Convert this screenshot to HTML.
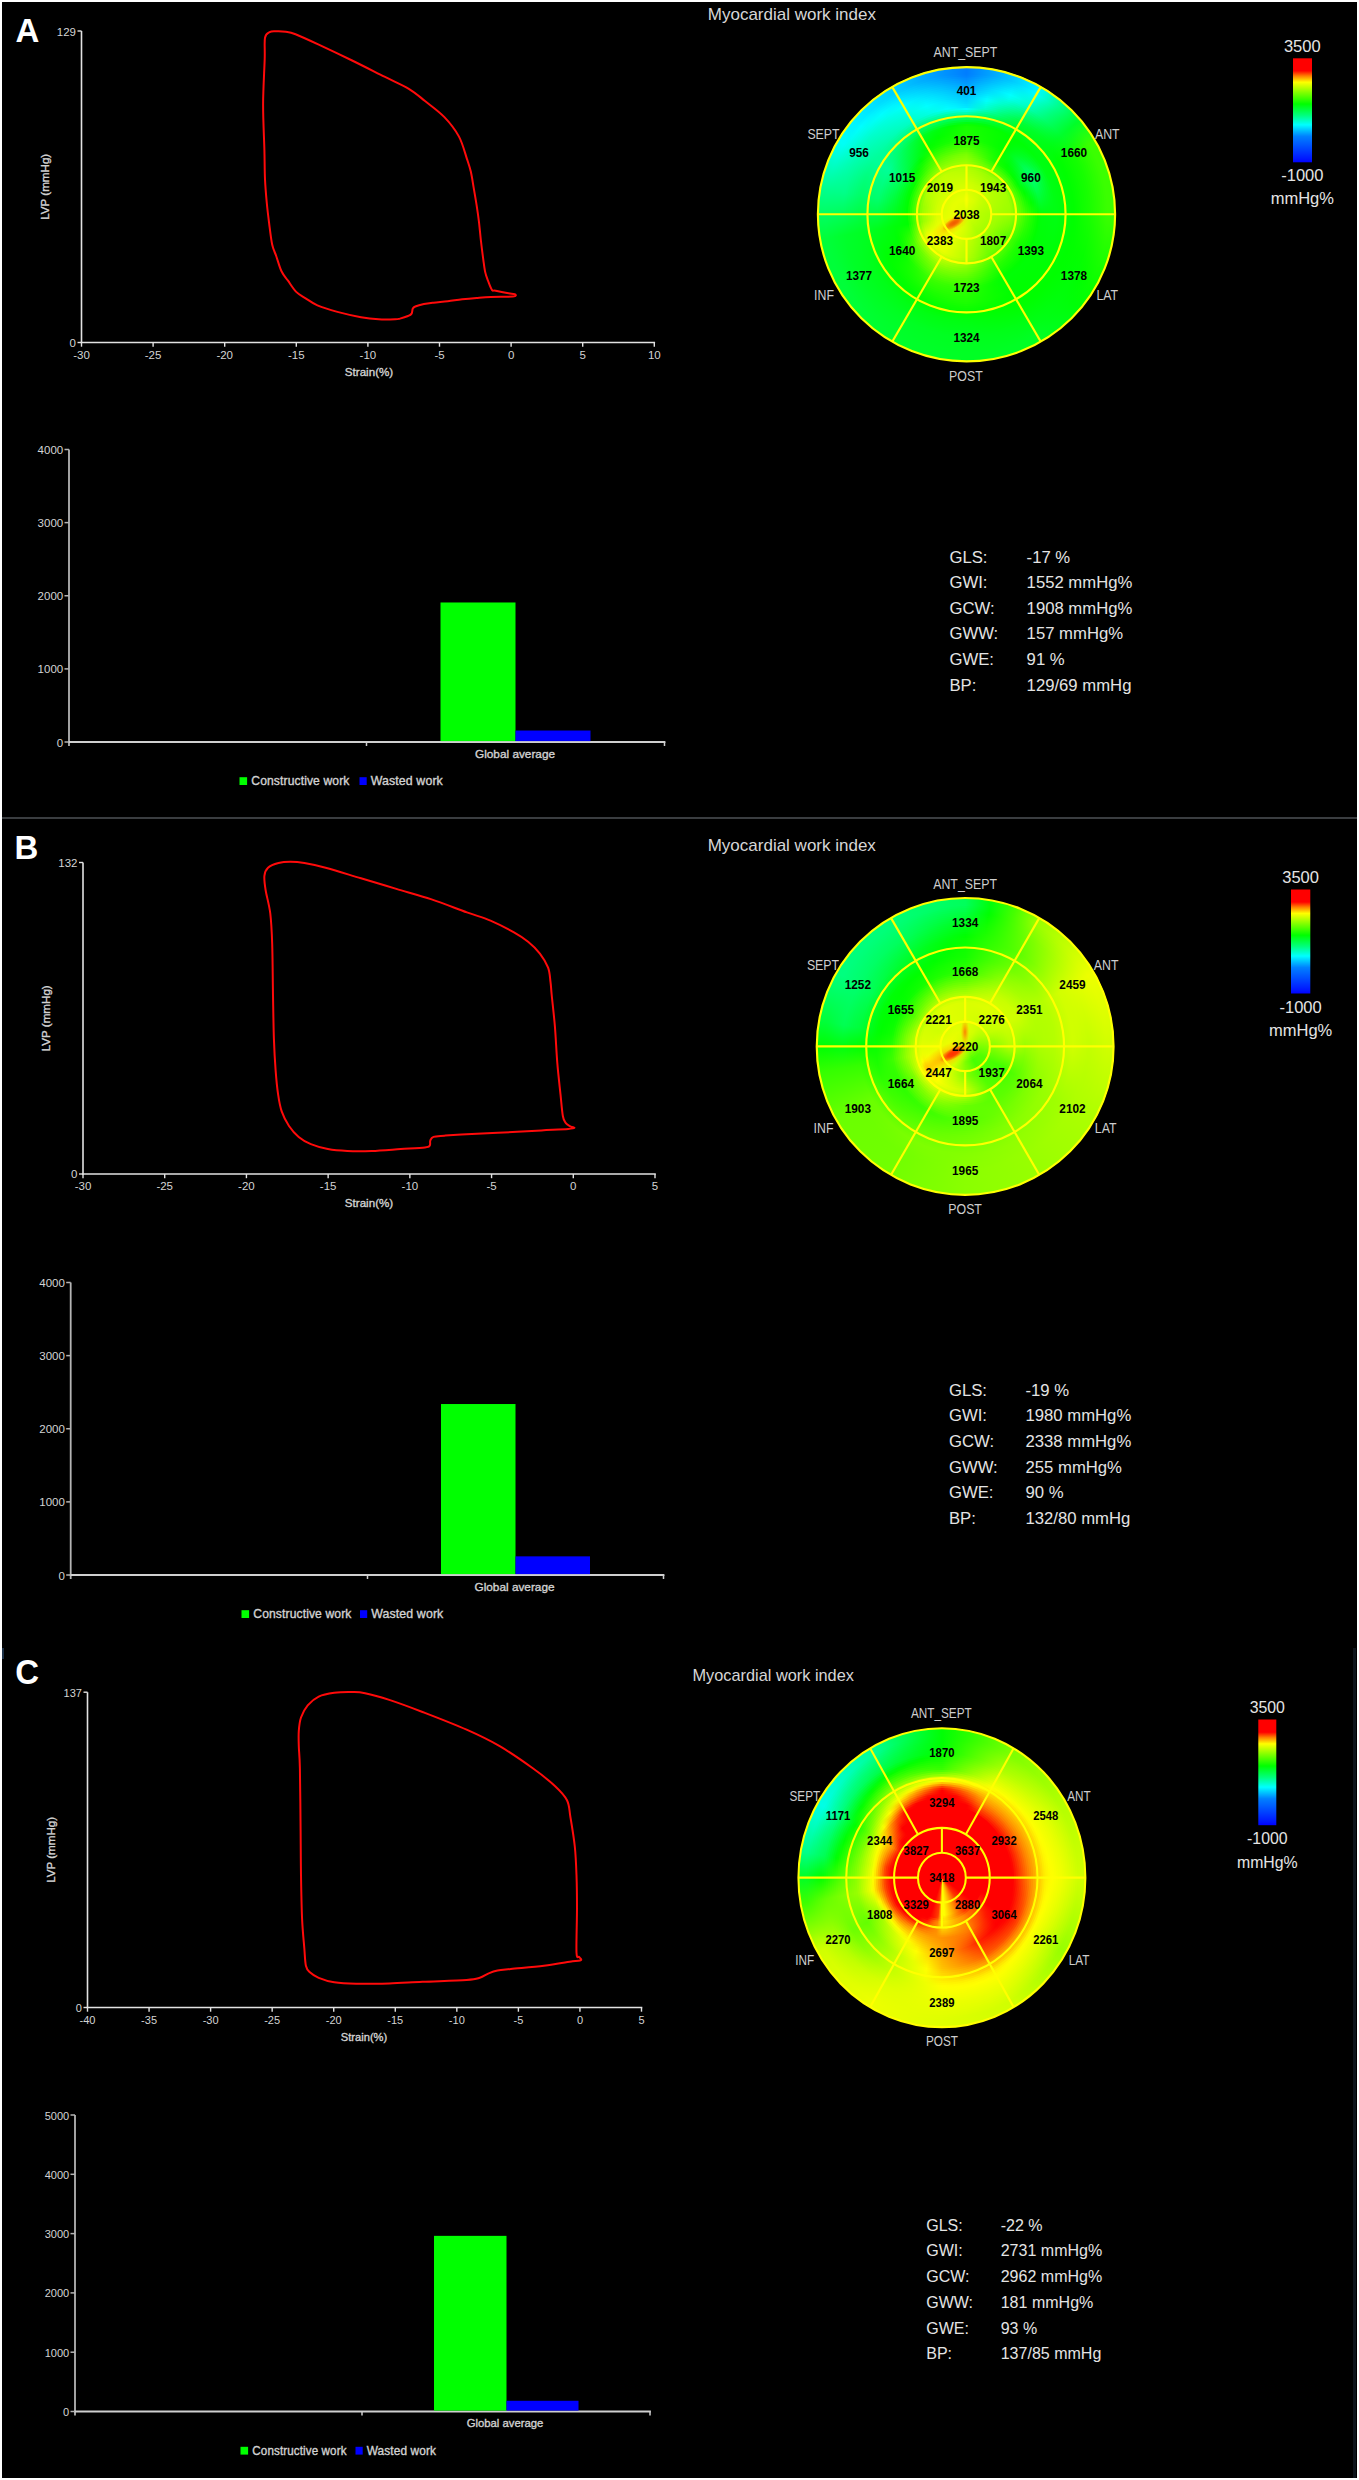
<!DOCTYPE html>
<html><head><meta charset="utf-8"><style>
html,body{margin:0;padding:0;background:#fff;}
body{position:relative;width:1359px;height:2480px;overflow:hidden}
#bg{position:absolute;left:2px;top:2px;width:1355px;height:2476px;background:#000}
svg{display:block;position:absolute;left:0;top:0}
.hm{position:absolute;width:0;height:0}
.clip{position:absolute;border-radius:50%;overflow:hidden;filter:blur(0.6px)}
.inner{position:absolute;width:0;height:0}
.inner div{position:absolute;border-radius:50%}

text{font-family:"Liberation Sans",sans-serif}
.let{font-size:33px;font-weight:bold;fill:#fff}
.ttl{font-size:17px;fill:#d6d6d6}
.st{font-size:16.7px;fill:#e4e4e4}
.cb{font-size:16.5px;fill:#e4e4e4}
.rl{font-size:14.2px;fill:#cdcdcd}
.sn{font-size:11.8px;font-weight:bold;fill:#000}
.tk{font-size:11.5px;fill:#d4d4d4}
.at{font-size:11.6px;fill:#d2d2d2;stroke:#d2d2d2;stroke-width:.35px}
.lg{font-size:12.1px;fill:#d2d2d2;stroke:#d2d2d2;stroke-width:.35px;letter-spacing:.12px}
.ga{font-size:11.8px;fill:#d2d2d2;stroke:#d2d2d2;stroke-width:.35px}

</style></head><body><div id="bg"></div><div class="hm" style="left:966.5px;top:214.3px;transform:scale(1,0.99)"><div class="clip" style="left:-148.6px;top:-148.6px;width:297.2px;height:297.2px"><div class="inner" style="left:148.6px;top:148.6px"><div style="left:-150.6px;top:-150.6px;width:301.2px;height:301.2px;background:conic-gradient(#007dff 0deg,#00a4ff 10deg,#00cfff 20deg,#00faff 30deg,#00ff8d 40deg,#00ff28 50deg,#3bff00 60deg,#3bff00 70deg,#3bff00 80deg,#3bff00 90deg,#2aff00 100deg,#19ff00 110deg,#08ff00 120deg,#00ff07 130deg,#00ff16 140deg,#00ff24 150deg,#00ff24 160deg,#00ff24 170deg,#00ff24 180deg,#00ff27 190deg,#00ff29 200deg,#00ff2c 210deg,#00ff30 220deg,#00ff35 230deg,#00ff39 240deg,#00ff39 250deg,#00ff39 260deg,#00ff62 270deg,#00ff8e 280deg,#00ffc2 290deg,#00fff6 300deg,#00f4ff 310deg,#00e1ff 320deg,#00ceff 330deg,#00b2ff 340deg,#0096ff 350deg,#007dff 360deg)"></div><div style="left:-148.6px;top:-148.6px;width:297.2px;height:297.2px;background:conic-gradient(#007dff 0deg,#00a4ff 10deg,#00cfff 20deg,#00faff 30deg,#00ff8d 40deg,#00ff28 50deg,#3bff00 60deg,#3bff00 70deg,#3bff00 80deg,#3bff00 90deg,#2aff00 100deg,#19ff00 110deg,#08ff00 120deg,#00ff07 130deg,#00ff16 140deg,#00ff24 150deg,#00ff24 160deg,#00ff24 170deg,#00ff24 180deg,#00ff27 190deg,#00ff29 200deg,#00ff2c 210deg,#00ff30 220deg,#00ff35 230deg,#00ff39 240deg,#00ff39 250deg,#00ff39 260deg,#00ff62 270deg,#00ff8e 280deg,#00ffc2 290deg,#00fff6 300deg,#00f4ff 310deg,#00e1ff 320deg,#00ceff 330deg,#00b2ff 340deg,#0096ff 350deg,#007dff 360deg)"></div><div style="left:-146.6px;top:-146.6px;width:293.2px;height:293.2px;background:conic-gradient(#007dff 0deg,#00a4ff 10deg,#00cfff 20deg,#00faff 30deg,#00ff8d 40deg,#00ff28 50deg,#3bff00 60deg,#3bff00 70deg,#3bff00 80deg,#3bff00 90deg,#2aff00 100deg,#19ff00 110deg,#08ff00 120deg,#00ff07 130deg,#00ff16 140deg,#00ff24 150deg,#00ff24 160deg,#00ff24 170deg,#00ff24 180deg,#00ff27 190deg,#00ff29 200deg,#00ff2c 210deg,#00ff30 220deg,#00ff35 230deg,#00ff39 240deg,#00ff39 250deg,#00ff39 260deg,#00ff62 270deg,#00ff8e 280deg,#00ffc2 290deg,#00fff6 300deg,#00f4ff 310deg,#00e1ff 320deg,#00ceff 330deg,#00b2ff 340deg,#0096ff 350deg,#007dff 360deg)"></div><div style="left:-144.6px;top:-144.6px;width:289.2px;height:289.2px;background:conic-gradient(#007dff 0deg,#00a4ff 10deg,#00cfff 20deg,#00faff 30deg,#00ff8d 40deg,#00ff28 50deg,#3bff00 60deg,#3bff00 70deg,#3bff00 80deg,#3bff00 90deg,#2aff00 100deg,#19ff00 110deg,#08ff00 120deg,#00ff07 130deg,#00ff16 140deg,#00ff24 150deg,#00ff24 160deg,#00ff24 170deg,#00ff24 180deg,#00ff27 190deg,#00ff29 200deg,#00ff2c 210deg,#00ff30 220deg,#00ff35 230deg,#00ff39 240deg,#00ff39 250deg,#00ff39 260deg,#00ff62 270deg,#00ff8e 280deg,#00ffc2 290deg,#00fff6 300deg,#00f4ff 310deg,#00e1ff 320deg,#00ceff 330deg,#00b2ff 340deg,#0096ff 350deg,#007dff 360deg)"></div><div style="left:-142.6px;top:-142.6px;width:285.2px;height:285.2px;background:conic-gradient(#007dff 0deg,#00a4ff 10deg,#00cfff 20deg,#00faff 30deg,#00ff8d 40deg,#00ff28 50deg,#3bff00 60deg,#3bff00 70deg,#3bff00 80deg,#3bff00 90deg,#2aff00 100deg,#19ff00 110deg,#08ff00 120deg,#00ff07 130deg,#00ff16 140deg,#00ff24 150deg,#00ff24 160deg,#00ff24 170deg,#00ff24 180deg,#00ff27 190deg,#00ff29 200deg,#00ff2c 210deg,#00ff30 220deg,#00ff35 230deg,#00ff39 240deg,#00ff39 250deg,#00ff39 260deg,#00ff62 270deg,#00ff8e 280deg,#00ffc2 290deg,#00fff6 300deg,#00f4ff 310deg,#00e1ff 320deg,#00ceff 330deg,#00b2ff 340deg,#0096ff 350deg,#007dff 360deg)"></div><div style="left:-140.6px;top:-140.6px;width:281.2px;height:281.2px;background:conic-gradient(#007fff 0deg,#00aaff 10deg,#00d5ff 20deg,#00fffe 30deg,#00ff8a 40deg,#00ff28 50deg,#38ff00 60deg,#38ff00 70deg,#38ff00 80deg,#39ff00 90deg,#28ff00 100deg,#17ff00 110deg,#07ff00 120deg,#00ff07 130deg,#00ff15 140deg,#00ff23 150deg,#00ff23 160deg,#00ff23 170deg,#00ff24 180deg,#00ff26 190deg,#00ff29 200deg,#00ff2b 210deg,#00ff2f 220deg,#00ff33 230deg,#00ff37 240deg,#00ff37 250deg,#00ff38 260deg,#00ff61 270deg,#00ff8e 280deg,#00ffbf 290deg,#00fff0 300deg,#00f9ff 310deg,#00e6ff 320deg,#00d3ff 330deg,#00b7ff 340deg,#009bff 350deg,#007fff 360deg)"></div><div style="left:-138.6px;top:-138.6px;width:277.2px;height:277.2px;background:conic-gradient(#0085ff 0deg,#00b1ff 10deg,#00dcff 20deg,#00fff6 30deg,#00ff86 40deg,#00ff29 50deg,#34ff00 60deg,#34ff00 70deg,#34ff00 80deg,#35ff00 90deg,#25ff00 100deg,#15ff00 110deg,#05ff00 120deg,#00ff07 130deg,#00ff14 140deg,#00ff21 150deg,#00ff21 160deg,#00ff22 170deg,#00ff23 180deg,#00ff26 190deg,#00ff28 200deg,#00ff2a 210deg,#00ff2e 220deg,#00ff31 230deg,#00ff35 240deg,#00ff36 250deg,#00ff36 260deg,#00ff60 270deg,#00ff8d 280deg,#00ffbb 290deg,#00ffe9 300deg,#00feff 310deg,#00ecff 320deg,#00daff 330deg,#00beff 340deg,#00a1ff 350deg,#0085ff 360deg)"></div><div style="left:-136.6px;top:-136.6px;width:273.2px;height:273.2px;background:conic-gradient(#008cff 0deg,#00b7ff 10deg,#00e3ff 20deg,#00ffed 30deg,#00ff82 40deg,#00ff29 50deg,#2fff00 60deg,#30ff00 70deg,#30ff00 80deg,#31ff00 90deg,#22ff00 100deg,#13ff00 110deg,#04ff00 120deg,#00ff08 130deg,#00ff13 140deg,#00ff1f 150deg,#00ff20 160deg,#00ff21 170deg,#00ff23 180deg,#00ff25 190deg,#00ff27 200deg,#00ff2a 210deg,#00ff2d 220deg,#00ff2f 230deg,#00ff32 240deg,#00ff34 250deg,#00ff35 260deg,#00ff5f 270deg,#00ff8c 280deg,#00ffb7 290deg,#00ffe2 300deg,#00fff8 310deg,#00f2ff 320deg,#00e0ff 330deg,#00c4ff 340deg,#00a8ff 350deg,#008cff 360deg)"></div><div style="left:-134.6px;top:-134.6px;width:269.2px;height:269.2px;background:conic-gradient(#0093ff 0deg,#00beff 10deg,#00eaff 20deg,#00ffe4 30deg,#00ff7e 40deg,#00ff29 50deg,#2bff00 60deg,#2cff00 70deg,#2cff00 80deg,#2dff00 90deg,#1fff00 100deg,#11ff00 110deg,#02ff00 120deg,#00ff08 130deg,#00ff12 140deg,#00ff1d 150deg,#00ff1e 160deg,#00ff20 170deg,#00ff22 180deg,#00ff24 190deg,#00ff26 200deg,#00ff29 210deg,#00ff2b 220deg,#00ff2e 230deg,#00ff30 240deg,#00ff32 250deg,#00ff33 260deg,#00ff5e 270deg,#00ff8b 280deg,#00ffb3 290deg,#00ffdb 300deg,#00fff1 310deg,#00f8ff 320deg,#00e6ff 330deg,#00caff 340deg,#00aeff 350deg,#0093ff 360deg)"></div><div style="left:-132.6px;top:-132.6px;width:265.2px;height:265.2px;background:conic-gradient(#0099ff 0deg,#00c5ff 10deg,#00f1ff 20deg,#00ffdb 30deg,#00ff7b 40deg,#00ff2a 50deg,#27ff00 60deg,#28ff00 70deg,#29ff00 80deg,#29ff00 90deg,#1cff00 100deg,#0eff00 110deg,#01ff00 120deg,#00ff08 130deg,#00ff11 140deg,#00ff1a 150deg,#00ff1d 160deg,#00ff1f 170deg,#00ff21 180deg,#00ff24 190deg,#00ff26 200deg,#00ff28 210deg,#00ff2a 220deg,#00ff2c 230deg,#00ff2e 240deg,#00ff30 250deg,#00ff32 260deg,#00ff5d 270deg,#00ff8b 280deg,#00ffaf 290deg,#00ffd4 300deg,#00ffea 310deg,#00feff 320deg,#00edff 330deg,#00d1ff 340deg,#00b5ff 350deg,#0099ff 360deg)"></div><div style="left:-130.6px;top:-130.6px;width:261.2px;height:261.2px;background:conic-gradient(#00a0ff 0deg,#00ccff 10deg,#00f8ff 20deg,#00ffd2 30deg,#00ff77 40deg,#00ff2a 50deg,#22ff00 60deg,#23ff00 70deg,#25ff00 80deg,#26ff00 90deg,#19ff00 100deg,#0cff00 110deg,#00ff01 120deg,#00ff09 130deg,#00ff11 140deg,#00ff18 150deg,#00ff1b 160deg,#00ff1e 170deg,#00ff21 180deg,#00ff23 190deg,#00ff25 200deg,#00ff27 210deg,#00ff28 220deg,#00ff2a 230deg,#00ff2b 240deg,#00ff2e 250deg,#00ff30 260deg,#00ff5c 270deg,#00ff8a 280deg,#00ffab 290deg,#00ffcd 300deg,#00ffe3 310deg,#00fff8 320deg,#00f3ff 330deg,#00d7ff 340deg,#00bcff 350deg,#00a0ff 360deg)"></div><div style="left:-128.6px;top:-128.6px;width:257.2px;height:257.2px;background:conic-gradient(#00a6ff 0deg,#00d3ff 10deg,#00ffff 20deg,#00ffca 30deg,#00ff74 40deg,#00ff2b 50deg,#1eff00 60deg,#1fff00 70deg,#21ff00 80deg,#22ff00 90deg,#16ff00 100deg,#0aff00 110deg,#00ff02 120deg,#00ff09 130deg,#00ff10 140deg,#00ff16 150deg,#00ff1a 160deg,#00ff1d 170deg,#00ff20 180deg,#00ff22 190deg,#00ff24 200deg,#00ff26 210deg,#00ff27 220deg,#00ff28 230deg,#00ff29 240deg,#00ff2c 250deg,#00ff2f 260deg,#00ff5b 270deg,#00ff89 280deg,#00ffa8 290deg,#00ffc6 300deg,#00ffdb 310deg,#00fff1 320deg,#00f9ff 330deg,#00deff 340deg,#00c2ff 350deg,#00a6ff 360deg)"></div><div style="left:-126.6px;top:-126.6px;width:253.2px;height:253.2px;background:conic-gradient(#00adff 0deg,#00d9ff 10deg,#00fff7 20deg,#00ffc1 30deg,#00ff70 40deg,#00ff2b 50deg,#1aff00 60deg,#1bff00 70deg,#1dff00 80deg,#1eff00 90deg,#13ff00 100deg,#08ff00 110deg,#00ff04 120deg,#00ff09 130deg,#00ff0f 140deg,#00ff14 150deg,#00ff18 160deg,#00ff1c 170deg,#00ff20 180deg,#00ff22 190deg,#00ff23 200deg,#00ff25 210deg,#00ff26 220deg,#00ff26 230deg,#00ff27 240deg,#00ff2a 250deg,#00ff2e 260deg,#00ff5a 270deg,#00ff89 280deg,#00ffa4 290deg,#00ffbf 300deg,#00ffd4 310deg,#00ffe9 320deg,#00fffe 330deg,#00e4ff 340deg,#00c9ff 350deg,#00adff 360deg)"></div><div style="left:-124.6px;top:-124.6px;width:249.2px;height:249.2px;background:conic-gradient(#00b4ff 0deg,#00e0ff 10deg,#00ffee 20deg,#00ffb8 30deg,#00ff6d 40deg,#00ff2c 50deg,#15ff00 60deg,#17ff00 70deg,#19ff00 80deg,#1aff00 90deg,#10ff00 100deg,#05ff00 110deg,#00ff05 120deg,#00ff09 130deg,#00ff0e 140deg,#00ff12 150deg,#00ff17 160deg,#00ff1b 170deg,#00ff1f 180deg,#00ff21 190deg,#00ff23 200deg,#00ff24 210deg,#00ff24 220deg,#00ff24 230deg,#00ff25 240deg,#00ff28 250deg,#00ff2c 260deg,#00ff59 270deg,#00ff88 280deg,#00ffa0 290deg,#00ffb8 300deg,#00ffcd 310deg,#00ffe2 320deg,#00fff7 330deg,#00eaff 340deg,#00cfff 350deg,#00b4ff 360deg)"></div><div style="left:-122.6px;top:-122.6px;width:245.2px;height:245.2px;background:conic-gradient(#00baff 0deg,#00e9ff 10deg,#00ffe1 20deg,#00ffa8 30deg,#00ff65 40deg,#00ff29 50deg,#12ff00 60deg,#14ff00 70deg,#16ff00 80deg,#17ff00 90deg,#0eff00 100deg,#05ff00 110deg,#00ff05 120deg,#00ff08 130deg,#00ff0c 140deg,#00ff10 150deg,#00ff15 160deg,#00ff19 170deg,#00ff1d 180deg,#00ff1f 190deg,#00ff21 200deg,#00ff22 210deg,#00ff23 220deg,#00ff23 230deg,#00ff23 240deg,#00ff27 250deg,#00ff2b 260deg,#00ff57 270deg,#00ff84 280deg,#00ff9c 290deg,#00ffb4 300deg,#00ffc8 310deg,#00ffdc 320deg,#00fff1 330deg,#00f0ff 340deg,#00d5ff 350deg,#00baff 360deg)"></div><div style="left:-120.6px;top:-120.6px;width:241.2px;height:241.2px;background:conic-gradient(#00c0ff 0deg,#00f2ff 10deg,#00ffd3 20deg,#00ff97 30deg,#00ff5c 40deg,#00ff26 50deg,#10ff00 60deg,#11ff00 70deg,#13ff00 80deg,#14ff00 90deg,#0cff00 100deg,#04ff00 110deg,#00ff04 120deg,#00ff07 130deg,#00ff0b 140deg,#00ff0e 150deg,#00ff12 160deg,#00ff17 170deg,#00ff1b 180deg,#00ff1d 190deg,#00ff1f 200deg,#00ff20 210deg,#00ff21 220deg,#00ff21 230deg,#00ff22 240deg,#00ff26 250deg,#00ff2a 260deg,#00ff54 270deg,#00ff7f 280deg,#00ff97 290deg,#00ffb0 300deg,#00ffc3 310deg,#00ffd7 320deg,#00ffeb 330deg,#00f5ff 340deg,#00dbff 350deg,#00c0ff 360deg)"></div><div style="left:-118.6px;top:-118.6px;width:237.2px;height:237.2px;background:conic-gradient(#00c7ff 0deg,#00fbff 10deg,#00ffc5 20deg,#00ff85 30deg,#00ff54 40deg,#00ff23 50deg,#0dff00 60deg,#0fff00 70deg,#10ff00 80deg,#11ff00 90deg,#0aff00 100deg,#03ff00 110deg,#00ff03 120deg,#00ff06 130deg,#00ff09 140deg,#00ff0c 150deg,#00ff10 160deg,#00ff15 170deg,#00ff1a 180deg,#00ff1b 190deg,#00ff1c 200deg,#00ff1e 210deg,#00ff1f 220deg,#00ff20 230deg,#00ff21 240deg,#00ff25 250deg,#00ff29 260deg,#00ff52 270deg,#00ff7b 280deg,#00ff93 290deg,#00ffac 300deg,#00ffbf 310deg,#00ffd2 320deg,#00ffe5 330deg,#00faff 340deg,#00e0ff 350deg,#00c7ff 360deg)"></div><div style="left:-116.6px;top:-116.6px;width:233.2px;height:233.2px;background:conic-gradient(#00cdff 0deg,#00fffa 10deg,#00ffb7 20deg,#00ff76 30deg,#00ff4b 40deg,#00ff20 50deg,#0bff00 60deg,#0cff00 70deg,#0dff00 80deg,#0eff00 90deg,#08ff00 100deg,#03ff00 110deg,#00ff03 120deg,#00ff05 130deg,#00ff07 140deg,#00ff0a 150deg,#00ff0e 160deg,#00ff13 170deg,#00ff18 180deg,#00ff19 190deg,#00ff1a 200deg,#00ff1c 210deg,#00ff1d 220deg,#00ff1e 230deg,#00ff1f 240deg,#00ff24 250deg,#00ff28 260deg,#00ff4f 270deg,#00ff77 280deg,#00ff8e 290deg,#00ffa8 300deg,#00ffba 310deg,#00ffcd 320deg,#00ffdf 330deg,#00fffe 340deg,#00e6ff 350deg,#00cdff 360deg)"></div><div style="left:-114.6px;top:-114.6px;width:229.2px;height:229.2px;background:conic-gradient(#00d3ff 0deg,#00ffef 10deg,#00ffa9 20deg,#00ff68 30deg,#00ff42 40deg,#00ff1d 50deg,#08ff00 60deg,#09ff00 70deg,#0aff00 80deg,#0aff00 90deg,#06ff00 100deg,#02ff00 110deg,#00ff02 120deg,#00ff04 130deg,#00ff06 140deg,#00ff07 150deg,#00ff0c 160deg,#00ff11 170deg,#00ff16 180deg,#00ff17 190deg,#00ff18 200deg,#00ff19 210deg,#00ff1b 220deg,#00ff1c 230deg,#00ff1e 240deg,#00ff23 250deg,#00ff27 260deg,#00ff4d 270deg,#00ff72 280deg,#00ff8a 290deg,#00ffa4 300deg,#00ffb6 310deg,#00ffc8 320deg,#00ffda 330deg,#00fff8 340deg,#00ecff 350deg,#00d3ff 360deg)"></div><div style="left:-112.6px;top:-112.6px;width:225.2px;height:225.2px;background:conic-gradient(#00d9ff 0deg,#00ffe4 10deg,#00ff9b 20deg,#00ff5a 30deg,#00ff3a 40deg,#00ff1a 50deg,#06ff00 60deg,#06ff00 70deg,#07ff00 80deg,#07ff00 90deg,#04ff00 100deg,#01ff00 110deg,#00ff01 120deg,#00ff03 130deg,#00ff04 140deg,#00ff05 150deg,#00ff0a 160deg,#00ff0f 170deg,#00ff14 180deg,#00ff15 190deg,#00ff16 200deg,#00ff17 210deg,#00ff19 220deg,#00ff1b 230deg,#00ff1d 240deg,#00ff22 250deg,#00ff26 260deg,#00ff4a 270deg,#00ff6e 280deg,#00ff85 290deg,#00ffa0 300deg,#00ffb2 310deg,#00ffc3 320deg,#00ffd4 330deg,#00fff2 340deg,#00f2ff 350deg,#00d9ff 360deg)"></div><div style="left:-110.6px;top:-110.6px;width:221.2px;height:221.2px;background:conic-gradient(#00e0ff 0deg,#00ffd9 10deg,#00ff8d 20deg,#00ff4b 30deg,#00ff31 40deg,#00ff17 50deg,#03ff00 60deg,#04ff00 70deg,#04ff00 80deg,#04ff00 90deg,#02ff00 100deg,#01ff00 110deg,#00ff01 120deg,#00ff02 130deg,#00ff02 140deg,#00ff03 150deg,#00ff08 160deg,#00ff0d 170deg,#00ff12 180deg,#00ff13 190deg,#00ff14 200deg,#00ff15 210deg,#00ff17 220deg,#00ff19 230deg,#00ff1c 240deg,#00ff20 250deg,#00ff25 260deg,#00ff48 270deg,#00ff6a 280deg,#00ff81 290deg,#00ff9d 300deg,#00ffad 310deg,#00ffbe 320deg,#00ffce 330deg,#00ffeb 340deg,#00f7ff 350deg,#00e0ff 360deg)"></div><div style="left:-108.6px;top:-108.6px;width:217.2px;height:217.2px;background:conic-gradient(#00e6ff 0deg,#00ffce 10deg,#00ff7f 20deg,#00ff3d 30deg,#00ff29 40deg,#00ff14 50deg,#01ff00 60deg,#01ff00 70deg,#01ff00 80deg,#01ff00 90deg,#01ff00 100deg,#00ff00 110deg,#00ff00 120deg,#00ff00 130deg,#00ff01 140deg,#00ff01 150deg,#00ff06 160deg,#00ff0b 170deg,#00ff10 180deg,#00ff11 190deg,#00ff12 200deg,#00ff13 210deg,#00ff15 220deg,#00ff18 230deg,#00ff1a 240deg,#00ff1f 250deg,#00ff24 260deg,#00ff45 270deg,#00ff66 280deg,#00ff7d 290deg,#00ff99 300deg,#00ffa9 310deg,#00ffb8 320deg,#00ffc8 330deg,#00ffe5 340deg,#00fdff 350deg,#00e6ff 360deg)"></div><div style="left:-106.6px;top:-106.6px;width:213.2px;height:213.2px;background:conic-gradient(#00fdff 0deg,#00ffb7 10deg,#00ff71 20deg,#00ff34 30deg,#00ff23 40deg,#00ff12 50deg,#00ff01 60deg,#00ff01 70deg,#00ff01 80deg,#00ff01 90deg,#00ff01 100deg,#00ff01 110deg,#00ff00 120deg,#00ff00 130deg,#00ff00 140deg,#00ff00 150deg,#00ff04 160deg,#00ff08 170deg,#00ff0c 180deg,#00ff0d 190deg,#00ff0e 200deg,#00ff0f 210deg,#00ff12 220deg,#00ff15 230deg,#00ff18 240deg,#00ff1e 250deg,#00ff23 260deg,#00ff44 270deg,#00ff65 280deg,#00ff7c 290deg,#00ff98 300deg,#00ffa2 310deg,#00ffad 320deg,#00ffb8 330deg,#00ffd0 340deg,#00ffe9 350deg,#00fdff 360deg)"></div><div style="left:-104.6px;top:-104.6px;width:209.2px;height:209.2px;background:conic-gradient(#00ffdb 0deg,#00ff9c 10deg,#00ff63 20deg,#00ff2e 30deg,#00ff20 40deg,#00ff12 50deg,#00ff03 60deg,#00ff03 70deg,#00ff03 80deg,#00ff03 90deg,#00ff03 100deg,#00ff02 110deg,#00ff01 120deg,#00ff01 130deg,#00ff00 140deg,#00ff00 150deg,#00ff02 160deg,#00ff05 170deg,#00ff07 180deg,#00ff09 190deg,#00ff0a 200deg,#00ff0c 210deg,#00ff0f 220deg,#00ff12 230deg,#00ff15 240deg,#00ff1c 250deg,#00ff22 260deg,#00ff44 270deg,#00ff66 280deg,#00ff7d 290deg,#00ff98 300deg,#00ff9b 310deg,#00ff9f 320deg,#00ffa3 330deg,#00ffb6 340deg,#00ffc9 350deg,#00ffdb 360deg)"></div><div style="left:-102.6px;top:-102.6px;width:205.2px;height:205.2px;background:conic-gradient(#00ffb6 0deg,#00ff80 10deg,#00ff54 20deg,#00ff28 30deg,#00ff1c 40deg,#00ff11 50deg,#00ff05 60deg,#00ff05 70deg,#00ff05 80deg,#00ff05 90deg,#00ff04 100deg,#00ff03 110deg,#00ff02 120deg,#00ff01 130deg,#00ff01 140deg,#00ff00 150deg,#00ff01 160deg,#00ff01 170deg,#00ff02 180deg,#00ff04 190deg,#00ff06 200deg,#00ff08 210deg,#00ff0b 220deg,#00ff0f 230deg,#00ff12 240deg,#00ff1a 250deg,#00ff21 260deg,#00ff44 270deg,#00ff67 280deg,#00ff7d 290deg,#00ff98 300deg,#00ff94 310deg,#00ff91 320deg,#00ff8e 330deg,#00ff9b 340deg,#00ffa8 350deg,#00ffb6 360deg)"></div><div style="left:-100.6px;top:-100.6px;width:201.2px;height:201.2px;background:conic-gradient(#00ff90 0deg,#00ff69 10deg,#00ff45 20deg,#00ff21 30deg,#00ff19 40deg,#00ff10 50deg,#00ff08 60deg,#00ff08 70deg,#00ff08 80deg,#00ff08 90deg,#00ff06 100deg,#00ff04 110deg,#00ff02 120deg,#00ff01 130deg,#00ff01 140deg,#00ff00 150deg,#01ff00 160deg,#02ff00 170deg,#03ff00 180deg,#00ff00 190deg,#00ff02 200deg,#00ff04 210deg,#00ff08 220deg,#00ff0b 230deg,#00ff0f 240deg,#00ff18 250deg,#00ff20 260deg,#00ff44 270deg,#00ff68 280deg,#00ff7e 290deg,#00ff98 300deg,#00ff8d 310deg,#00ff83 320deg,#00ff7a 330deg,#00ff80 340deg,#00ff88 350deg,#00ff90 360deg)"></div><div style="left:-98.6px;top:-98.6px;width:197.2px;height:197.2px;background:conic-gradient(#00ff6e 0deg,#00ff52 10deg,#00ff37 20deg,#00ff1b 30deg,#00ff15 40deg,#00ff0f 50deg,#00ff0a 60deg,#00ff0a 70deg,#00ff0a 80deg,#00ff0a 90deg,#00ff07 100deg,#00ff05 110deg,#00ff03 120deg,#00ff02 130deg,#00ff01 140deg,#00ff00 150deg,#03ff00 160deg,#05ff00 170deg,#08ff00 180deg,#05ff00 190deg,#02ff00 200deg,#00ff00 210deg,#00ff04 220deg,#00ff08 230deg,#00ff0c 240deg,#00ff15 250deg,#00ff1f 260deg,#00ff44 270deg,#00ff69 280deg,#00ff7e 290deg,#00ff98 300deg,#00ff86 310deg,#00ff77 320deg,#00ff68 330deg,#00ff6a 340deg,#00ff6c 350deg,#00ff6e 360deg)"></div><div style="left:-96.6px;top:-96.6px;width:193.2px;height:193.2px;background:conic-gradient(#00ff4f 0deg,#00ff3c 10deg,#00ff28 20deg,#00ff15 30deg,#00ff12 40deg,#00ff0f 50deg,#00ff0c 60deg,#00ff0c 70deg,#00ff0c 80deg,#00ff0c 90deg,#00ff09 100deg,#00ff06 110deg,#00ff03 120deg,#00ff02 130deg,#00ff01 140deg,#00ff00 150deg,#04ff00 160deg,#08ff00 170deg,#0dff00 180deg,#0aff00 190deg,#06ff00 200deg,#03ff00 210deg,#00ff01 220deg,#00ff05 230deg,#00ff09 240deg,#00ff13 250deg,#00ff1e 260deg,#00ff44 270deg,#00ff6a 280deg,#00ff7f 290deg,#00ff98 300deg,#00ff7f 310deg,#00ff6b 320deg,#00ff57 330deg,#00ff54 340deg,#00ff52 350deg,#00ff4f 360deg)"></div><div style="left:-94.6px;top:-94.6px;width:189.2px;height:189.2px;background:conic-gradient(#00ff30 0deg,#00ff25 10deg,#00ff1a 20deg,#00ff0e 30deg,#00ff0e 40deg,#00ff0e 50deg,#00ff0e 60deg,#00ff0e 70deg,#00ff0e 80deg,#00ff0e 90deg,#00ff0a 100deg,#00ff07 110deg,#00ff04 120deg,#00ff03 130deg,#00ff01 140deg,#00ff00 150deg,#06ff00 160deg,#0cff00 170deg,#11ff00 180deg,#0eff00 190deg,#0bff00 200deg,#07ff00 210deg,#03ff00 220deg,#00ff02 230deg,#00ff06 240deg,#00ff11 250deg,#00ff1c 260deg,#00ff44 270deg,#00ff6b 280deg,#00ff7f 290deg,#00ff98 300deg,#00ff79 310deg,#00ff60 320deg,#00ff46 330deg,#00ff3f 340deg,#00ff37 350deg,#00ff30 360deg)"></div><div style="left:-92.6px;top:-92.6px;width:185.2px;height:185.2px;background:conic-gradient(#00ff11 0deg,#00ff0e 10deg,#00ff0b 20deg,#00ff08 30deg,#00ff0a 40deg,#00ff0d 50deg,#00ff10 60deg,#00ff10 70deg,#00ff10 80deg,#00ff10 90deg,#00ff0c 100deg,#00ff08 110deg,#00ff04 120deg,#00ff03 130deg,#00ff01 140deg,#00ff00 150deg,#07ff00 160deg,#0fff00 170deg,#16ff00 180deg,#13ff00 190deg,#0fff00 200deg,#0bff00 210deg,#06ff00 220deg,#01ff00 230deg,#00ff04 240deg,#00ff0f 250deg,#00ff1b 260deg,#00ff43 270deg,#00ff6c 280deg,#00ff7f 290deg,#00ff98 300deg,#00ff74 310deg,#00ff54 320deg,#00ff34 330deg,#00ff29 340deg,#00ff1d 350deg,#00ff11 360deg)"></div><div style="left:-90.6px;top:-90.6px;width:181.2px;height:181.2px;background:conic-gradient(#0eff00 0deg,#09ff00 10deg,#04ff00 20deg,#00ff01 30deg,#00ff07 40deg,#00ff0c 50deg,#00ff12 60deg,#00ff12 70deg,#00ff12 80deg,#00ff12 90deg,#00ff0d 100deg,#00ff09 110deg,#00ff05 120deg,#00ff03 130deg,#00ff02 140deg,#00ff00 150deg,#09ff00 160deg,#12ff00 170deg,#1bff00 180deg,#17ff00 190deg,#13ff00 200deg,#0fff00 210deg,#0aff00 220deg,#04ff00 230deg,#00ff01 240deg,#00ff0d 250deg,#00ff1a 260deg,#00ff43 270deg,#00ff6c 280deg,#00ff80 290deg,#00ff98 300deg,#00ff6e 310deg,#00ff48 320deg,#00ff23 330deg,#00ff13 340deg,#00ff02 350deg,#0eff00 360deg)"></div><div style="left:-88.6px;top:-88.6px;width:177.2px;height:177.2px;background:conic-gradient(#16ff00 0deg,#0fff00 10deg,#07ff00 20deg,#00ff00 30deg,#00ff0a 40deg,#00ff13 50deg,#00ff1d 60deg,#00ff19 70deg,#00ff15 80deg,#00ff11 90deg,#00ff0d 100deg,#00ff09 110deg,#00ff05 120deg,#00ff04 130deg,#00ff02 140deg,#00ff01 150deg,#0aff00 160deg,#14ff00 170deg,#1eff00 180deg,#1bff00 190deg,#18ff00 200deg,#14ff00 210deg,#0dff00 220deg,#07ff00 230deg,#00ff00 240deg,#00ff0c 250deg,#00ff18 260deg,#00ff40 270deg,#00ff67 280deg,#00ff7b 290deg,#00ff91 300deg,#00ff68 310deg,#00ff41 320deg,#00ff1b 330deg,#00ff0b 340deg,#06ff00 350deg,#16ff00 360deg)"></div><div style="left:-86.6px;top:-86.6px;width:173.2px;height:173.2px;background:conic-gradient(#18ff00 0deg,#10ff00 10deg,#08ff00 20deg,#00ff00 30deg,#00ff0e 40deg,#00ff1d 50deg,#00ff2b 60deg,#00ff22 70deg,#00ff19 80deg,#00ff10 90deg,#00ff0d 100deg,#00ff09 110deg,#00ff05 120deg,#00ff04 130deg,#00ff03 140deg,#00ff01 150deg,#0aff00 160deg,#15ff00 170deg,#21ff00 180deg,#1fff00 190deg,#1cff00 200deg,#1aff00 210deg,#11ff00 220deg,#09ff00 230deg,#00ff00 240deg,#00ff0b 250deg,#00ff16 260deg,#00ff3b 270deg,#00ff60 280deg,#00ff74 290deg,#00ff88 300deg,#00ff61 310deg,#00ff3b 320deg,#00ff16 330deg,#00ff07 340deg,#09ff00 350deg,#18ff00 360deg)"></div><div style="left:-84.6px;top:-84.6px;width:169.2px;height:169.2px;background:conic-gradient(#1aff00 0deg,#11ff00 10deg,#09ff00 20deg,#00ff00 30deg,#00ff13 40deg,#00ff26 50deg,#00ff39 60deg,#00ff2b 70deg,#00ff1d 80deg,#00ff0f 90deg,#00ff0c 100deg,#00ff09 110deg,#00ff05 120deg,#00ff04 130deg,#00ff03 140deg,#00ff02 150deg,#0aff00 160deg,#17ff00 170deg,#23ff00 180deg,#22ff00 190deg,#21ff00 200deg,#20ff00 210deg,#15ff00 220deg,#0bff00 230deg,#00ff00 240deg,#00ff0a 250deg,#00ff14 260deg,#00ff37 270deg,#00ff59 280deg,#00ff6d 290deg,#00ff80 300deg,#00ff5b 310deg,#00ff36 320deg,#00ff11 330deg,#00ff03 340deg,#0cff00 350deg,#1aff00 360deg)"></div><div style="left:-82.6px;top:-82.6px;width:165.2px;height:165.2px;background:conic-gradient(#1bff00 0deg,#12ff00 10deg,#09ff00 20deg,#00ff00 30deg,#00ff18 40deg,#00ff2f 50deg,#00ff47 60deg,#00ff34 70deg,#00ff21 80deg,#00ff0e 90deg,#00ff0b 100deg,#00ff08 110deg,#00ff05 120deg,#00ff04 130deg,#00ff03 140deg,#00ff03 150deg,#0bff00 160deg,#18ff00 170deg,#26ff00 180deg,#26ff00 190deg,#26ff00 200deg,#26ff00 210deg,#19ff00 220deg,#0dff00 230deg,#00ff00 240deg,#00ff09 250deg,#00ff12 260deg,#00ff32 270deg,#00ff52 280deg,#00ff66 290deg,#00ff79 300deg,#00ff54 310deg,#00ff30 320deg,#00ff0b 330deg,#02ff00 340deg,#0eff00 350deg,#1bff00 360deg)"></div><div style="left:-80.6px;top:-80.6px;width:161.2px;height:161.2px;background:conic-gradient(#1dff00 0deg,#13ff00 10deg,#0aff00 20deg,#00ff00 30deg,#00ff1c 40deg,#00ff38 50deg,#00ff55 60deg,#00ff3d 70deg,#00ff25 80deg,#00ff0d 90deg,#00ff0a 100deg,#00ff08 110deg,#00ff05 120deg,#00ff05 130deg,#00ff04 140deg,#00ff03 150deg,#0bff00 160deg,#1aff00 170deg,#28ff00 180deg,#29ff00 190deg,#2bff00 200deg,#2cff00 210deg,#1dff00 220deg,#0fff00 230deg,#00ff00 240deg,#00ff08 250deg,#00ff10 260deg,#00ff2e 270deg,#00ff4b 280deg,#00ff5f 290deg,#00ff72 300deg,#00ff4e 310deg,#00ff2a 320deg,#00ff06 330deg,#06ff00 340deg,#11ff00 350deg,#1dff00 360deg)"></div><div style="left:-78.6px;top:-78.6px;width:157.2px;height:157.2px;background:conic-gradient(#1fff00 0deg,#14ff00 10deg,#0aff00 20deg,#00ff00 30deg,#00ff21 40deg,#00ff42 50deg,#00ff63 60deg,#00ff46 70deg,#00ff29 80deg,#00ff0c 90deg,#00ff0a 100deg,#00ff07 110deg,#00ff05 120deg,#00ff05 130deg,#00ff04 140deg,#00ff04 150deg,#0bff00 160deg,#1bff00 170deg,#2bff00 180deg,#2dff00 190deg,#2fff00 200deg,#32ff00 210deg,#21ff00 220deg,#11ff00 230deg,#00ff00 240deg,#00ff07 250deg,#00ff0e 260deg,#00ff29 270deg,#00ff44 280deg,#00ff58 290deg,#00ff6b 300deg,#00ff48 310deg,#00ff24 320deg,#00ff01 330deg,#0aff00 340deg,#14ff00 350deg,#1fff00 360deg)"></div><div style="left:-76.6px;top:-76.6px;width:153.2px;height:153.2px;background:conic-gradient(#20ff00 0deg,#16ff00 10deg,#0bff00 20deg,#00ff00 30deg,#00ff25 40deg,#00ff4b 50deg,#00ff70 60deg,#00ff4f 70deg,#00ff2d 80deg,#00ff0b 90deg,#00ff09 100deg,#00ff07 110deg,#00ff05 120deg,#00ff05 130deg,#00ff05 140deg,#00ff05 150deg,#0cff00 160deg,#1cff00 170deg,#2dff00 180deg,#31ff00 190deg,#34ff00 200deg,#38ff00 210deg,#25ff00 220deg,#13ff00 230deg,#00ff00 240deg,#00ff06 250deg,#00ff0c 260deg,#00ff25 270deg,#00ff3d 280deg,#00ff51 290deg,#00ff64 300deg,#00ff41 310deg,#00ff1e 320deg,#04ff00 330deg,#0eff00 340deg,#17ff00 350deg,#20ff00 360deg)"></div><div style="left:-74.6px;top:-74.6px;width:149.2px;height:149.2px;background:conic-gradient(#26ff00 0deg,#1aff00 10deg,#0dff00 20deg,#01ff00 30deg,#00ff26 40deg,#00ff4d 50deg,#00ff74 60deg,#00ff50 70deg,#00ff2b 80deg,#00ff07 90deg,#00ff06 100deg,#00ff05 110deg,#00ff04 120deg,#00ff03 130deg,#00ff03 140deg,#00ff03 150deg,#0fff00 160deg,#20ff00 170deg,#32ff00 180deg,#36ff00 190deg,#3bff00 200deg,#3fff00 210deg,#2bff00 220deg,#18ff00 230deg,#04ff00 240deg,#00ff03 250deg,#00ff0a 260deg,#00ff20 270deg,#00ff36 280deg,#00ff49 290deg,#00ff5b 300deg,#00ff39 310deg,#00ff16 320deg,#0cff00 330deg,#15ff00 340deg,#1dff00 350deg,#26ff00 360deg)"></div><div style="left:-72.6px;top:-72.6px;width:145.2px;height:145.2px;background:conic-gradient(#32ff00 0deg,#23ff00 10deg,#13ff00 20deg,#04ff00 30deg,#00ff1f 40deg,#00ff42 50deg,#00ff64 60deg,#00ff42 70deg,#00ff20 80deg,#02ff00 90deg,#02ff00 100deg,#01ff00 110deg,#00ff00 120deg,#01ff00 130deg,#02ff00 140deg,#03ff00 150deg,#16ff00 160deg,#28ff00 170deg,#3aff00 180deg,#3fff00 190deg,#44ff00 200deg,#4aff00 210deg,#36ff00 220deg,#23ff00 230deg,#10ff00 240deg,#04ff00 250deg,#00ff08 260deg,#00ff1c 270deg,#00ff2f 280deg,#00ff3e 290deg,#00ff4d 300deg,#00ff2b 310deg,#00ff09 320deg,#18ff00 330deg,#21ff00 340deg,#29ff00 350deg,#32ff00 360deg)"></div><div style="left:-70.6px;top:-70.6px;width:141.2px;height:141.2px;background:conic-gradient(#3eff00 0deg,#2cff00 10deg,#19ff00 20deg,#07ff00 30deg,#00ff18 40deg,#00ff36 50deg,#00ff55 60deg,#00ff35 70deg,#00ff14 80deg,#0cff00 90deg,#09ff00 100deg,#07ff00 110deg,#05ff00 120deg,#06ff00 130deg,#08ff00 140deg,#0aff00 150deg,#1dff00 160deg,#30ff00 170deg,#43ff00 180deg,#49ff00 190deg,#4eff00 200deg,#54ff00 210deg,#41ff00 220deg,#2eff00 230deg,#1bff00 240deg,#0aff00 250deg,#00ff07 260deg,#00ff17 270deg,#00ff27 280deg,#00ff33 290deg,#00ff3f 300deg,#00ff1e 310deg,#03ff00 320deg,#24ff00 330deg,#2dff00 340deg,#36ff00 350deg,#3eff00 360deg)"></div><div style="left:-68.6px;top:-68.6px;width:137.2px;height:137.2px;background:conic-gradient(#4aff00 0deg,#35ff00 10deg,#1fff00 20deg,#09ff00 30deg,#00ff11 40deg,#00ff2b 50deg,#00ff45 60deg,#00ff27 70deg,#00ff09 80deg,#15ff00 90deg,#11ff00 100deg,#0dff00 110deg,#09ff00 120deg,#0bff00 130deg,#0dff00 140deg,#10ff00 150deg,#24ff00 160deg,#38ff00 170deg,#4cff00 180deg,#52ff00 190deg,#58ff00 200deg,#5eff00 210deg,#4cff00 220deg,#39ff00 230deg,#26ff00 240deg,#10ff00 250deg,#00ff06 260deg,#00ff12 270deg,#00ff1f 280deg,#00ff28 290deg,#00ff31 300deg,#00ff11 310deg,#10ff00 320deg,#31ff00 330deg,#39ff00 340deg,#42ff00 350deg,#4aff00 360deg)"></div><div style="left:-66.6px;top:-66.6px;width:133.2px;height:133.2px;background:conic-gradient(#57ff00 0deg,#3eff00 10deg,#25ff00 20deg,#0cff00 30deg,#00ff0a 40deg,#00ff20 50deg,#00ff35 60deg,#00ff19 70deg,#03ff00 80deg,#1fff00 90deg,#19ff00 100deg,#13ff00 110deg,#0dff00 120deg,#10ff00 130deg,#13ff00 140deg,#16ff00 150deg,#2bff00 160deg,#40ff00 170deg,#54ff00 180deg,#5bff00 190deg,#62ff00 200deg,#69ff00 210deg,#57ff00 220deg,#44ff00 230deg,#32ff00 240deg,#17ff00 250deg,#00ff04 260deg,#00ff0e 270deg,#00ff18 280deg,#00ff1d 290deg,#00ff23 300deg,#00ff03 310deg,#1dff00 320deg,#3dff00 330deg,#45ff00 340deg,#4eff00 350deg,#57ff00 360deg)"></div><div style="left:-64.6px;top:-64.6px;width:129.2px;height:129.2px;background:conic-gradient(#63ff00 0deg,#47ff00 10deg,#2bff00 20deg,#0fff00 30deg,#00ff03 40deg,#00ff14 50deg,#00ff26 60deg,#00ff0c 70deg,#0eff00 80deg,#28ff00 90deg,#20ff00 100deg,#19ff00 110deg,#11ff00 120deg,#15ff00 130deg,#19ff00 140deg,#1cff00 150deg,#32ff00 160deg,#48ff00 170deg,#5dff00 180deg,#65ff00 190deg,#6cff00 200deg,#73ff00 210deg,#61ff00 220deg,#4fff00 230deg,#3dff00 240deg,#1dff00 250deg,#00ff03 260deg,#00ff09 270deg,#00ff10 280deg,#00ff13 290deg,#00ff15 300deg,#0aff00 310deg,#2aff00 320deg,#49ff00 330deg,#52ff00 340deg,#5aff00 350deg,#63ff00 360deg)"></div><div style="left:-62.6px;top:-62.6px;width:125.2px;height:125.2px;background:conic-gradient(#6fff00 0deg,#50ff00 10deg,#31ff00 20deg,#12ff00 30deg,#04ff00 40deg,#00ff09 50deg,#00ff16 60deg,#02ff00 70deg,#1aff00 80deg,#31ff00 90deg,#28ff00 100deg,#1fff00 110deg,#15ff00 120deg,#1aff00 130deg,#1eff00 140deg,#23ff00 150deg,#39ff00 160deg,#4fff00 170deg,#66ff00 180deg,#6eff00 190deg,#76ff00 200deg,#7eff00 210deg,#6cff00 220deg,#5bff00 230deg,#49ff00 240deg,#24ff00 250deg,#00ff02 260deg,#00ff05 270deg,#00ff08 280deg,#00ff08 290deg,#00ff07 300deg,#18ff00 310deg,#36ff00 320deg,#55ff00 330deg,#5eff00 340deg,#66ff00 350deg,#6fff00 360deg)"></div><div style="left:-60.6px;top:-60.6px;width:121.2px;height:121.2px;background:conic-gradient(#7bff00 0deg,#59ff00 10deg,#37ff00 20deg,#14ff00 30deg,#0cff00 40deg,#03ff00 50deg,#00ff06 60deg,#0fff00 70deg,#25ff00 80deg,#3bff00 90deg,#30ff00 100deg,#25ff00 110deg,#1aff00 120deg,#1fff00 130deg,#24ff00 140deg,#29ff00 150deg,#40ff00 160deg,#57ff00 170deg,#6eff00 180deg,#77ff00 190deg,#80ff00 200deg,#89ff00 210deg,#77ff00 220deg,#66ff00 230deg,#54ff00 240deg,#2aff00 250deg,#00ff00 260deg,#00ff00 270deg,#00ff01 280deg,#03ff00 290deg,#07ff00 300deg,#25ff00 310deg,#43ff00 320deg,#61ff00 330deg,#6aff00 340deg,#73ff00 350deg,#7bff00 360deg)"></div><div style="left:-58.6px;top:-58.6px;width:117.2px;height:117.2px;background:conic-gradient(#83ff00 0deg,#63ff00 10deg,#44ff00 20deg,#25ff00 30deg,#1eff00 40deg,#17ff00 50deg,#10ff00 60deg,#22ff00 70deg,#34ff00 80deg,#47ff00 90deg,#3bff00 100deg,#2fff00 110deg,#23ff00 120deg,#28ff00 130deg,#2dff00 140deg,#32ff00 150deg,#49ff00 160deg,#60ff00 170deg,#77ff00 180deg,#81ff00 190deg,#8bff00 200deg,#95ff00 210deg,#85ff00 220deg,#76ff00 230deg,#68ff00 240deg,#3dff00 250deg,#13ff00 260deg,#13ff00 270deg,#13ff00 280deg,#18ff00 290deg,#1dff00 300deg,#38ff00 310deg,#53ff00 320deg,#6dff00 330deg,#74ff00 340deg,#7cff00 350deg,#83ff00 360deg)"></div><div style="left:-56.6px;top:-56.6px;width:113.2px;height:113.2px;background:conic-gradient(#8aff00 0deg,#6eff00 10deg,#52ff00 20deg,#36ff00 30deg,#31ff00 40deg,#2cff00 50deg,#26ff00 60deg,#35ff00 70deg,#44ff00 80deg,#53ff00 90deg,#46ff00 100deg,#39ff00 110deg,#2dff00 120deg,#32ff00 130deg,#36ff00 140deg,#3bff00 150deg,#52ff00 160deg,#69ff00 170deg,#80ff00 180deg,#8bff00 190deg,#97ff00 200deg,#a2ff00 210deg,#95ff00 220deg,#88ff00 230deg,#7bff00 240deg,#51ff00 250deg,#27ff00 260deg,#27ff00 270deg,#27ff00 280deg,#2dff00 290deg,#33ff00 300deg,#4bff00 310deg,#62ff00 320deg,#7aff00 330deg,#7fff00 340deg,#85ff00 350deg,#8aff00 360deg)"></div><div style="left:-54.6px;top:-54.6px;width:109.2px;height:109.2px;background:conic-gradient(#92ff00 0deg,#78ff00 10deg,#60ff00 20deg,#47ff00 30deg,#44ff00 40deg,#40ff00 50deg,#3dff00 60deg,#48ff00 70deg,#54ff00 80deg,#5fff00 90deg,#51ff00 100deg,#44ff00 110deg,#36ff00 120deg,#3bff00 130deg,#40ff00 140deg,#45ff00 150deg,#5bff00 160deg,#72ff00 170deg,#89ff00 180deg,#96ff00 190deg,#a2ff00 200deg,#aeff00 210deg,#a5ff00 220deg,#9bff00 230deg,#91ff00 240deg,#65ff00 250deg,#3bff00 260deg,#3bff00 270deg,#3bff00 280deg,#42ff00 290deg,#4aff00 300deg,#5eff00 310deg,#72ff00 320deg,#86ff00 330deg,#8aff00 340deg,#8eff00 350deg,#92ff00 360deg)"></div><div style="left:-52.6px;top:-52.6px;width:105.2px;height:105.2px;background:conic-gradient(#9aff00 0deg,#83ff00 10deg,#6eff00 20deg,#59ff00 30deg,#57ff00 40deg,#55ff00 50deg,#54ff00 60deg,#5bff00 70deg,#63ff00 80deg,#6bff00 90deg,#5dff00 100deg,#4eff00 110deg,#40ff00 120deg,#45ff00 130deg,#49ff00 140deg,#4eff00 150deg,#65ff00 160deg,#7bff00 170deg,#93ff00 180deg,#a0ff00 190deg,#aeff00 200deg,#bbff00 210deg,#b4ff00 220deg,#adff00 230deg,#a6ff00 240deg,#79ff00 250deg,#4fff00 260deg,#4fff00 270deg,#4fff00 280deg,#58ff00 290deg,#60ff00 300deg,#71ff00 310deg,#82ff00 320deg,#94ff00 330deg,#96ff00 340deg,#98ff00 350deg,#9aff00 360deg)"></div><div style="left:-50.6px;top:-50.6px;width:101.2px;height:101.2px;background:conic-gradient(#a1ff00 0deg,#8eff00 10deg,#7cff00 20deg,#6aff00 30deg,#6aff00 40deg,#6aff00 50deg,#6aff00 60deg,#6fff00 70deg,#73ff00 80deg,#77ff00 90deg,#68ff00 100deg,#59ff00 110deg,#4aff00 120deg,#4eff00 130deg,#53ff00 140deg,#58ff00 150deg,#6eff00 160deg,#84ff00 170deg,#9cff00 180deg,#abff00 190deg,#b9ff00 200deg,#c8ff00 210deg,#c4ff00 220deg,#c0ff00 230deg,#bcff00 240deg,#8eff00 250deg,#63ff00 260deg,#63ff00 270deg,#63ff00 280deg,#6dff00 290deg,#77ff00 300deg,#84ff00 310deg,#93ff00 320deg,#a1ff00 330deg,#a1ff00 340deg,#a1ff00 350deg,#a1ff00 360deg)"></div><div style="left:-48.6px;top:-48.6px;width:97.2px;height:97.2px;background:conic-gradient(#a9ff00 0deg,#9aff00 10deg,#8aff00 20deg,#7cff00 30deg,#7dff00 40deg,#7fff00 50deg,#81ff00 60deg,#82ff00 70deg,#83ff00 80deg,#84ff00 90deg,#74ff00 100deg,#64ff00 110deg,#54ff00 120deg,#58ff00 130deg,#5dff00 140deg,#61ff00 150deg,#77ff00 160deg,#8eff00 170deg,#a6ff00 180deg,#b5ff00 190deg,#c5ff00 200deg,#d4ff00 210deg,#d3ff00 220deg,#d2ff00 230deg,#d2ff00 240deg,#a4ff00 250deg,#77ff00 260deg,#77ff00 270deg,#77ff00 280deg,#83ff00 290deg,#8fff00 300deg,#99ff00 310deg,#a4ff00 320deg,#aeff00 330deg,#acff00 340deg,#abff00 350deg,#a9ff00 360deg)"></div><div style="left:-46.6px;top:-46.6px;width:93.2px;height:93.2px;background:conic-gradient(#b0ff00 0deg,#a5ff00 10deg,#9aff00 20deg,#8eff00 30deg,#92ff00 40deg,#96ff00 50deg,#9aff00 60deg,#97ff00 70deg,#94ff00 80deg,#91ff00 90deg,#7fff00 100deg,#6eff00 110deg,#5dff00 120deg,#62ff00 130deg,#66ff00 140deg,#6aff00 150deg,#80ff00 160deg,#98ff00 170deg,#afff00 180deg,#c0ff00 190deg,#d0ff00 200deg,#e1ff00 210deg,#e3ff00 220deg,#e5ff00 230deg,#e7ff00 240deg,#baff00 250deg,#8dff00 260deg,#8dff00 270deg,#8dff00 280deg,#9aff00 290deg,#a8ff00 300deg,#aeff00 310deg,#b5ff00 320deg,#bcff00 330deg,#b8ff00 340deg,#b4ff00 350deg,#b0ff00 360deg)"></div><div style="left:-44.6px;top:-44.6px;width:89.2px;height:89.2px;background:conic-gradient(#b6ff00 0deg,#adff00 10deg,#a4ff00 20deg,#9bff00 30deg,#9fff00 40deg,#a3ff00 50deg,#a7ff00 60deg,#a2ff00 70deg,#9eff00 80deg,#99ff00 90deg,#87ff00 100deg,#76ff00 110deg,#66ff00 120deg,#6aff00 130deg,#6eff00 140deg,#72ff00 150deg,#87ff00 160deg,#9eff00 170deg,#b5ff00 180deg,#c6ff00 190deg,#d6ff00 200deg,#e7ff00 210deg,#ebff00 220deg,#efff00 230deg,#f2ff00 240deg,#c7ff00 250deg,#9dff00 260deg,#9cff00 270deg,#9cff00 280deg,#a9ff00 290deg,#b6ff00 300deg,#baff00 310deg,#bfff00 320deg,#c3ff00 330deg,#bfff00 340deg,#baff00 350deg,#b6ff00 360deg)"></div><div style="left:-42.6px;top:-42.6px;width:85.2px;height:85.2px;background:conic-gradient(#baff00 0deg,#b1ff00 10deg,#a9ff00 20deg,#a0ff00 30deg,#a3ff00 40deg,#a6ff00 50deg,#a9ff00 60deg,#a4ff00 70deg,#a0ff00 80deg,#9bff00 90deg,#8bff00 100deg,#7bff00 110deg,#6dff00 120deg,#70ff00 130deg,#74ff00 140deg,#77ff00 150deg,#8cff00 160deg,#a1ff00 170deg,#b7ff00 180deg,#c7ff00 190deg,#d7ff00 200deg,#e7ff00 210deg,#ebff00 220deg,#efff00 230deg,#f2ff00 240deg,#ccff00 250deg,#a6ff00 260deg,#a5ff00 270deg,#a3ff00 280deg,#afff00 290deg,#baff00 300deg,#beff00 310deg,#c1ff00 320deg,#c5ff00 330deg,#c1ff00 340deg,#beff00 350deg,#baff00 360deg)"></div><div style="left:-40.6px;top:-40.6px;width:81.2px;height:81.2px;background:conic-gradient(#beff00 0deg,#b6ff00 10deg,#aeff00 20deg,#a6ff00 30deg,#a8ff00 40deg,#a9ff00 50deg,#abff00 60deg,#a6ff00 70deg,#a1ff00 80deg,#9dff00 90deg,#8fff00 100deg,#81ff00 110deg,#74ff00 120deg,#76ff00 130deg,#79ff00 140deg,#7cff00 150deg,#90ff00 160deg,#a5ff00 170deg,#b9ff00 180deg,#c8ff00 190deg,#d8ff00 200deg,#e7ff00 210deg,#ebff00 220deg,#efff00 230deg,#f2ff00 240deg,#d1ff00 250deg,#b0ff00 260deg,#adff00 270deg,#abff00 280deg,#b4ff00 290deg,#beff00 300deg,#c1ff00 310deg,#c4ff00 320deg,#c7ff00 330deg,#c4ff00 340deg,#c1ff00 350deg,#beff00 360deg)"></div><div style="left:-38.6px;top:-38.6px;width:77.2px;height:77.2px;background:conic-gradient(#c1ff00 0deg,#baff00 10deg,#b3ff00 20deg,#acff00 30deg,#acff00 40deg,#acff00 50deg,#adff00 60deg,#a8ff00 70deg,#a3ff00 80deg,#9fff00 90deg,#92ff00 100deg,#86ff00 110deg,#7bff00 120deg,#7dff00 130deg,#7fff00 140deg,#82ff00 150deg,#95ff00 160deg,#a8ff00 170deg,#bbff00 180deg,#caff00 190deg,#d8ff00 200deg,#e7ff00 210deg,#ebff00 220deg,#efff00 230deg,#f2ff00 240deg,#d6ff00 250deg,#b9ff00 260deg,#b6ff00 270deg,#b3ff00 280deg,#baff00 290deg,#c1ff00 300deg,#c4ff00 310deg,#c6ff00 320deg,#c9ff00 330deg,#c6ff00 340deg,#c4ff00 350deg,#c1ff00 360deg)"></div><div style="left:-36.6px;top:-36.6px;width:73.2px;height:73.2px;background:conic-gradient(#c5ff00 0deg,#bfff00 10deg,#b8ff00 20deg,#b2ff00 30deg,#b1ff00 40deg,#b0ff00 50deg,#afff00 60deg,#aaff00 70deg,#a5ff00 80deg,#a1ff00 90deg,#96ff00 100deg,#8cff00 110deg,#82ff00 120deg,#84ff00 130deg,#85ff00 140deg,#87ff00 150deg,#99ff00 160deg,#abff00 170deg,#bdff00 180deg,#cbff00 190deg,#d9ff00 200deg,#e7ff00 210deg,#ebff00 220deg,#efff00 230deg,#f2ff00 240deg,#daff00 250deg,#c3ff00 260deg,#beff00 270deg,#baff00 280deg,#c0ff00 290deg,#c5ff00 300deg,#c7ff00 310deg,#c9ff00 320deg,#cbff00 330deg,#c9ff00 340deg,#c7ff00 350deg,#c5ff00 360deg)"></div><div style="left:-34.6px;top:-34.6px;width:69.2px;height:69.2px;background:conic-gradient(#c9ff00 0deg,#c3ff00 10deg,#bdff00 20deg,#b7ff00 30deg,#b5ff00 40deg,#b3ff00 50deg,#b1ff00 60deg,#acff00 70deg,#a7ff00 80deg,#a2ff00 90deg,#9aff00 100deg,#92ff00 110deg,#89ff00 120deg,#8aff00 130deg,#8cff00 140deg,#8dff00 150deg,#9eff00 160deg,#aeff00 170deg,#bfff00 180deg,#ccff00 190deg,#daff00 200deg,#e7ff00 210deg,#ebff00 220deg,#efff00 230deg,#f2ff00 240deg,#dfff00 250deg,#ccff00 260deg,#c7ff00 270deg,#c2ff00 280deg,#c5ff00 290deg,#c9ff00 300deg,#caff00 310deg,#ccff00 320deg,#cdff00 330deg,#ccff00 340deg,#caff00 350deg,#c9ff00 360deg)"></div><div style="left:-32.6px;top:-32.6px;width:65.2px;height:65.2px;background:conic-gradient(#cdff00 0deg,#c8ff00 10deg,#c2ff00 20deg,#bdff00 30deg,#b9ff00 40deg,#b6ff00 50deg,#b2ff00 60deg,#aeff00 70deg,#a9ff00 80deg,#a4ff00 90deg,#9eff00 100deg,#97ff00 110deg,#91ff00 120deg,#91ff00 130deg,#92ff00 140deg,#93ff00 150deg,#a2ff00 160deg,#b1ff00 170deg,#c1ff00 180deg,#cdff00 190deg,#daff00 200deg,#e7ff00 210deg,#ebff00 220deg,#efff00 230deg,#f2ff00 240deg,#e4ff00 250deg,#d6ff00 260deg,#cfff00 270deg,#c9ff00 280deg,#cbff00 290deg,#cdff00 300deg,#cdff00 310deg,#ceff00 320deg,#cfff00 330deg,#ceff00 340deg,#cdff00 350deg,#cdff00 360deg)"></div><div style="left:-30.6px;top:-30.6px;width:61.2px;height:61.2px;background:conic-gradient(#d1ff00 0deg,#ccff00 10deg,#c7ff00 20deg,#c3ff00 30deg,#beff00 40deg,#b9ff00 50deg,#b4ff00 60deg,#b0ff00 70deg,#abff00 80deg,#a6ff00 90deg,#a2ff00 100deg,#9dff00 110deg,#98ff00 120deg,#98ff00 130deg,#98ff00 140deg,#98ff00 150deg,#a6ff00 160deg,#b4ff00 170deg,#c2ff00 180deg,#cfff00 190deg,#dbff00 200deg,#e7ff00 210deg,#ebff00 220deg,#efff00 230deg,#f2ff00 240deg,#e8ff00 250deg,#dfff00 260deg,#d8ff00 270deg,#d1ff00 280deg,#d1ff00 290deg,#d1ff00 300deg,#d1ff00 310deg,#d1ff00 320deg,#d1ff00 330deg,#d1ff00 340deg,#d1ff00 350deg,#d1ff00 360deg)"></div><div style="left:-28.6px;top:-28.6px;width:57.2px;height:57.2px;background:conic-gradient(#d4ff00 0deg,#cfff00 10deg,#caff00 20deg,#c6ff00 30deg,#c0ff00 40deg,#bbff00 50deg,#b6ff00 60deg,#b2ff00 70deg,#adff00 80deg,#a8ff00 90deg,#a4ff00 100deg,#a0ff00 110deg,#9cff00 120deg,#9cff00 130deg,#9cff00 140deg,#9cff00 150deg,#a9ff00 160deg,#b7ff00 170deg,#c4ff00 180deg,#d0ff00 190deg,#dbff00 200deg,#e7ff00 210deg,#ebff00 220deg,#eeff00 230deg,#f1ff00 240deg,#e9ff00 250deg,#e0ff00 260deg,#daff00 270deg,#d4ff00 280deg,#d4ff00 290deg,#d4ff00 300deg,#d4ff00 310deg,#d4ff00 320deg,#d4ff00 330deg,#d4ff00 340deg,#d4ff00 350deg,#d4ff00 360deg)"></div><div style="left:-26.6px;top:-26.6px;width:53.2px;height:53.2px;background:conic-gradient(#d7ff00 0deg,#d2ff00 10deg,#cdff00 20deg,#c9ff00 30deg,#c3ff00 40deg,#beff00 50deg,#b8ff00 60deg,#b3ff00 70deg,#afff00 80deg,#aaff00 90deg,#a7ff00 100deg,#a3ff00 110deg,#a0ff00 120deg,#a0ff00 130deg,#a0ff00 140deg,#a0ff00 150deg,#adff00 160deg,#b9ff00 170deg,#c6ff00 180deg,#d1ff00 190deg,#dcff00 200deg,#e7ff00 210deg,#eaff00 220deg,#edff00 230deg,#f1ff00 240deg,#e9ff00 250deg,#e1ff00 260deg,#dcff00 270deg,#d7ff00 280deg,#d7ff00 290deg,#d7ff00 300deg,#d7ff00 310deg,#d7ff00 320deg,#d7ff00 330deg,#d7ff00 340deg,#d7ff00 350deg,#d7ff00 360deg)"></div><div style="left:-24.6px;top:-24.6px;width:49.2px;height:49.2px;background:conic-gradient(#daff00 0deg,#d5ff00 10deg,#d0ff00 20deg,#ccff00 30deg,#c6ff00 40deg,#c0ff00 50deg,#baff00 60deg,#b5ff00 70deg,#b1ff00 80deg,#acff00 90deg,#a9ff00 100deg,#a6ff00 110deg,#a4ff00 120deg,#a4ff00 130deg,#a4ff00 140deg,#a4ff00 150deg,#b0ff00 160deg,#bcff00 170deg,#c8ff00 180deg,#d2ff00 190deg,#ddff00 200deg,#e7ff00 210deg,#eaff00 220deg,#edff00 230deg,#f0ff00 240deg,#e9ff00 250deg,#e2ff00 260deg,#deff00 270deg,#daff00 280deg,#daff00 290deg,#daff00 300deg,#daff00 310deg,#daff00 320deg,#daff00 330deg,#daff00 340deg,#daff00 350deg,#daff00 360deg)"></div><div style="left:-22.6px;top:-22.6px;width:45.2px;height:45.2px;background:conic-gradient(#ddff00 0deg,#d8ff00 10deg,#d3ff00 20deg,#cfff00 30deg,#c8ff00 40deg,#c2ff00 50deg,#bcff00 60deg,#b7ff00 70deg,#b3ff00 80deg,#aeff00 90deg,#acff00 100deg,#aaff00 110deg,#a7ff00 120deg,#a7ff00 130deg,#a7ff00 140deg,#a7ff00 150deg,#b3ff00 160deg,#beff00 170deg,#caff00 180deg,#d4ff00 190deg,#ddff00 200deg,#e7ff00 210deg,#eaff00 220deg,#ecff00 230deg,#efff00 240deg,#e9ff00 250deg,#e3ff00 260deg,#e0ff00 270deg,#ddff00 280deg,#ddff00 290deg,#ddff00 300deg,#ddff00 310deg,#ddff00 320deg,#ddff00 330deg,#ddff00 340deg,#ddff00 350deg,#ddff00 360deg)"></div><div style="left:-20.6px;top:-20.6px;width:41.2px;height:41.2px;background:conic-gradient(#e0ff00 0deg,#dbff00 10deg,#d6ff00 20deg,#d2ff00 30deg,#cbff00 40deg,#c4ff00 50deg,#beff00 60deg,#b9ff00 70deg,#b4ff00 80deg,#b0ff00 90deg,#aeff00 100deg,#adff00 110deg,#abff00 120deg,#abff00 130deg,#abff00 140deg,#abff00 150deg,#b6ff00 160deg,#c1ff00 170deg,#ccff00 180deg,#d5ff00 190deg,#deff00 200deg,#e7ff00 210deg,#e9ff00 220deg,#ecff00 230deg,#eeff00 240deg,#e9ff00 250deg,#e4ff00 260deg,#e2ff00 270deg,#e0ff00 280deg,#e0ff00 290deg,#e0ff00 300deg,#e0ff00 310deg,#e0ff00 320deg,#e0ff00 330deg,#e0ff00 340deg,#e0ff00 350deg,#e0ff00 360deg)"></div><div style="left:-18.6px;top:-18.6px;width:37.2px;height:37.2px;background:conic-gradient(#e3ff00 0deg,#deff00 10deg,#d9ff00 20deg,#d5ff00 30deg,#ceff00 40deg,#c7ff00 50deg,#c0ff00 60deg,#bbff00 70deg,#b6ff00 80deg,#b2ff00 90deg,#b1ff00 100deg,#b0ff00 110deg,#afff00 120deg,#afff00 130deg,#afff00 140deg,#afff00 150deg,#b9ff00 160deg,#c4ff00 170deg,#ceff00 180deg,#d6ff00 190deg,#dfff00 200deg,#e7ff00 210deg,#e9ff00 220deg,#ebff00 230deg,#eeff00 240deg,#eaff00 250deg,#e5ff00 260deg,#e4ff00 270deg,#e3ff00 280deg,#e3ff00 290deg,#e3ff00 300deg,#e3ff00 310deg,#e3ff00 320deg,#e3ff00 330deg,#e3ff00 340deg,#e3ff00 350deg,#e3ff00 360deg)"></div><div style="left:-16.6px;top:-16.6px;width:33.2px;height:33.2px;background:conic-gradient(#e6ff00 0deg,#e1ff00 10deg,#dcff00 20deg,#d8ff00 30deg,#d0ff00 40deg,#c9ff00 50deg,#c2ff00 60deg,#bdff00 70deg,#b8ff00 80deg,#b4ff00 90deg,#b3ff00 100deg,#b3ff00 110deg,#b3ff00 120deg,#b3ff00 130deg,#b3ff00 140deg,#b3ff00 150deg,#bcff00 160deg,#c6ff00 170deg,#d0ff00 180deg,#d7ff00 190deg,#dfff00 200deg,#e7ff00 210deg,#e9ff00 220deg,#ebff00 230deg,#edff00 240deg,#eaff00 250deg,#e7ff00 260deg,#e6ff00 270deg,#e6ff00 280deg,#e6ff00 290deg,#e6ff00 300deg,#e6ff00 310deg,#e6ff00 320deg,#e6ff00 330deg,#e6ff00 340deg,#e6ff00 350deg,#e6ff00 360deg)"></div><div style="left:-14.6px;top:-14.6px;width:29.2px;height:29.2px;background:conic-gradient(#e6ff00 0deg,#e1ff00 10deg,#ddff00 20deg,#d9ff00 30deg,#d2ff00 40deg,#cbff00 50deg,#c4ff00 60deg,#c0ff00 70deg,#bbff00 80deg,#b7ff00 90deg,#b7ff00 100deg,#b7ff00 110deg,#b7ff00 120deg,#b7ff00 130deg,#b7ff00 140deg,#b7ff00 150deg,#c0ff00 160deg,#c8ff00 170deg,#d1ff00 180deg,#d8ff00 190deg,#dfff00 200deg,#e6ff00 210deg,#e7ff00 220deg,#e9ff00 230deg,#ebff00 240deg,#e8ff00 250deg,#e6ff00 260deg,#e6ff00 270deg,#e6ff00 280deg,#e6ff00 290deg,#e6ff00 300deg,#e6ff00 310deg,#e6ff00 320deg,#e6ff00 330deg,#e6ff00 340deg,#e6ff00 350deg,#e6ff00 360deg)"></div><div style="left:-12.6px;top:-12.6px;width:25.2px;height:25.2px;background:conic-gradient(#e3ff00 0deg,#e0ff00 10deg,#dcff00 20deg,#d8ff00 30deg,#d2ff00 40deg,#cdff00 50deg,#c7ff00 60deg,#c3ff00 70deg,#bfff00 80deg,#bcff00 90deg,#bcff00 100deg,#bcff00 110deg,#bcff00 120deg,#bcff00 130deg,#bcff00 140deg,#bcff00 150deg,#c3ff00 160deg,#caff00 170deg,#d2ff00 180deg,#d8ff00 190deg,#ddff00 200deg,#e3ff00 210deg,#e5ff00 220deg,#e6ff00 230deg,#e8ff00 240deg,#e5ff00 250deg,#e3ff00 260deg,#e3ff00 270deg,#e3ff00 280deg,#e3ff00 290deg,#e3ff00 300deg,#e3ff00 310deg,#e3ff00 320deg,#e3ff00 330deg,#e3ff00 340deg,#e3ff00 350deg,#e3ff00 360deg)"></div><div style="left:-10.6px;top:-10.6px;width:21.2px;height:21.2px;background:conic-gradient(#e1ff00 0deg,#deff00 10deg,#dbff00 20deg,#d8ff00 30deg,#d3ff00 40deg,#ceff00 50deg,#c9ff00 60deg,#c6ff00 70deg,#c3ff00 80deg,#c0ff00 90deg,#c0ff00 100deg,#c0ff00 110deg,#c0ff00 120deg,#c0ff00 130deg,#c0ff00 140deg,#c0ff00 150deg,#c6ff00 160deg,#ccff00 170deg,#d2ff00 180deg,#d7ff00 190deg,#dcff00 200deg,#e1ff00 210deg,#e2ff00 220deg,#e3ff00 230deg,#e5ff00 240deg,#e3ff00 250deg,#e1ff00 260deg,#e1ff00 270deg,#e1ff00 280deg,#e1ff00 290deg,#e1ff00 300deg,#e1ff00 310deg,#e1ff00 320deg,#e1ff00 330deg,#e1ff00 340deg,#e1ff00 350deg,#e1ff00 360deg)"></div><div style="left:-8.6px;top:-8.6px;width:17.2px;height:17.2px;background:conic-gradient(#dfff00 0deg,#dcff00 10deg,#daff00 20deg,#d8ff00 30deg,#d4ff00 40deg,#d0ff00 50deg,#ccff00 60deg,#caff00 70deg,#c7ff00 80deg,#c5ff00 90deg,#c5ff00 100deg,#c5ff00 110deg,#c5ff00 120deg,#c5ff00 130deg,#c5ff00 140deg,#c5ff00 150deg,#caff00 160deg,#ceff00 170deg,#d3ff00 180deg,#d7ff00 190deg,#dbff00 200deg,#dfff00 210deg,#e0ff00 220deg,#e1ff00 230deg,#e2ff00 240deg,#e0ff00 250deg,#dfff00 260deg,#dfff00 270deg,#dfff00 280deg,#dfff00 290deg,#dfff00 300deg,#dfff00 310deg,#dfff00 320deg,#dfff00 330deg,#dfff00 340deg,#dfff00 350deg,#dfff00 360deg)"></div><div style="left:-6.6px;top:-6.6px;width:13.2px;height:13.2px;background:conic-gradient(#dcff00 0deg,#dbff00 10deg,#d9ff00 20deg,#d7ff00 30deg,#d4ff00 40deg,#d1ff00 50deg,#cfff00 60deg,#cdff00 70deg,#cbff00 80deg,#c9ff00 90deg,#c9ff00 100deg,#c9ff00 110deg,#c9ff00 120deg,#c9ff00 130deg,#c9ff00 140deg,#c9ff00 150deg,#cdff00 160deg,#d0ff00 170deg,#d4ff00 180deg,#d7ff00 190deg,#daff00 200deg,#dcff00 210deg,#ddff00 220deg,#deff00 230deg,#dfff00 240deg,#deff00 250deg,#dcff00 260deg,#dcff00 270deg,#dcff00 280deg,#dcff00 290deg,#dcff00 300deg,#dcff00 310deg,#dcff00 320deg,#dcff00 330deg,#dcff00 340deg,#dcff00 350deg,#dcff00 360deg)"></div><div style="left:-4.6px;top:-4.6px;width:9.2px;height:9.2px;background:conic-gradient(#daff00 0deg,#d9ff00 10deg,#d8ff00 20deg,#d7ff00 30deg,#d5ff00 40deg,#d3ff00 50deg,#d1ff00 60deg,#d0ff00 70deg,#cfff00 80deg,#ceff00 90deg,#ceff00 100deg,#ceff00 110deg,#ceff00 120deg,#ceff00 130deg,#ceff00 140deg,#ceff00 150deg,#d0ff00 160deg,#d2ff00 170deg,#d5ff00 180deg,#d7ff00 190deg,#d8ff00 200deg,#daff00 210deg,#dbff00 220deg,#dbff00 230deg,#dcff00 240deg,#dbff00 250deg,#daff00 260deg,#daff00 270deg,#daff00 280deg,#daff00 290deg,#daff00 300deg,#daff00 310deg,#daff00 320deg,#daff00 330deg,#daff00 340deg,#daff00 350deg,#daff00 360deg)"></div><div style="left:-2.6px;top:-2.6px;width:5.2px;height:5.2px;background:conic-gradient(#d8ff00 0deg,#d7ff00 10deg,#d7ff00 20deg,#d6ff00 30deg,#d6ff00 40deg,#d5ff00 50deg,#d4ff00 60deg,#d3ff00 70deg,#d3ff00 80deg,#d2ff00 90deg,#d2ff00 100deg,#d2ff00 110deg,#d2ff00 120deg,#d2ff00 130deg,#d2ff00 140deg,#d2ff00 150deg,#d3ff00 160deg,#d4ff00 170deg,#d5ff00 180deg,#d6ff00 190deg,#d7ff00 200deg,#d8ff00 210deg,#d8ff00 220deg,#d8ff00 230deg,#d9ff00 240deg,#d8ff00 250deg,#d8ff00 260deg,#d8ff00 270deg,#d8ff00 280deg,#d8ff00 290deg,#d8ff00 300deg,#d8ff00 310deg,#d8ff00 320deg,#d8ff00 330deg,#d8ff00 340deg,#d8ff00 350deg,#d8ff00 360deg)"></div><div style="left:-0.6px;top:-0.6px;width:1.2px;height:1.2px;background:conic-gradient(#d6ff00 0deg,#d6ff00 10deg,#d6ff00 20deg,#d6ff00 30deg,#d6ff00 40deg,#d6ff00 50deg,#d6ff00 60deg,#d6ff00 70deg,#d6ff00 80deg,#d6ff00 90deg,#d6ff00 100deg,#d6ff00 110deg,#d6ff00 120deg,#d6ff00 130deg,#d6ff00 140deg,#d6ff00 150deg,#d6ff00 160deg,#d6ff00 170deg,#d6ff00 180deg,#d6ff00 190deg,#d6ff00 200deg,#d6ff00 210deg,#d6ff00 220deg,#d6ff00 230deg,#d6ff00 240deg,#d6ff00 250deg,#d6ff00 260deg,#d6ff00 270deg,#d6ff00 280deg,#d6ff00 290deg,#d6ff00 300deg,#d6ff00 310deg,#d6ff00 320deg,#d6ff00 330deg,#d6ff00 340deg,#d6ff00 350deg,#d6ff00 360deg)"></div><div style="left:-2.5px;top:-26px;width:5px;height:24px;background:radial-gradient(closest-side,rgba(255,255,0,.8) 0%,rgba(255,255,0,.4) 60%,rgba(255,255,0,0) 100%)"></div><div style="left:-38.5px;top:3.5px;width:44px;height:17px;transform:rotate(-30deg);background:radial-gradient(closest-side,rgba(255,160,0,.7) 0%,rgba(255,200,0,.4) 55%,rgba(255,240,0,0) 100%)"></div><div style="left:-25.5px;top:4px;width:26px;height:10px;transform:rotate(-30deg);background:radial-gradient(closest-side,#f05a00 0%,#f46a00 35%,rgba(250,130,0,.65) 70%,rgba(255,180,0,0) 100%)"></div></div></div></div><div class="hm" style="left:965.15px;top:1046.4px;transform:scale(1,1)"><div class="clip" style="left:-148.4px;top:-148.4px;width:296.8px;height:296.8px"><div class="inner" style="left:148.4px;top:148.4px"><div style="left:-150.4px;top:-150.4px;width:300.8px;height:300.8px;background:conic-gradient(#00ff5b 0deg,#00ff0a 10deg,#46ff00 20deg,#98ff00 30deg,#b4ff00 40deg,#d0ff00 50deg,#edff00 60deg,#e3ff00 70deg,#daff00 80deg,#d0ff00 90deg,#c4ff00 100deg,#b8ff00 110deg,#acff00 120deg,#a5ff00 130deg,#9fff00 140deg,#98ff00 150deg,#93ff00 160deg,#8fff00 170deg,#8aff00 180deg,#81ff00 190deg,#7aff00 200deg,#72ff00 210deg,#6fff00 220deg,#6dff00 230deg,#6aff00 240deg,#4fff00 250deg,#34ff00 260deg,#00ff03 270deg,#00ff39 280deg,#00ff5c 290deg,#00ff7f 300deg,#00ff7c 310deg,#00ff7a 320deg,#00ff77 330deg,#00ff6d 340deg,#00ff64 350deg,#00ff5b 360deg)"></div><div style="left:-148.4px;top:-148.4px;width:296.8px;height:296.8px;background:conic-gradient(#00ff5b 0deg,#00ff0a 10deg,#46ff00 20deg,#98ff00 30deg,#b4ff00 40deg,#d0ff00 50deg,#edff00 60deg,#e3ff00 70deg,#daff00 80deg,#d0ff00 90deg,#c4ff00 100deg,#b8ff00 110deg,#acff00 120deg,#a5ff00 130deg,#9fff00 140deg,#98ff00 150deg,#93ff00 160deg,#8fff00 170deg,#8aff00 180deg,#81ff00 190deg,#7aff00 200deg,#72ff00 210deg,#6fff00 220deg,#6dff00 230deg,#6aff00 240deg,#4fff00 250deg,#34ff00 260deg,#00ff03 270deg,#00ff39 280deg,#00ff5c 290deg,#00ff7f 300deg,#00ff7c 310deg,#00ff7a 320deg,#00ff77 330deg,#00ff6d 340deg,#00ff64 350deg,#00ff5b 360deg)"></div><div style="left:-146.4px;top:-146.4px;width:292.8px;height:292.8px;background:conic-gradient(#00ff5b 0deg,#00ff0a 10deg,#46ff00 20deg,#98ff00 30deg,#b4ff00 40deg,#d0ff00 50deg,#edff00 60deg,#e3ff00 70deg,#daff00 80deg,#d0ff00 90deg,#c4ff00 100deg,#b8ff00 110deg,#acff00 120deg,#a5ff00 130deg,#9fff00 140deg,#98ff00 150deg,#93ff00 160deg,#8fff00 170deg,#8aff00 180deg,#81ff00 190deg,#7aff00 200deg,#72ff00 210deg,#6fff00 220deg,#6dff00 230deg,#6aff00 240deg,#4fff00 250deg,#34ff00 260deg,#00ff03 270deg,#00ff39 280deg,#00ff5c 290deg,#00ff7f 300deg,#00ff7c 310deg,#00ff7a 320deg,#00ff77 330deg,#00ff6d 340deg,#00ff64 350deg,#00ff5b 360deg)"></div><div style="left:-144.4px;top:-144.4px;width:288.8px;height:288.8px;background:conic-gradient(#00ff5b 0deg,#00ff0a 10deg,#46ff00 20deg,#98ff00 30deg,#b4ff00 40deg,#d0ff00 50deg,#edff00 60deg,#e3ff00 70deg,#daff00 80deg,#d0ff00 90deg,#c4ff00 100deg,#b8ff00 110deg,#acff00 120deg,#a5ff00 130deg,#9fff00 140deg,#98ff00 150deg,#93ff00 160deg,#8fff00 170deg,#8aff00 180deg,#81ff00 190deg,#7aff00 200deg,#72ff00 210deg,#6fff00 220deg,#6dff00 230deg,#6aff00 240deg,#4fff00 250deg,#34ff00 260deg,#00ff03 270deg,#00ff39 280deg,#00ff5c 290deg,#00ff7f 300deg,#00ff7c 310deg,#00ff7a 320deg,#00ff77 330deg,#00ff6d 340deg,#00ff64 350deg,#00ff5b 360deg)"></div><div style="left:-142.4px;top:-142.4px;width:284.8px;height:284.8px;background:conic-gradient(#00ff5b 0deg,#00ff0a 10deg,#46ff00 20deg,#98ff00 30deg,#b4ff00 40deg,#d0ff00 50deg,#edff00 60deg,#e3ff00 70deg,#daff00 80deg,#d0ff00 90deg,#c4ff00 100deg,#b8ff00 110deg,#acff00 120deg,#a5ff00 130deg,#9fff00 140deg,#98ff00 150deg,#93ff00 160deg,#8fff00 170deg,#8aff00 180deg,#81ff00 190deg,#7aff00 200deg,#72ff00 210deg,#6fff00 220deg,#6dff00 230deg,#6aff00 240deg,#4fff00 250deg,#34ff00 260deg,#00ff03 270deg,#00ff39 280deg,#00ff5c 290deg,#00ff7f 300deg,#00ff7c 310deg,#00ff7a 320deg,#00ff77 330deg,#00ff6d 340deg,#00ff64 350deg,#00ff5b 360deg)"></div><div style="left:-140.4px;top:-140.4px;width:280.8px;height:280.8px;background:conic-gradient(#00ff55 0deg,#00ff08 10deg,#45ff00 20deg,#94ff00 30deg,#b1ff00 40deg,#ceff00 50deg,#ebff00 60deg,#e2ff00 70deg,#d9ff00 80deg,#cfff00 90deg,#c3ff00 100deg,#b8ff00 110deg,#acff00 120deg,#a5ff00 130deg,#9fff00 140deg,#98ff00 150deg,#93ff00 160deg,#8fff00 170deg,#8aff00 180deg,#81ff00 190deg,#7aff00 200deg,#72ff00 210deg,#6fff00 220deg,#6dff00 230deg,#6aff00 240deg,#4fff00 250deg,#34ff00 260deg,#00ff04 270deg,#00ff3b 280deg,#00ff5c 290deg,#00ff7d 300deg,#00ff7a 310deg,#00ff77 320deg,#00ff74 330deg,#00ff6a 340deg,#00ff60 350deg,#00ff55 360deg)"></div><div style="left:-138.4px;top:-138.4px;width:276.8px;height:276.8px;background:conic-gradient(#00ff4f 0deg,#00ff05 10deg,#45ff00 20deg,#8fff00 30deg,#aeff00 40deg,#ccff00 50deg,#eaff00 60deg,#e0ff00 70deg,#d7ff00 80deg,#ceff00 90deg,#c2ff00 100deg,#b7ff00 110deg,#acff00 120deg,#a5ff00 130deg,#9fff00 140deg,#98ff00 150deg,#93ff00 160deg,#8fff00 170deg,#8aff00 180deg,#81ff00 190deg,#7aff00 200deg,#72ff00 210deg,#6fff00 220deg,#6dff00 230deg,#6aff00 240deg,#4fff00 250deg,#34ff00 260deg,#00ff05 270deg,#00ff3e 280deg,#00ff5d 290deg,#00ff7b 300deg,#00ff78 310deg,#00ff75 320deg,#00ff71 330deg,#00ff66 340deg,#00ff5a 350deg,#00ff4f 360deg)"></div><div style="left:-136.4px;top:-136.4px;width:272.8px;height:272.8px;background:conic-gradient(#00ff48 0deg,#00ff02 10deg,#44ff00 20deg,#8bff00 30deg,#aaff00 40deg,#c9ff00 50deg,#e8ff00 60deg,#dfff00 70deg,#d5ff00 80deg,#ccff00 90deg,#c1ff00 100deg,#b7ff00 110deg,#acff00 120deg,#a5ff00 130deg,#9fff00 140deg,#98ff00 150deg,#93ff00 160deg,#8fff00 170deg,#8aff00 180deg,#81ff00 190deg,#7aff00 200deg,#72ff00 210deg,#6fff00 220deg,#6dff00 230deg,#6aff00 240deg,#4fff00 250deg,#34ff00 260deg,#00ff07 270deg,#00ff41 280deg,#00ff5d 290deg,#00ff79 300deg,#00ff75 310deg,#00ff72 320deg,#00ff6e 330deg,#00ff61 340deg,#00ff55 350deg,#00ff48 360deg)"></div><div style="left:-134.4px;top:-134.4px;width:268.8px;height:268.8px;background:conic-gradient(#00ff41 0deg,#01ff00 10deg,#43ff00 20deg,#86ff00 30deg,#a6ff00 40deg,#c6ff00 50deg,#e7ff00 60deg,#ddff00 70deg,#d4ff00 80deg,#caff00 90deg,#c0ff00 100deg,#b6ff00 110deg,#acff00 120deg,#a5ff00 130deg,#9fff00 140deg,#98ff00 150deg,#93ff00 160deg,#8fff00 170deg,#8aff00 180deg,#81ff00 190deg,#7aff00 200deg,#72ff00 210deg,#6fff00 220deg,#6dff00 230deg,#6aff00 240deg,#4fff00 250deg,#34ff00 260deg,#00ff08 270deg,#00ff44 280deg,#00ff5d 290deg,#00ff77 300deg,#00ff73 310deg,#00ff6f 320deg,#00ff6b 330deg,#00ff5d 340deg,#00ff4f 350deg,#00ff41 360deg)"></div><div style="left:-132.4px;top:-132.4px;width:264.8px;height:264.8px;background:conic-gradient(#00ff3b 0deg,#04ff00 10deg,#43ff00 20deg,#81ff00 30deg,#a2ff00 40deg,#c4ff00 50deg,#e5ff00 60deg,#dcff00 70deg,#d2ff00 80deg,#c9ff00 90deg,#bfff00 100deg,#b5ff00 110deg,#acff00 120deg,#a5ff00 130deg,#9fff00 140deg,#98ff00 150deg,#93ff00 160deg,#8fff00 170deg,#8aff00 180deg,#81ff00 190deg,#7aff00 200deg,#72ff00 210deg,#6fff00 220deg,#6dff00 230deg,#6aff00 240deg,#4fff00 250deg,#34ff00 260deg,#00ff0a 270deg,#00ff47 280deg,#00ff5e 290deg,#00ff75 300deg,#00ff71 310deg,#00ff6c 320deg,#00ff68 330deg,#00ff59 340deg,#00ff4a 350deg,#00ff3b 360deg)"></div><div style="left:-130.4px;top:-130.4px;width:260.8px;height:260.8px;background:conic-gradient(#00ff34 0deg,#07ff00 10deg,#42ff00 20deg,#7dff00 30deg,#9fff00 40deg,#c1ff00 50deg,#e3ff00 60deg,#daff00 70deg,#d1ff00 80deg,#c7ff00 90deg,#beff00 100deg,#b5ff00 110deg,#acff00 120deg,#a5ff00 130deg,#9fff00 140deg,#98ff00 150deg,#93ff00 160deg,#8fff00 170deg,#8aff00 180deg,#81ff00 190deg,#7aff00 200deg,#72ff00 210deg,#6fff00 220deg,#6dff00 230deg,#6aff00 240deg,#4fff00 250deg,#34ff00 260deg,#00ff0b 270deg,#00ff4a 280deg,#00ff5e 290deg,#00ff73 300deg,#00ff6e 310deg,#00ff69 320deg,#00ff64 330deg,#00ff54 340deg,#00ff44 350deg,#00ff34 360deg)"></div><div style="left:-128.4px;top:-128.4px;width:256.8px;height:256.8px;background:conic-gradient(#00ff2d 0deg,#0aff00 10deg,#41ff00 20deg,#78ff00 30deg,#9bff00 40deg,#beff00 50deg,#e2ff00 60deg,#d8ff00 70deg,#cfff00 80deg,#c6ff00 90deg,#bdff00 100deg,#b4ff00 110deg,#acff00 120deg,#a5ff00 130deg,#9fff00 140deg,#98ff00 150deg,#93ff00 160deg,#8fff00 170deg,#8aff00 180deg,#81ff00 190deg,#7aff00 200deg,#72ff00 210deg,#6fff00 220deg,#6dff00 230deg,#6aff00 240deg,#4fff00 250deg,#34ff00 260deg,#00ff0c 270deg,#00ff4d 280deg,#00ff5f 290deg,#00ff71 300deg,#00ff6c 310deg,#00ff66 320deg,#00ff61 330deg,#00ff50 340deg,#00ff3f 350deg,#00ff2d 360deg)"></div><div style="left:-126.4px;top:-126.4px;width:252.8px;height:252.8px;background:conic-gradient(#00ff26 0deg,#0dff00 10deg,#41ff00 20deg,#74ff00 30deg,#97ff00 40deg,#bcff00 50deg,#e0ff00 60deg,#d7ff00 70deg,#cdff00 80deg,#c4ff00 90deg,#bcff00 100deg,#b4ff00 110deg,#acff00 120deg,#a5ff00 130deg,#9fff00 140deg,#98ff00 150deg,#93ff00 160deg,#8fff00 170deg,#8aff00 180deg,#81ff00 190deg,#7aff00 200deg,#72ff00 210deg,#6fff00 220deg,#6dff00 230deg,#6aff00 240deg,#4fff00 250deg,#34ff00 260deg,#00ff0e 270deg,#00ff50 280deg,#00ff5f 290deg,#00ff6f 300deg,#00ff69 310deg,#00ff64 320deg,#00ff5e 330deg,#00ff4c 340deg,#00ff39 350deg,#00ff26 360deg)"></div><div style="left:-124.4px;top:-124.4px;width:248.8px;height:248.8px;background:conic-gradient(#00ff20 0deg,#10ff00 10deg,#40ff00 20deg,#70ff00 30deg,#94ff00 40deg,#b9ff00 50deg,#dfff00 60deg,#d5ff00 70deg,#ccff00 80deg,#c3ff00 90deg,#bbff00 100deg,#b3ff00 110deg,#acff00 120deg,#a5ff00 130deg,#9fff00 140deg,#98ff00 150deg,#93ff00 160deg,#8fff00 170deg,#8aff00 180deg,#81ff00 190deg,#7aff00 200deg,#72ff00 210deg,#6fff00 220deg,#6dff00 230deg,#6aff00 240deg,#4fff00 250deg,#34ff00 260deg,#00ff0f 270deg,#00ff52 280deg,#00ff60 290deg,#00ff6d 300deg,#00ff67 310deg,#00ff61 320deg,#00ff5b 330deg,#00ff47 340deg,#00ff33 350deg,#00ff20 360deg)"></div><div style="left:-122.4px;top:-122.4px;width:244.8px;height:244.8px;background:conic-gradient(#00ff1b 0deg,#12ff00 10deg,#40ff00 20deg,#6dff00 30deg,#91ff00 40deg,#b7ff00 50deg,#ddff00 60deg,#d5ff00 70deg,#ccff00 80deg,#c4ff00 90deg,#bbff00 100deg,#b3ff00 110deg,#abff00 120deg,#a4ff00 130deg,#9eff00 140deg,#97ff00 150deg,#93ff00 160deg,#8eff00 170deg,#89ff00 180deg,#81ff00 190deg,#7aff00 200deg,#73ff00 210deg,#70ff00 220deg,#6dff00 230deg,#6aff00 240deg,#4fff00 250deg,#34ff00 260deg,#00ff0e 270deg,#00ff50 280deg,#00ff5d 290deg,#00ff6a 300deg,#00ff63 310deg,#00ff5c 320deg,#00ff55 330deg,#00ff42 340deg,#00ff2e 350deg,#00ff1b 360deg)"></div><div style="left:-120.4px;top:-120.4px;width:240.8px;height:240.8px;background:conic-gradient(#00ff16 0deg,#15ff00 10deg,#40ff00 20deg,#6aff00 30deg,#8fff00 40deg,#b5ff00 50deg,#dbff00 60deg,#d4ff00 70deg,#cdff00 80deg,#c6ff00 90deg,#bcff00 100deg,#b3ff00 110deg,#a9ff00 120deg,#a3ff00 130deg,#9dff00 140deg,#97ff00 150deg,#92ff00 160deg,#8dff00 170deg,#89ff00 180deg,#81ff00 190deg,#7bff00 200deg,#74ff00 210deg,#71ff00 220deg,#6dff00 230deg,#6aff00 240deg,#4fff00 250deg,#34ff00 260deg,#00ff0d 270deg,#00ff4d 280deg,#00ff5a 290deg,#00ff67 300deg,#00ff5f 310deg,#00ff57 320deg,#00ff50 330deg,#00ff3d 340deg,#00ff29 350deg,#00ff16 360deg)"></div><div style="left:-118.4px;top:-118.4px;width:236.8px;height:236.8px;background:conic-gradient(#00ff11 0deg,#17ff00 10deg,#3fff00 20deg,#68ff00 30deg,#8cff00 40deg,#b3ff00 50deg,#daff00 60deg,#d3ff00 70deg,#cdff00 80deg,#c7ff00 90deg,#bdff00 100deg,#b2ff00 110deg,#a8ff00 120deg,#a2ff00 130deg,#9cff00 140deg,#96ff00 150deg,#91ff00 160deg,#8dff00 170deg,#88ff00 180deg,#81ff00 190deg,#7bff00 200deg,#75ff00 210deg,#72ff00 220deg,#6eff00 230deg,#6aff00 240deg,#4fff00 250deg,#34ff00 260deg,#00ff0b 270deg,#00ff4a 280deg,#00ff57 290deg,#00ff63 300deg,#00ff5b 310deg,#00ff53 320deg,#00ff4a 330deg,#00ff37 340deg,#00ff24 350deg,#00ff11 360deg)"></div><div style="left:-116.4px;top:-116.4px;width:232.8px;height:232.8px;background:conic-gradient(#00ff0d 0deg,#19ff00 10deg,#3fff00 20deg,#65ff00 30deg,#8aff00 40deg,#b1ff00 50deg,#d8ff00 60deg,#d3ff00 70deg,#ceff00 80deg,#c9ff00 90deg,#bdff00 100deg,#b2ff00 110deg,#a6ff00 120deg,#a1ff00 130deg,#9bff00 140deg,#95ff00 150deg,#91ff00 160deg,#8cff00 170deg,#87ff00 180deg,#81ff00 190deg,#7cff00 200deg,#77ff00 210deg,#72ff00 220deg,#6eff00 230deg,#6aff00 240deg,#4fff00 250deg,#34ff00 260deg,#00ff09 270deg,#00ff46 280deg,#00ff53 290deg,#00ff60 300deg,#00ff57 310deg,#00ff4e 320deg,#00ff44 330deg,#00ff32 340deg,#00ff1f 350deg,#00ff0d 360deg)"></div><div style="left:-114.4px;top:-114.4px;width:228.8px;height:228.8px;background:conic-gradient(#00ff08 0deg,#1cff00 10deg,#3fff00 20deg,#63ff00 30deg,#87ff00 40deg,#afff00 50deg,#d6ff00 60deg,#d2ff00 70deg,#cfff00 80deg,#cbff00 90deg,#beff00 100deg,#b2ff00 110deg,#a5ff00 120deg,#a0ff00 130deg,#9aff00 140deg,#95ff00 150deg,#90ff00 160deg,#8bff00 170deg,#86ff00 180deg,#81ff00 190deg,#7dff00 200deg,#78ff00 210deg,#73ff00 220deg,#6fff00 230deg,#6aff00 240deg,#4fff00 250deg,#34ff00 260deg,#00ff08 270deg,#00ff43 280deg,#00ff50 290deg,#00ff5d 300deg,#00ff53 310deg,#00ff49 320deg,#00ff3f 330deg,#00ff2c 340deg,#00ff1a 350deg,#00ff08 360deg)"></div><div style="left:-112.4px;top:-112.4px;width:224.8px;height:224.8px;background:conic-gradient(#00ff03 0deg,#1eff00 10deg,#3fff00 20deg,#60ff00 30deg,#85ff00 40deg,#adff00 50deg,#d4ff00 60deg,#d2ff00 70deg,#cfff00 80deg,#ccff00 90deg,#bfff00 100deg,#b1ff00 110deg,#a4ff00 120deg,#9eff00 130deg,#99ff00 140deg,#94ff00 150deg,#8fff00 160deg,#8bff00 170deg,#86ff00 180deg,#81ff00 190deg,#7dff00 200deg,#79ff00 210deg,#74ff00 220deg,#6fff00 230deg,#6aff00 240deg,#4fff00 250deg,#34ff00 260deg,#00ff06 270deg,#00ff40 280deg,#00ff4d 290deg,#00ff5a 300deg,#00ff4f 310deg,#00ff44 320deg,#00ff39 330deg,#00ff27 340deg,#00ff15 350deg,#00ff03 360deg)"></div><div style="left:-110.4px;top:-110.4px;width:220.8px;height:220.8px;background:conic-gradient(#02ff00 0deg,#20ff00 10deg,#3fff00 20deg,#5eff00 30deg,#83ff00 40deg,#abff00 50deg,#d3ff00 60deg,#d1ff00 70deg,#d0ff00 80deg,#ceff00 90deg,#c0ff00 100deg,#b1ff00 110deg,#a2ff00 120deg,#9dff00 130deg,#98ff00 140deg,#93ff00 150deg,#8fff00 160deg,#8aff00 170deg,#85ff00 180deg,#81ff00 190deg,#7eff00 200deg,#7bff00 210deg,#75ff00 220deg,#70ff00 230deg,#6aff00 240deg,#4fff00 250deg,#34ff00 260deg,#00ff05 270deg,#00ff3d 280deg,#00ff4a 290deg,#00ff57 300deg,#00ff4b 310deg,#00ff3f 320deg,#00ff33 330deg,#00ff22 340deg,#00ff10 350deg,#02ff00 360deg)"></div><div style="left:-108.4px;top:-108.4px;width:216.8px;height:216.8px;background:conic-gradient(#06ff00 0deg,#23ff00 10deg,#3fff00 20deg,#5bff00 30deg,#80ff00 40deg,#a9ff00 50deg,#d1ff00 60deg,#d1ff00 70deg,#d0ff00 80deg,#d0ff00 90deg,#c0ff00 100deg,#b1ff00 110deg,#a1ff00 120deg,#9cff00 130deg,#97ff00 140deg,#93ff00 150deg,#8eff00 160deg,#89ff00 170deg,#84ff00 180deg,#81ff00 190deg,#7fff00 200deg,#7cff00 210deg,#76ff00 220deg,#70ff00 230deg,#6aff00 240deg,#4fff00 250deg,#34ff00 260deg,#00ff03 270deg,#00ff3a 280deg,#00ff47 290deg,#00ff54 300deg,#00ff47 310deg,#00ff3a 320deg,#00ff2e 330deg,#00ff1c 340deg,#00ff0b 350deg,#06ff00 360deg)"></div><div style="left:-106.4px;top:-106.4px;width:212.8px;height:212.8px;background:conic-gradient(#09ff00 0deg,#25ff00 10deg,#40ff00 20deg,#5cff00 30deg,#80ff00 40deg,#a7ff00 50deg,#ceff00 60deg,#ceff00 70deg,#ceff00 80deg,#ceff00 90deg,#bfff00 100deg,#afff00 110deg,#a0ff00 120deg,#9bff00 130deg,#96ff00 140deg,#91ff00 150deg,#8cff00 160deg,#87ff00 170deg,#82ff00 180deg,#7fff00 190deg,#7cff00 200deg,#79ff00 210deg,#73ff00 220deg,#6dff00 230deg,#66ff00 240deg,#4cff00 250deg,#32ff00 260deg,#00ff02 270deg,#00ff35 280deg,#00ff41 290deg,#00ff4c 300deg,#00ff41 310deg,#00ff35 320deg,#00ff29 330deg,#00ff18 340deg,#00ff08 350deg,#09ff00 360deg)"></div><div style="left:-104.4px;top:-104.4px;width:208.8px;height:208.8px;background:conic-gradient(#0aff00 0deg,#26ff00 10deg,#42ff00 20deg,#5fff00 30deg,#81ff00 40deg,#a6ff00 50deg,#cbff00 60deg,#cbff00 70deg,#cbff00 80deg,#cbff00 90deg,#bcff00 100deg,#aeff00 110deg,#9fff00 120deg,#9aff00 130deg,#95ff00 140deg,#90ff00 150deg,#8aff00 160deg,#85ff00 170deg,#80ff00 180deg,#7cff00 190deg,#79ff00 200deg,#76ff00 210deg,#6fff00 220deg,#68ff00 230deg,#61ff00 240deg,#48ff00 250deg,#2fff00 260deg,#00ff00 270deg,#00ff2f 280deg,#00ff39 290deg,#00ff44 300deg,#00ff39 310deg,#00ff2f 320deg,#00ff24 330deg,#00ff15 340deg,#00ff05 350deg,#0aff00 360deg)"></div><div style="left:-102.4px;top:-102.4px;width:204.8px;height:204.8px;background:conic-gradient(#0cff00 0deg,#28ff00 10deg,#44ff00 20deg,#61ff00 30deg,#81ff00 40deg,#a5ff00 50deg,#c8ff00 60deg,#c8ff00 70deg,#c8ff00 80deg,#c8ff00 90deg,#baff00 100deg,#acff00 110deg,#9eff00 120deg,#99ff00 130deg,#93ff00 140deg,#8eff00 150deg,#88ff00 160deg,#83ff00 170deg,#7eff00 180deg,#7aff00 190deg,#76ff00 200deg,#72ff00 210deg,#6aff00 220deg,#63ff00 230deg,#5cff00 240deg,#44ff00 250deg,#2cff00 260deg,#01ff00 270deg,#00ff29 280deg,#00ff32 290deg,#00ff3b 300deg,#00ff32 310deg,#00ff29 320deg,#00ff20 330deg,#00ff11 340deg,#00ff03 350deg,#0cff00 360deg)"></div><div style="left:-100.4px;top:-100.4px;width:200.8px;height:200.8px;background:conic-gradient(#0dff00 0deg,#2aff00 10deg,#46ff00 20deg,#63ff00 30deg,#82ff00 40deg,#a3ff00 50deg,#c5ff00 60deg,#c5ff00 70deg,#c5ff00 80deg,#c5ff00 90deg,#b7ff00 100deg,#aaff00 110deg,#9dff00 120deg,#97ff00 130deg,#92ff00 140deg,#8cff00 150deg,#87ff00 160deg,#81ff00 170deg,#7bff00 180deg,#77ff00 190deg,#72ff00 200deg,#6eff00 210deg,#66ff00 220deg,#5eff00 230deg,#57ff00 240deg,#40ff00 250deg,#29ff00 260deg,#03ff00 270deg,#00ff23 280deg,#00ff2b 290deg,#00ff32 300deg,#00ff2b 310deg,#00ff23 320deg,#00ff1c 330deg,#00ff0e 340deg,#00ff00 350deg,#0dff00 360deg)"></div><div style="left:-98.4px;top:-98.4px;width:196.8px;height:196.8px;background:conic-gradient(#0fff00 0deg,#2cff00 10deg,#49ff00 20deg,#65ff00 30deg,#83ff00 40deg,#a2ff00 50deg,#c1ff00 60deg,#c1ff00 70deg,#c1ff00 80deg,#c1ff00 90deg,#b5ff00 100deg,#a8ff00 110deg,#9cff00 120deg,#96ff00 130deg,#91ff00 140deg,#8bff00 150deg,#85ff00 160deg,#7fff00 170deg,#79ff00 180deg,#74ff00 190deg,#6fff00 200deg,#6aff00 210deg,#62ff00 220deg,#5aff00 230deg,#51ff00 240deg,#3cff00 250deg,#26ff00 260deg,#04ff00 270deg,#00ff1d 280deg,#00ff24 290deg,#00ff2a 300deg,#00ff24 310deg,#00ff1d 320deg,#00ff17 330deg,#00ff0b 340deg,#02ff00 350deg,#0fff00 360deg)"></div><div style="left:-96.4px;top:-96.4px;width:192.8px;height:192.8px;background:conic-gradient(#10ff00 0deg,#2dff00 10deg,#4bff00 20deg,#68ff00 30deg,#83ff00 40deg,#a1ff00 50deg,#beff00 60deg,#beff00 70deg,#beff00 80deg,#beff00 90deg,#b3ff00 100deg,#a7ff00 110deg,#9bff00 120deg,#95ff00 130deg,#8fff00 140deg,#89ff00 150deg,#83ff00 160deg,#7dff00 170deg,#77ff00 180deg,#71ff00 190deg,#6cff00 200deg,#67ff00 210deg,#5eff00 220deg,#55ff00 230deg,#4cff00 240deg,#38ff00 250deg,#23ff00 260deg,#06ff00 270deg,#00ff18 280deg,#00ff1c 290deg,#00ff21 300deg,#00ff1c 310deg,#00ff18 320deg,#00ff13 330deg,#00ff07 340deg,#04ff00 350deg,#10ff00 360deg)"></div><div style="left:-94.4px;top:-94.4px;width:188.8px;height:188.8px;background:conic-gradient(#12ff00 0deg,#2fff00 10deg,#4dff00 20deg,#6aff00 30deg,#84ff00 40deg,#9fff00 50deg,#bbff00 60deg,#bbff00 70deg,#bbff00 80deg,#bbff00 90deg,#b0ff00 100deg,#a5ff00 110deg,#9aff00 120deg,#94ff00 130deg,#8eff00 140deg,#88ff00 150deg,#81ff00 160deg,#7bff00 170deg,#74ff00 180deg,#6eff00 190deg,#69ff00 200deg,#63ff00 210deg,#59ff00 220deg,#50ff00 230deg,#47ff00 240deg,#34ff00 250deg,#20ff00 260deg,#07ff00 270deg,#00ff12 280deg,#00ff15 290deg,#00ff18 300deg,#00ff15 310deg,#00ff12 320deg,#00ff0f 330deg,#00ff04 340deg,#07ff00 350deg,#12ff00 360deg)"></div><div style="left:-92.4px;top:-92.4px;width:184.8px;height:184.8px;background:conic-gradient(#13ff00 0deg,#31ff00 10deg,#4fff00 20deg,#6cff00 30deg,#84ff00 40deg,#9eff00 50deg,#b8ff00 60deg,#b8ff00 70deg,#b8ff00 80deg,#b8ff00 90deg,#aeff00 100deg,#a3ff00 110deg,#99ff00 120deg,#93ff00 130deg,#8cff00 140deg,#86ff00 150deg,#7fff00 160deg,#78ff00 170deg,#72ff00 180deg,#6cff00 190deg,#65ff00 200deg,#5fff00 210deg,#55ff00 220deg,#4bff00 230deg,#42ff00 240deg,#2fff00 250deg,#1dff00 260deg,#09ff00 270deg,#00ff0c 280deg,#00ff0e 290deg,#00ff0f 300deg,#00ff0e 310deg,#00ff0c 320deg,#00ff0a 330deg,#00ff01 340deg,#09ff00 350deg,#13ff00 360deg)"></div><div style="left:-90.4px;top:-90.4px;width:180.8px;height:180.8px;background:conic-gradient(#14ff00 0deg,#33ff00 10deg,#51ff00 20deg,#6fff00 30deg,#85ff00 40deg,#9dff00 50deg,#b5ff00 60deg,#b5ff00 70deg,#b5ff00 80deg,#b5ff00 90deg,#abff00 100deg,#a2ff00 110deg,#98ff00 120deg,#92ff00 130deg,#8bff00 140deg,#85ff00 150deg,#7dff00 160deg,#76ff00 170deg,#70ff00 180deg,#69ff00 190deg,#62ff00 200deg,#5bff00 210deg,#51ff00 220deg,#47ff00 230deg,#3cff00 240deg,#2bff00 250deg,#1aff00 260deg,#0aff00 270deg,#00ff06 280deg,#00ff06 290deg,#00ff07 300deg,#00ff06 310deg,#00ff06 320deg,#00ff06 330deg,#03ff00 340deg,#0cff00 350deg,#14ff00 360deg)"></div><div style="left:-88.4px;top:-88.4px;width:176.8px;height:176.8px;background:conic-gradient(#18ff00 0deg,#36ff00 10deg,#55ff00 20deg,#73ff00 30deg,#88ff00 40deg,#9eff00 50deg,#b4ff00 60deg,#b4ff00 70deg,#b4ff00 80deg,#b3ff00 90deg,#a9ff00 100deg,#a0ff00 110deg,#96ff00 120deg,#8fff00 130deg,#88ff00 140deg,#82ff00 150deg,#7bff00 160deg,#73ff00 170deg,#6cff00 180deg,#65ff00 190deg,#5eff00 200deg,#57ff00 210deg,#4dff00 220deg,#43ff00 230deg,#39ff00 240deg,#2cff00 250deg,#1eff00 260deg,#0dff00 270deg,#00ff03 280deg,#00ff04 290deg,#00ff05 300deg,#00ff04 310deg,#00ff03 320deg,#00ff02 330deg,#07ff00 340deg,#0fff00 350deg,#18ff00 360deg)"></div><div style="left:-86.4px;top:-86.4px;width:172.8px;height:172.8px;background:conic-gradient(#1bff00 0deg,#3aff00 10deg,#59ff00 20deg,#79ff00 30deg,#8cff00 40deg,#a0ff00 50deg,#b4ff00 60deg,#b4ff00 70deg,#b3ff00 80deg,#b2ff00 90deg,#a8ff00 100deg,#9dff00 110deg,#93ff00 120deg,#8cff00 130deg,#86ff00 140deg,#7fff00 150deg,#77ff00 160deg,#70ff00 170deg,#69ff00 180deg,#62ff00 190deg,#5aff00 200deg,#53ff00 210deg,#4aff00 220deg,#40ff00 230deg,#37ff00 240deg,#2dff00 250deg,#22ff00 260deg,#11ff00 270deg,#00ff00 280deg,#00ff02 290deg,#00ff04 300deg,#00ff02 310deg,#00ff00 320deg,#02ff00 330deg,#0bff00 340deg,#13ff00 350deg,#1bff00 360deg)"></div><div style="left:-84.4px;top:-84.4px;width:168.8px;height:168.8px;background:conic-gradient(#1fff00 0deg,#3eff00 10deg,#5eff00 20deg,#7eff00 30deg,#90ff00 40deg,#a2ff00 50deg,#b4ff00 60deg,#b3ff00 70deg,#b2ff00 80deg,#b1ff00 90deg,#a6ff00 100deg,#9bff00 110deg,#90ff00 120deg,#8aff00 130deg,#83ff00 140deg,#7cff00 150deg,#74ff00 160deg,#6dff00 170deg,#65ff00 180deg,#5eff00 190deg,#56ff00 200deg,#4fff00 210deg,#46ff00 220deg,#3dff00 230deg,#35ff00 240deg,#2eff00 250deg,#27ff00 260deg,#15ff00 270deg,#03ff00 280deg,#00ff00 290deg,#00ff03 300deg,#00ff00 310deg,#03ff00 320deg,#07ff00 330deg,#0fff00 340deg,#17ff00 350deg,#1fff00 360deg)"></div><div style="left:-82.4px;top:-82.4px;width:164.8px;height:164.8px;background:conic-gradient(#22ff00 0deg,#42ff00 10deg,#63ff00 20deg,#83ff00 30deg,#94ff00 40deg,#a4ff00 50deg,#b4ff00 60deg,#b3ff00 70deg,#b1ff00 80deg,#b0ff00 90deg,#a5ff00 100deg,#99ff00 110deg,#8eff00 120deg,#87ff00 130deg,#80ff00 140deg,#79ff00 150deg,#71ff00 160deg,#6aff00 170deg,#62ff00 180deg,#5aff00 190deg,#52ff00 200deg,#4bff00 210deg,#42ff00 220deg,#3aff00 230deg,#32ff00 240deg,#2fff00 250deg,#2bff00 260deg,#18ff00 270deg,#05ff00 280deg,#01ff00 290deg,#00ff03 300deg,#02ff00 310deg,#06ff00 320deg,#0bff00 330deg,#13ff00 340deg,#1aff00 350deg,#22ff00 360deg)"></div><div style="left:-80.4px;top:-80.4px;width:160.8px;height:160.8px;background:conic-gradient(#25ff00 0deg,#46ff00 10deg,#67ff00 20deg,#89ff00 30deg,#98ff00 40deg,#a6ff00 50deg,#b4ff00 60deg,#b2ff00 70deg,#b1ff00 80deg,#afff00 90deg,#a3ff00 100deg,#97ff00 110deg,#8bff00 120deg,#84ff00 130deg,#7dff00 140deg,#76ff00 150deg,#6eff00 160deg,#66ff00 170deg,#5eff00 180deg,#56ff00 190deg,#4eff00 200deg,#46ff00 210deg,#3fff00 220deg,#37ff00 230deg,#30ff00 240deg,#30ff00 250deg,#30ff00 260deg,#1cff00 270deg,#08ff00 280deg,#03ff00 290deg,#00ff02 300deg,#04ff00 310deg,#09ff00 320deg,#0fff00 330deg,#16ff00 340deg,#1eff00 350deg,#25ff00 360deg)"></div><div style="left:-78.4px;top:-78.4px;width:156.8px;height:156.8px;background:conic-gradient(#29ff00 0deg,#4bff00 10deg,#6cff00 20deg,#8fff00 30deg,#9bff00 40deg,#a8ff00 50deg,#b4ff00 60deg,#b2ff00 70deg,#b0ff00 80deg,#aeff00 90deg,#a1ff00 100deg,#95ff00 110deg,#88ff00 120deg,#81ff00 130deg,#7aff00 140deg,#74ff00 150deg,#6bff00 160deg,#63ff00 170deg,#5bff00 180deg,#53ff00 190deg,#4aff00 200deg,#42ff00 210deg,#3bff00 220deg,#34ff00 230deg,#2dff00 240deg,#31ff00 250deg,#34ff00 260deg,#20ff00 270deg,#0bff00 280deg,#05ff00 290deg,#00ff01 300deg,#06ff00 310deg,#0cff00 320deg,#13ff00 330deg,#1aff00 340deg,#22ff00 350deg,#29ff00 360deg)"></div><div style="left:-76.4px;top:-76.4px;width:152.8px;height:152.8px;background:conic-gradient(#2cff00 0deg,#4fff00 10deg,#71ff00 20deg,#95ff00 30deg,#9fff00 40deg,#aaff00 50deg,#b4ff00 60deg,#b2ff00 70deg,#afff00 80deg,#acff00 90deg,#a0ff00 100deg,#93ff00 110deg,#86ff00 120deg,#7fff00 130deg,#78ff00 140deg,#71ff00 150deg,#68ff00 160deg,#60ff00 170deg,#57ff00 180deg,#4fff00 190deg,#46ff00 200deg,#3eff00 210deg,#38ff00 220deg,#31ff00 230deg,#2bff00 240deg,#32ff00 250deg,#39ff00 260deg,#23ff00 270deg,#0eff00 280deg,#07ff00 290deg,#00ff00 300deg,#08ff00 310deg,#0fff00 320deg,#17ff00 330deg,#1eff00 340deg,#25ff00 350deg,#2cff00 360deg)"></div><div style="left:-74.4px;top:-74.4px;width:148.8px;height:148.8px;background:conic-gradient(#33ff00 0deg,#55ff00 10deg,#76ff00 20deg,#9aff00 30deg,#a3ff00 40deg,#adff00 50deg,#b6ff00 60deg,#b2ff00 70deg,#aeff00 80deg,#abff00 90deg,#9dff00 100deg,#8fff00 110deg,#82ff00 120deg,#7bff00 130deg,#75ff00 140deg,#6eff00 150deg,#66ff00 160deg,#5eff00 170deg,#56ff00 180deg,#4fff00 190deg,#48ff00 200deg,#40ff00 210deg,#3aff00 220deg,#34ff00 230deg,#2eff00 240deg,#37ff00 250deg,#40ff00 260deg,#2bff00 270deg,#15ff00 280deg,#0dff00 290deg,#05ff00 300deg,#0dff00 310deg,#16ff00 320deg,#1fff00 330deg,#26ff00 340deg,#2cff00 350deg,#33ff00 360deg)"></div><div style="left:-72.4px;top:-72.4px;width:144.8px;height:144.8px;background:conic-gradient(#3fff00 0deg,#5eff00 10deg,#7eff00 20deg,#a0ff00 30deg,#a8ff00 40deg,#b1ff00 50deg,#baff00 60deg,#b4ff00 70deg,#aeff00 80deg,#a8ff00 90deg,#99ff00 100deg,#8aff00 110deg,#7cff00 120deg,#76ff00 130deg,#71ff00 140deg,#6bff00 150deg,#65ff00 160deg,#5fff00 170deg,#59ff00 180deg,#55ff00 190deg,#51ff00 200deg,#4dff00 210deg,#46ff00 220deg,#40ff00 230deg,#39ff00 240deg,#43ff00 250deg,#4dff00 260deg,#38ff00 270deg,#24ff00 280deg,#1aff00 290deg,#10ff00 300deg,#1aff00 310deg,#23ff00 320deg,#2cff00 330deg,#32ff00 340deg,#39ff00 350deg,#3fff00 360deg)"></div><div style="left:-70.4px;top:-70.4px;width:140.8px;height:140.8px;background:conic-gradient(#4aff00 0deg,#68ff00 10deg,#86ff00 20deg,#a6ff00 30deg,#aeff00 40deg,#b5ff00 50deg,#bdff00 60deg,#b5ff00 70deg,#adff00 80deg,#a5ff00 90deg,#95ff00 100deg,#86ff00 110deg,#76ff00 120deg,#72ff00 130deg,#6dff00 140deg,#69ff00 150deg,#64ff00 160deg,#60ff00 170deg,#5bff00 180deg,#5aff00 190deg,#5aff00 200deg,#59ff00 210deg,#52ff00 220deg,#4bff00 230deg,#44ff00 240deg,#4eff00 250deg,#59ff00 260deg,#46ff00 270deg,#33ff00 280deg,#27ff00 290deg,#1cff00 300deg,#26ff00 310deg,#30ff00 320deg,#3aff00 330deg,#3fff00 340deg,#45ff00 350deg,#4aff00 360deg)"></div><div style="left:-68.4px;top:-68.4px;width:136.8px;height:136.8px;background:conic-gradient(#56ff00 0deg,#71ff00 10deg,#8eff00 20deg,#abff00 30deg,#b3ff00 40deg,#baff00 50deg,#c1ff00 60deg,#b7ff00 70deg,#adff00 80deg,#a3ff00 90deg,#92ff00 100deg,#81ff00 110deg,#71ff00 120deg,#6dff00 130deg,#69ff00 140deg,#66ff00 150deg,#63ff00 160deg,#60ff00 170deg,#5eff00 180deg,#60ff00 190deg,#63ff00 200deg,#65ff00 210deg,#5eff00 220deg,#57ff00 230deg,#4fff00 240deg,#5aff00 250deg,#65ff00 260deg,#53ff00 270deg,#41ff00 280deg,#34ff00 290deg,#27ff00 300deg,#32ff00 310deg,#3cff00 320deg,#47ff00 330deg,#4cff00 340deg,#51ff00 350deg,#56ff00 360deg)"></div><div style="left:-66.4px;top:-66.4px;width:132.8px;height:132.8px;background:conic-gradient(#61ff00 0deg,#7aff00 10deg,#96ff00 20deg,#b1ff00 30deg,#b8ff00 40deg,#beff00 50deg,#c5ff00 60deg,#b9ff00 70deg,#acff00 80deg,#a0ff00 90deg,#8eff00 100deg,#7cff00 110deg,#6bff00 120deg,#69ff00 130deg,#66ff00 140deg,#63ff00 150deg,#62ff00 160deg,#61ff00 170deg,#60ff00 180deg,#66ff00 190deg,#6bff00 200deg,#71ff00 210deg,#6aff00 220deg,#62ff00 230deg,#5aff00 240deg,#66ff00 250deg,#71ff00 260deg,#61ff00 270deg,#50ff00 280deg,#41ff00 290deg,#33ff00 300deg,#3eff00 310deg,#49ff00 320deg,#54ff00 330deg,#58ff00 340deg,#5dff00 350deg,#61ff00 360deg)"></div><div style="left:-64.4px;top:-64.4px;width:128.8px;height:128.8px;background:conic-gradient(#6dff00 0deg,#84ff00 10deg,#9dff00 20deg,#b7ff00 30deg,#bdff00 40deg,#c3ff00 50deg,#c9ff00 60deg,#baff00 70deg,#acff00 80deg,#9dff00 90deg,#8aff00 100deg,#77ff00 110deg,#66ff00 120deg,#64ff00 130deg,#62ff00 140deg,#60ff00 150deg,#61ff00 160deg,#62ff00 170deg,#63ff00 180deg,#6bff00 190deg,#74ff00 200deg,#7dff00 210deg,#75ff00 220deg,#6eff00 230deg,#66ff00 240deg,#71ff00 250deg,#7dff00 260deg,#6eff00 270deg,#5fff00 280deg,#4eff00 290deg,#3eff00 300deg,#4aff00 310deg,#56ff00 320deg,#61ff00 330deg,#65ff00 340deg,#69ff00 350deg,#6dff00 360deg)"></div><div style="left:-62.4px;top:-62.4px;width:124.8px;height:124.8px;background:conic-gradient(#78ff00 0deg,#8eff00 10deg,#a5ff00 20deg,#bdff00 30deg,#c2ff00 40deg,#c7ff00 50deg,#cdff00 60deg,#bcff00 70deg,#abff00 80deg,#9bff00 90deg,#86ff00 100deg,#73ff00 110deg,#60ff00 120deg,#5fff00 130deg,#5eff00 140deg,#5dff00 150deg,#60ff00 160deg,#62ff00 170deg,#65ff00 180deg,#71ff00 190deg,#7dff00 200deg,#8aff00 210deg,#81ff00 220deg,#79ff00 230deg,#71ff00 240deg,#7dff00 250deg,#8aff00 260deg,#7bff00 270deg,#6dff00 280deg,#5bff00 290deg,#4aff00 300deg,#56ff00 310deg,#62ff00 320deg,#6fff00 330deg,#72ff00 340deg,#75ff00 350deg,#78ff00 360deg)"></div><div style="left:-60.4px;top:-60.4px;width:120.8px;height:120.8px;background:conic-gradient(#84ff00 0deg,#99ff00 10deg,#adff00 20deg,#c2ff00 30deg,#c7ff00 40deg,#ccff00 50deg,#d0ff00 60deg,#beff00 70deg,#abff00 80deg,#98ff00 90deg,#82ff00 100deg,#6eff00 110deg,#5bff00 120deg,#5bff00 130deg,#5bff00 140deg,#5bff00 150deg,#5fff00 160deg,#63ff00 170deg,#67ff00 180deg,#77ff00 190deg,#87ff00 200deg,#98ff00 210deg,#8eff00 220deg,#85ff00 230deg,#7cff00 240deg,#8aff00 250deg,#98ff00 260deg,#8aff00 270deg,#7cff00 280deg,#68ff00 290deg,#55ff00 300deg,#62ff00 310deg,#6fff00 320deg,#7cff00 330deg,#7eff00 340deg,#81ff00 350deg,#84ff00 360deg)"></div><div style="left:-58.4px;top:-58.4px;width:116.8px;height:116.8px;background:conic-gradient(#8fff00 0deg,#a2ff00 10deg,#b4ff00 20deg,#c6ff00 30deg,#caff00 40deg,#cdff00 50deg,#d0ff00 60deg,#bfff00 70deg,#adff00 80deg,#9cff00 90deg,#83ff00 100deg,#6dff00 110deg,#56ff00 120deg,#58ff00 130deg,#59ff00 140deg,#5aff00 150deg,#63ff00 160deg,#6cff00 170deg,#74ff00 180deg,#83ff00 190deg,#93ff00 200deg,#a3ff00 210deg,#9dff00 220deg,#98ff00 230deg,#92ff00 240deg,#9bff00 250deg,#a3ff00 260deg,#96ff00 270deg,#88ff00 280deg,#76ff00 290deg,#65ff00 300deg,#70ff00 310deg,#7cff00 320deg,#89ff00 330deg,#8bff00 340deg,#8dff00 350deg,#8fff00 360deg)"></div><div style="left:-56.4px;top:-56.4px;width:112.8px;height:112.8px;background:conic-gradient(#9bff00 0deg,#abff00 10deg,#baff00 20deg,#caff00 30deg,#ccff00 40deg,#ceff00 50deg,#d0ff00 60deg,#c0ff00 70deg,#b0ff00 80deg,#a0ff00 90deg,#84ff00 100deg,#6bff00 110deg,#52ff00 120deg,#55ff00 130deg,#57ff00 140deg,#59ff00 150deg,#67ff00 160deg,#74ff00 170deg,#82ff00 180deg,#91ff00 190deg,#a0ff00 200deg,#afff00 210deg,#adff00 220deg,#abff00 230deg,#a9ff00 240deg,#acff00 250deg,#afff00 260deg,#a2ff00 270deg,#95ff00 280deg,#84ff00 290deg,#74ff00 300deg,#7fff00 310deg,#8bff00 320deg,#96ff00 330deg,#98ff00 340deg,#99ff00 350deg,#9bff00 360deg)"></div><div style="left:-54.4px;top:-54.4px;width:108.8px;height:108.8px;background:conic-gradient(#a6ff00 0deg,#b3ff00 10deg,#c1ff00 20deg,#ceff00 30deg,#cfff00 40deg,#d0ff00 50deg,#d0ff00 60deg,#c1ff00 70deg,#b2ff00 80deg,#a3ff00 90deg,#85ff00 100deg,#69ff00 110deg,#4eff00 120deg,#52ff00 130deg,#55ff00 140deg,#58ff00 150deg,#6bff00 160deg,#7dff00 170deg,#90ff00 180deg,#9eff00 190deg,#acff00 200deg,#baff00 210deg,#bcff00 220deg,#beff00 230deg,#c0ff00 240deg,#bdff00 250deg,#baff00 260deg,#aeff00 270deg,#a1ff00 280deg,#93ff00 290deg,#84ff00 300deg,#8fff00 310deg,#99ff00 320deg,#a3ff00 330deg,#a4ff00 340deg,#a5ff00 350deg,#a6ff00 360deg)"></div><div style="left:-52.4px;top:-52.4px;width:104.8px;height:104.8px;background:conic-gradient(#b2ff00 0deg,#bcff00 10deg,#c7ff00 20deg,#d1ff00 30deg,#d1ff00 40deg,#d1ff00 50deg,#d0ff00 60deg,#c3ff00 70deg,#b5ff00 80deg,#a7ff00 90deg,#86ff00 100deg,#68ff00 110deg,#4aff00 120deg,#4eff00 130deg,#53ff00 140deg,#58ff00 150deg,#6fff00 160deg,#86ff00 170deg,#9fff00 180deg,#acff00 190deg,#b9ff00 200deg,#c5ff00 210deg,#cbff00 220deg,#d1ff00 230deg,#d7ff00 240deg,#ceff00 250deg,#c5ff00 260deg,#baff00 270deg,#aeff00 280deg,#a2ff00 290deg,#96ff00 300deg,#9fff00 310deg,#a8ff00 320deg,#b1ff00 330deg,#b1ff00 340deg,#b1ff00 350deg,#b2ff00 360deg)"></div><div style="left:-50.4px;top:-50.4px;width:100.8px;height:100.8px;background:conic-gradient(#bdff00 0deg,#c5ff00 10deg,#cdff00 20deg,#d5ff00 30deg,#d4ff00 40deg,#d2ff00 50deg,#d0ff00 60deg,#c4ff00 70deg,#b7ff00 80deg,#abff00 90deg,#87ff00 100deg,#66ff00 110deg,#46ff00 120deg,#4bff00 130deg,#51ff00 140deg,#57ff00 150deg,#72ff00 160deg,#8fff00 170deg,#adff00 180deg,#b9ff00 190deg,#c5ff00 200deg,#d1ff00 210deg,#daff00 220deg,#e4ff00 230deg,#edff00 240deg,#dfff00 250deg,#d1ff00 260deg,#c6ff00 270deg,#baff00 280deg,#b0ff00 290deg,#a7ff00 300deg,#aeff00 310deg,#b6ff00 320deg,#beff00 330deg,#beff00 340deg,#bdff00 350deg,#bdff00 360deg)"></div><div style="left:-48.4px;top:-48.4px;width:96.8px;height:96.8px;background:conic-gradient(#c8ff00 0deg,#ceff00 10deg,#d4ff00 20deg,#d9ff00 30deg,#d6ff00 40deg,#d3ff00 50deg,#d0ff00 60deg,#c5ff00 70deg,#baff00 80deg,#afff00 90deg,#88ff00 100deg,#65ff00 110deg,#41ff00 120deg,#48ff00 130deg,#4fff00 140deg,#56ff00 150deg,#76ff00 160deg,#99ff00 170deg,#bcff00 180deg,#c6ff00 190deg,#d1ff00 200deg,#dcff00 210deg,#eaff00 220deg,#f7ff00 230deg,#fff600 240deg,#f0ff00 250deg,#dcff00 260deg,#d2ff00 270deg,#c7ff00 280deg,#bfff00 290deg,#b8ff00 300deg,#beff00 310deg,#c5ff00 320deg,#cbff00 330deg,#caff00 340deg,#c9ff00 350deg,#c8ff00 360deg)"></div><div style="left:-46.4px;top:-46.4px;width:92.8px;height:92.8px;background:conic-gradient(#d4ff00 0deg,#d7ff00 10deg,#daff00 20deg,#ddff00 30deg,#d9ff00 40deg,#d5ff00 50deg,#d0ff00 60deg,#c6ff00 70deg,#bdff00 80deg,#b3ff00 90deg,#89ff00 100deg,#63ff00 110deg,#3dff00 120deg,#45ff00 130deg,#4eff00 140deg,#56ff00 150deg,#7aff00 160deg,#a2ff00 170deg,#caff00 180deg,#d4ff00 190deg,#deff00 200deg,#e8ff00 210deg,#f9ff00 220deg,#ffed00 230deg,#ffd000 240deg,#fffb00 250deg,#e8ff00 260deg,#deff00 270deg,#d3ff00 280deg,#ceff00 290deg,#c9ff00 300deg,#ceff00 310deg,#d3ff00 320deg,#d9ff00 330deg,#d7ff00 340deg,#d5ff00 350deg,#d4ff00 360deg)"></div><div style="left:-44.4px;top:-44.4px;width:88.8px;height:88.8px;background:conic-gradient(#d9ff00 0deg,#daff00 10deg,#dcff00 20deg,#ddff00 30deg,#d9ff00 40deg,#d4ff00 50deg,#cfff00 60deg,#c5ff00 70deg,#bbff00 80deg,#b1ff00 90deg,#88ff00 100deg,#62ff00 110deg,#3cff00 120deg,#44ff00 130deg,#4cff00 140deg,#54ff00 150deg,#7aff00 160deg,#a2ff00 170deg,#cbff00 180deg,#d6ff00 190deg,#e0ff00 200deg,#ebff00 210deg,#fdff00 220deg,#ffe400 230deg,#ffc500 240deg,#fff100 250deg,#edff00 260deg,#e3ff00 270deg,#d9ff00 280deg,#d5ff00 290deg,#d0ff00 300deg,#d5ff00 310deg,#daff00 320deg,#dfff00 330deg,#ddff00 340deg,#dbff00 350deg,#d9ff00 360deg)"></div><div style="left:-42.4px;top:-42.4px;width:84.8px;height:84.8px;background:conic-gradient(#d9ff00 0deg,#daff00 10deg,#dbff00 20deg,#dcff00 30deg,#d7ff00 40deg,#d2ff00 50deg,#cdff00 60deg,#c2ff00 70deg,#b7ff00 80deg,#abff00 90deg,#85ff00 100deg,#61ff00 110deg,#3eff00 120deg,#45ff00 130deg,#4cff00 140deg,#53ff00 150deg,#76ff00 160deg,#9bff00 170deg,#c2ff00 180deg,#ceff00 190deg,#daff00 200deg,#e7ff00 210deg,#f9ff00 220deg,#ffec00 230deg,#ffce00 240deg,#fff600 250deg,#edff00 260deg,#e3ff00 270deg,#d9ff00 280deg,#d5ff00 290deg,#d0ff00 300deg,#d5ff00 310deg,#daff00 320deg,#dfff00 330deg,#ddff00 340deg,#dbff00 350deg,#d9ff00 360deg)"></div><div style="left:-40.4px;top:-40.4px;width:80.8px;height:80.8px;background:conic-gradient(#d9ff00 0deg,#d9ff00 10deg,#d9ff00 20deg,#daff00 30deg,#d5ff00 40deg,#d0ff00 50deg,#ccff00 60deg,#bfff00 70deg,#b2ff00 80deg,#a6ff00 90deg,#82ff00 100deg,#61ff00 110deg,#40ff00 120deg,#46ff00 130deg,#4bff00 140deg,#51ff00 150deg,#72ff00 160deg,#94ff00 170deg,#b8ff00 180deg,#c6ff00 190deg,#d5ff00 200deg,#e3ff00 210deg,#f4ff00 220deg,#fff400 230deg,#ffd800 240deg,#fffb00 250deg,#edff00 260deg,#e3ff00 270deg,#d9ff00 280deg,#d5ff00 290deg,#d0ff00 300deg,#d5ff00 310deg,#daff00 320deg,#dfff00 330deg,#ddff00 340deg,#dbff00 350deg,#d9ff00 360deg)"></div><div style="left:-38.4px;top:-38.4px;width:76.8px;height:76.8px;background:conic-gradient(#d9ff00 0deg,#d9ff00 10deg,#d8ff00 20deg,#d8ff00 30deg,#d3ff00 40deg,#ceff00 50deg,#caff00 60deg,#bcff00 70deg,#aeff00 80deg,#a0ff00 90deg,#7fff00 100deg,#60ff00 110deg,#42ff00 120deg,#46ff00 130deg,#4bff00 140deg,#4fff00 150deg,#6eff00 160deg,#8dff00 170deg,#afff00 180deg,#bfff00 190deg,#cfff00 200deg,#dfff00 210deg,#f0ff00 220deg,#fffd00 230deg,#ffe100 240deg,#ffff00 250deg,#edff00 260deg,#e3ff00 270deg,#d9ff00 280deg,#d5ff00 290deg,#d0ff00 300deg,#d5ff00 310deg,#daff00 320deg,#dfff00 330deg,#ddff00 340deg,#dbff00 350deg,#d9ff00 360deg)"></div><div style="left:-36.4px;top:-36.4px;width:72.8px;height:72.8px;background:conic-gradient(#d9ff00 0deg,#d8ff00 10deg,#d7ff00 20deg,#d6ff00 30deg,#d1ff00 40deg,#ccff00 50deg,#c8ff00 60deg,#b9ff00 70deg,#a9ff00 80deg,#9aff00 90deg,#7cff00 100deg,#60ff00 110deg,#43ff00 120deg,#47ff00 130deg,#4aff00 140deg,#4dff00 150deg,#6aff00 160deg,#86ff00 170deg,#a5ff00 180deg,#b7ff00 190deg,#c9ff00 200deg,#dbff00 210deg,#ebff00 220deg,#fbff00 230deg,#ffeb00 240deg,#fcff00 250deg,#edff00 260deg,#e3ff00 270deg,#d9ff00 280deg,#d5ff00 290deg,#d0ff00 300deg,#d5ff00 310deg,#daff00 320deg,#dfff00 330deg,#ddff00 340deg,#dbff00 350deg,#d9ff00 360deg)"></div><div style="left:-34.4px;top:-34.4px;width:68.8px;height:68.8px;background:conic-gradient(#d9ff00 0deg,#d7ff00 10deg,#d6ff00 20deg,#d4ff00 30deg,#cfff00 40deg,#cbff00 50deg,#c6ff00 60deg,#b5ff00 70deg,#a5ff00 80deg,#94ff00 90deg,#79ff00 100deg,#5fff00 110deg,#45ff00 120deg,#47ff00 130deg,#49ff00 140deg,#4cff00 150deg,#66ff00 160deg,#7fff00 170deg,#9cff00 180deg,#b0ff00 190deg,#c4ff00 200deg,#d8ff00 210deg,#e7ff00 220deg,#f6ff00 230deg,#fff400 240deg,#f9ff00 250deg,#edff00 260deg,#e3ff00 270deg,#d9ff00 280deg,#d5ff00 290deg,#d0ff00 300deg,#d5ff00 310deg,#daff00 320deg,#dfff00 330deg,#ddff00 340deg,#dbff00 350deg,#d9ff00 360deg)"></div><div style="left:-32.4px;top:-32.4px;width:64.8px;height:64.8px;background:conic-gradient(#d9ff00 0deg,#d7ff00 10deg,#d4ff00 20deg,#d2ff00 30deg,#cdff00 40deg,#c9ff00 50deg,#c4ff00 60deg,#b2ff00 70deg,#a1ff00 80deg,#8fff00 90deg,#76ff00 100deg,#5eff00 110deg,#47ff00 120deg,#48ff00 130deg,#49ff00 140deg,#4aff00 150deg,#61ff00 160deg,#79ff00 170deg,#92ff00 180deg,#a8ff00 190deg,#beff00 200deg,#d4ff00 210deg,#e2ff00 220deg,#f1ff00 230deg,#fffe00 240deg,#f6ff00 250deg,#edff00 260deg,#e3ff00 270deg,#d9ff00 280deg,#d5ff00 290deg,#d0ff00 300deg,#d5ff00 310deg,#daff00 320deg,#dfff00 330deg,#ddff00 340deg,#dbff00 350deg,#d9ff00 360deg)"></div><div style="left:-30.4px;top:-30.4px;width:60.8px;height:60.8px;background:conic-gradient(#d9ff00 0deg,#d6ff00 10deg,#d3ff00 20deg,#d0ff00 30deg,#ccff00 40deg,#c7ff00 50deg,#c2ff00 60deg,#afff00 70deg,#9cff00 80deg,#8aff00 90deg,#73ff00 100deg,#5eff00 110deg,#49ff00 120deg,#49ff00 130deg,#48ff00 140deg,#48ff00 150deg,#5eff00 160deg,#73ff00 170deg,#8aff00 180deg,#a1ff00 190deg,#b9ff00 200deg,#d0ff00 210deg,#deff00 220deg,#ecff00 230deg,#faff00 240deg,#f3ff00 250deg,#ecff00 260deg,#e3ff00 270deg,#d9ff00 280deg,#d5ff00 290deg,#d1ff00 300deg,#d5ff00 310deg,#daff00 320deg,#dfff00 330deg,#ddff00 340deg,#dbff00 350deg,#d9ff00 360deg)"></div><div style="left:-28.4px;top:-28.4px;width:56.8px;height:56.8px;background:conic-gradient(#daff00 0deg,#d7ff00 10deg,#d4ff00 20deg,#d0ff00 30deg,#caff00 40deg,#c4ff00 50deg,#beff00 60deg,#acff00 70deg,#9aff00 80deg,#88ff00 90deg,#73ff00 100deg,#5fff00 110deg,#4aff00 120deg,#4aff00 130deg,#49ff00 140deg,#48ff00 150deg,#5dff00 160deg,#72ff00 170deg,#88ff00 180deg,#9fff00 190deg,#b7ff00 200deg,#ceff00 210deg,#dcff00 220deg,#e9ff00 230deg,#f6ff00 240deg,#f0ff00 250deg,#eaff00 260deg,#e2ff00 270deg,#daff00 280deg,#d6ff00 290deg,#d3ff00 300deg,#d7ff00 310deg,#dbff00 320deg,#dfff00 330deg,#ddff00 340deg,#dbff00 350deg,#daff00 360deg)"></div><div style="left:-26.4px;top:-26.4px;width:52.8px;height:52.8px;background:conic-gradient(#dbff00 0deg,#d7ff00 10deg,#d4ff00 20deg,#d0ff00 30deg,#c9ff00 40deg,#c2ff00 50deg,#baff00 60deg,#a9ff00 70deg,#97ff00 80deg,#86ff00 90deg,#72ff00 100deg,#5fff00 110deg,#4cff00 120deg,#4bff00 130deg,#4aff00 140deg,#48ff00 150deg,#5dff00 160deg,#71ff00 170deg,#86ff00 180deg,#9dff00 190deg,#b5ff00 200deg,#ccff00 210deg,#d9ff00 220deg,#e6ff00 230deg,#f3ff00 240deg,#eeff00 250deg,#e9ff00 260deg,#e2ff00 270deg,#dbff00 280deg,#d8ff00 290deg,#d5ff00 300deg,#d8ff00 310deg,#dbff00 320deg,#dfff00 330deg,#ddff00 340deg,#dcff00 350deg,#dbff00 360deg)"></div><div style="left:-24.4px;top:-24.4px;width:48.8px;height:48.8px;background:conic-gradient(#dbff00 0deg,#d8ff00 10deg,#d4ff00 20deg,#d0ff00 30deg,#c8ff00 40deg,#bfff00 50deg,#b6ff00 60deg,#a6ff00 70deg,#95ff00 80deg,#84ff00 90deg,#72ff00 100deg,#60ff00 110deg,#4eff00 120deg,#4cff00 130deg,#4aff00 140deg,#48ff00 150deg,#5cff00 160deg,#70ff00 170deg,#84ff00 180deg,#9bff00 190deg,#b3ff00 200deg,#caff00 210deg,#d7ff00 220deg,#e3ff00 230deg,#efff00 240deg,#ebff00 250deg,#e7ff00 260deg,#e1ff00 270deg,#dbff00 280deg,#d9ff00 290deg,#d6ff00 300deg,#d9ff00 310deg,#dcff00 320deg,#dfff00 330deg,#ddff00 340deg,#dcff00 350deg,#dbff00 360deg)"></div><div style="left:-22.4px;top:-22.4px;width:44.8px;height:44.8px;background:conic-gradient(#dcff00 0deg,#d8ff00 10deg,#d4ff00 20deg,#d0ff00 30deg,#c6ff00 40deg,#bdff00 50deg,#b3ff00 60deg,#a2ff00 70deg,#92ff00 80deg,#82ff00 90deg,#71ff00 100deg,#60ff00 110deg,#50ff00 120deg,#4dff00 130deg,#4bff00 140deg,#48ff00 150deg,#5cff00 160deg,#6fff00 170deg,#82ff00 180deg,#9aff00 190deg,#b1ff00 200deg,#c9ff00 210deg,#d4ff00 220deg,#e0ff00 230deg,#ebff00 240deg,#e8ff00 250deg,#e5ff00 260deg,#e0ff00 270deg,#dcff00 280deg,#daff00 290deg,#d8ff00 300deg,#daff00 310deg,#dcff00 320deg,#dfff00 330deg,#deff00 340deg,#ddff00 350deg,#dcff00 360deg)"></div><div style="left:-20.4px;top:-20.4px;width:40.8px;height:40.8px;background:conic-gradient(#ddff00 0deg,#d9ff00 10deg,#d5ff00 20deg,#d0ff00 30deg,#c5ff00 40deg,#baff00 50deg,#afff00 60deg,#9fff00 70deg,#90ff00 80deg,#80ff00 90deg,#71ff00 100deg,#61ff00 110deg,#51ff00 120deg,#4eff00 130deg,#4bff00 140deg,#48ff00 150deg,#5bff00 160deg,#6eff00 170deg,#80ff00 180deg,#98ff00 190deg,#afff00 200deg,#c7ff00 210deg,#d2ff00 220deg,#dcff00 230deg,#e7ff00 240deg,#e5ff00 250deg,#e3ff00 260deg,#e0ff00 270deg,#ddff00 280deg,#dcff00 290deg,#daff00 300deg,#dcff00 310deg,#ddff00 320deg,#dfff00 330deg,#deff00 340deg,#ddff00 350deg,#ddff00 360deg)"></div><div style="left:-18.4px;top:-18.4px;width:36.8px;height:36.8px;background:conic-gradient(#deff00 0deg,#d9ff00 10deg,#d5ff00 20deg,#d0ff00 30deg,#c4ff00 40deg,#b7ff00 50deg,#abff00 60deg,#9cff00 70deg,#8dff00 80deg,#7eff00 90deg,#70ff00 100deg,#62ff00 110deg,#53ff00 120deg,#50ff00 130deg,#4cff00 140deg,#48ff00 150deg,#5aff00 160deg,#6cff00 170deg,#7eff00 180deg,#96ff00 190deg,#adff00 200deg,#c5ff00 210deg,#cfff00 220deg,#d9ff00 230deg,#e3ff00 240deg,#e2ff00 250deg,#e1ff00 260deg,#dfff00 270deg,#deff00 280deg,#ddff00 290deg,#dcff00 300deg,#ddff00 310deg,#deff00 320deg,#dfff00 330deg,#deff00 340deg,#deff00 350deg,#deff00 360deg)"></div><div style="left:-16.4px;top:-16.4px;width:32.8px;height:32.8px;background:conic-gradient(#deff00 0deg,#daff00 10deg,#d5ff00 20deg,#d0ff00 30deg,#c3ff00 40deg,#b5ff00 50deg,#a7ff00 60deg,#99ff00 70deg,#8bff00 80deg,#7dff00 90deg,#6fff00 100deg,#62ff00 110deg,#55ff00 120deg,#51ff00 130deg,#4dff00 140deg,#48ff00 150deg,#5aff00 160deg,#6bff00 170deg,#7dff00 180deg,#94ff00 190deg,#abff00 200deg,#c3ff00 210deg,#ccff00 220deg,#d6ff00 230deg,#e0ff00 240deg,#dfff00 250deg,#dfff00 260deg,#dfff00 270deg,#deff00 280deg,#deff00 290deg,#deff00 300deg,#deff00 310deg,#deff00 320deg,#dfff00 330deg,#deff00 340deg,#deff00 350deg,#deff00 360deg)"></div><div style="left:-14.4px;top:-14.4px;width:28.8px;height:28.8px;background:conic-gradient(#daff00 0deg,#d6ff00 10deg,#d2ff00 20deg,#ceff00 30deg,#c1ff00 40deg,#b4ff00 50deg,#a7ff00 60deg,#9bff00 70deg,#8eff00 80deg,#81ff00 90deg,#75ff00 100deg,#6aff00 110deg,#5eff00 120deg,#5aff00 130deg,#56ff00 140deg,#52ff00 150deg,#62ff00 160deg,#72ff00 170deg,#81ff00 180deg,#96ff00 190deg,#acff00 200deg,#c1ff00 210deg,#c9ff00 220deg,#d2ff00 230deg,#daff00 240deg,#daff00 250deg,#daff00 260deg,#daff00 270deg,#daff00 280deg,#daff00 290deg,#daff00 300deg,#daff00 310deg,#daff00 320deg,#daff00 330deg,#daff00 340deg,#daff00 350deg,#daff00 360deg)"></div><div style="left:-12.4px;top:-12.4px;width:24.8px;height:24.8px;background:conic-gradient(#d5ff00 0deg,#d1ff00 10deg,#ceff00 20deg,#caff00 30deg,#bfff00 40deg,#b4ff00 50deg,#a9ff00 60deg,#9fff00 70deg,#94ff00 80deg,#89ff00 90deg,#7eff00 100deg,#74ff00 110deg,#6aff00 120deg,#67ff00 130deg,#64ff00 140deg,#60ff00 150deg,#6eff00 160deg,#7bff00 170deg,#89ff00 180deg,#9bff00 190deg,#adff00 200deg,#bfff00 210deg,#c6ff00 220deg,#ceff00 230deg,#d5ff00 240deg,#d5ff00 250deg,#d5ff00 260deg,#d5ff00 270deg,#d5ff00 280deg,#d5ff00 290deg,#d5ff00 300deg,#d5ff00 310deg,#d5ff00 320deg,#d5ff00 330deg,#d5ff00 340deg,#d5ff00 350deg,#d5ff00 360deg)"></div><div style="left:-10.4px;top:-10.4px;width:20.8px;height:20.8px;background:conic-gradient(#cfff00 0deg,#ccff00 10deg,#c9ff00 20deg,#c6ff00 30deg,#bdff00 40deg,#b4ff00 50deg,#abff00 60deg,#a2ff00 70deg,#99ff00 80deg,#90ff00 90deg,#88ff00 100deg,#7fff00 110deg,#77ff00 120deg,#74ff00 130deg,#71ff00 140deg,#6eff00 150deg,#79ff00 160deg,#85ff00 170deg,#90ff00 180deg,#9fff00 190deg,#aeff00 200deg,#bdff00 210deg,#c3ff00 220deg,#c9ff00 230deg,#cfff00 240deg,#cfff00 250deg,#cfff00 260deg,#cfff00 270deg,#cfff00 280deg,#cfff00 290deg,#cfff00 300deg,#cfff00 310deg,#cfff00 320deg,#cfff00 330deg,#cfff00 340deg,#cfff00 350deg,#cfff00 360deg)"></div><div style="left:-8.4px;top:-8.4px;width:16.8px;height:16.8px;background:conic-gradient(#c9ff00 0deg,#c7ff00 10deg,#c5ff00 20deg,#c2ff00 30deg,#bbff00 40deg,#b4ff00 50deg,#adff00 60deg,#a6ff00 70deg,#9fff00 80deg,#98ff00 90deg,#91ff00 100deg,#8aff00 110deg,#83ff00 120deg,#81ff00 130deg,#7eff00 140deg,#7cff00 150deg,#85ff00 160deg,#8fff00 170deg,#98ff00 180deg,#a4ff00 190deg,#b0ff00 200deg,#bbff00 210deg,#c0ff00 220deg,#c5ff00 230deg,#c9ff00 240deg,#c9ff00 250deg,#c9ff00 260deg,#c9ff00 270deg,#c9ff00 280deg,#c9ff00 290deg,#c9ff00 300deg,#c9ff00 310deg,#c9ff00 320deg,#c9ff00 330deg,#c9ff00 340deg,#c9ff00 350deg,#c9ff00 360deg)"></div><div style="left:-6.4px;top:-6.4px;width:12.8px;height:12.8px;background:conic-gradient(#c4ff00 0deg,#c2ff00 10deg,#c0ff00 20deg,#beff00 30deg,#b9ff00 40deg,#b4ff00 50deg,#afff00 60deg,#aaff00 70deg,#a5ff00 80deg,#a0ff00 90deg,#9bff00 100deg,#95ff00 110deg,#90ff00 120deg,#8fff00 130deg,#8dff00 140deg,#8bff00 150deg,#92ff00 160deg,#99ff00 170deg,#a0ff00 180deg,#a8ff00 190deg,#b1ff00 200deg,#b9ff00 210deg,#bdff00 220deg,#c0ff00 230deg,#c4ff00 240deg,#c4ff00 250deg,#c4ff00 260deg,#c4ff00 270deg,#c4ff00 280deg,#c4ff00 290deg,#c4ff00 300deg,#c4ff00 310deg,#c4ff00 320deg,#c4ff00 330deg,#c4ff00 340deg,#c4ff00 350deg,#c4ff00 360deg)"></div><div style="left:-4.4px;top:-4.4px;width:8.8px;height:8.8px;background:conic-gradient(#beff00 0deg,#bdff00 10deg,#bcff00 20deg,#bbff00 30deg,#b7ff00 40deg,#b4ff00 50deg,#b1ff00 60deg,#aeff00 70deg,#abff00 80deg,#a7ff00 90deg,#a4ff00 100deg,#a1ff00 110deg,#9eff00 120deg,#9dff00 130deg,#9bff00 140deg,#9aff00 150deg,#9fff00 160deg,#a3ff00 170deg,#a7ff00 180deg,#adff00 190deg,#b2ff00 200deg,#b7ff00 210deg,#baff00 220deg,#bcff00 230deg,#beff00 240deg,#beff00 250deg,#beff00 260deg,#beff00 270deg,#beff00 280deg,#beff00 290deg,#beff00 300deg,#beff00 310deg,#beff00 320deg,#beff00 330deg,#beff00 340deg,#beff00 350deg,#beff00 360deg)"></div><div style="left:-2.4px;top:-2.4px;width:4.8px;height:4.8px;background:conic-gradient(#b8ff00 0deg,#b8ff00 10deg,#b7ff00 20deg,#b7ff00 30deg,#b6ff00 40deg,#b4ff00 50deg,#b3ff00 60deg,#b2ff00 70deg,#b0ff00 80deg,#afff00 90deg,#aeff00 100deg,#acff00 110deg,#abff00 120deg,#aaff00 130deg,#aaff00 140deg,#aaff00 150deg,#abff00 160deg,#adff00 170deg,#afff00 180deg,#b1ff00 190deg,#b3ff00 200deg,#b6ff00 210deg,#b6ff00 220deg,#b7ff00 230deg,#b8ff00 240deg,#b8ff00 250deg,#b8ff00 260deg,#b8ff00 270deg,#b8ff00 280deg,#b8ff00 290deg,#b8ff00 300deg,#b8ff00 310deg,#b8ff00 320deg,#b8ff00 330deg,#b8ff00 340deg,#b8ff00 350deg,#b8ff00 360deg)"></div><div style="left:-39px;top:-18px;width:50px;height:40px;transform:rotate(-29deg);background:radial-gradient(closest-side,rgba(255,250,0,.55) 0%,rgba(255,250,0,.3) 50%,rgba(255,250,0,0) 100%)"></div><div style="left:-48px;top:0px;width:56px;height:22px;transform:rotate(-29deg);background:radial-gradient(closest-side,rgba(255,150,0,.8) 0%,rgba(255,185,0,.5) 55%,rgba(255,230,0,0) 100%)"></div><div style="left:-27px;top:1.5px;width:30px;height:11px;transform:rotate(-29deg);background:radial-gradient(closest-side,#ff3000 0%,#ff4000 40%,rgba(255,100,0,.7) 70%,rgba(255,150,0,0) 100%)"></div><div style="left:-5px;top:-30px;width:10px;height:32px;transform:rotate(0deg);background:radial-gradient(closest-side,rgba(255,120,0,.9) 0%,rgba(255,170,0,.6) 45%,rgba(255,230,0,.25) 80%,rgba(255,255,0,0) 100%)"></div></div></div></div><div class="hm" style="left:941.9px;top:1877.7px;transform:scale(0.96,1)"><div class="clip" style="left:-149.45px;top:-149.45px;width:298.9px;height:298.9px"><div class="inner" style="left:149.45px;top:149.45px"><div style="left:-151.45px;top:-151.45px;width:302.9px;height:302.9px;background:conic-gradient(#00ff05 0deg,#26ff00 10deg,#51ff00 20deg,#7cff00 30deg,#8fff00 40deg,#a1ff00 50deg,#b4ff00 60deg,#beff00 70deg,#c7ff00 80deg,#d0ff00 90deg,#beff00 100deg,#abff00 110deg,#98ff00 120deg,#abff00 130deg,#beff00 140deg,#d0ff00 150deg,#d5ff00 160deg,#daff00 170deg,#dfff00 180deg,#e3ff00 190deg,#e8ff00 200deg,#edff00 210deg,#e3ff00 220deg,#daff00 230deg,#d0ff00 240deg,#83ff00 250deg,#3bff00 260deg,#00ff25 270deg,#00ff88 280deg,#00ffb7 290deg,#00ffe6 300deg,#00ffcc 310deg,#00ffb2 320deg,#00ff98 330deg,#00ff64 340deg,#00ff35 350deg,#00ff05 360deg)"></div><div style="left:-149.45px;top:-149.45px;width:298.9px;height:298.9px;background:conic-gradient(#00ff05 0deg,#26ff00 10deg,#51ff00 20deg,#7cff00 30deg,#8fff00 40deg,#a1ff00 50deg,#b4ff00 60deg,#beff00 70deg,#c7ff00 80deg,#d0ff00 90deg,#beff00 100deg,#abff00 110deg,#98ff00 120deg,#abff00 130deg,#beff00 140deg,#d0ff00 150deg,#d5ff00 160deg,#daff00 170deg,#dfff00 180deg,#e3ff00 190deg,#e8ff00 200deg,#edff00 210deg,#e3ff00 220deg,#daff00 230deg,#d0ff00 240deg,#83ff00 250deg,#3bff00 260deg,#00ff25 270deg,#00ff88 280deg,#00ffb7 290deg,#00ffe6 300deg,#00ffcc 310deg,#00ffb2 320deg,#00ff98 330deg,#00ff64 340deg,#00ff35 350deg,#00ff05 360deg)"></div><div style="left:-147.45px;top:-147.45px;width:294.9px;height:294.9px;background:conic-gradient(#00ff05 0deg,#26ff00 10deg,#51ff00 20deg,#7cff00 30deg,#8fff00 40deg,#a1ff00 50deg,#b4ff00 60deg,#beff00 70deg,#c7ff00 80deg,#d0ff00 90deg,#beff00 100deg,#abff00 110deg,#98ff00 120deg,#abff00 130deg,#beff00 140deg,#d0ff00 150deg,#d5ff00 160deg,#daff00 170deg,#dfff00 180deg,#e3ff00 190deg,#e8ff00 200deg,#edff00 210deg,#e3ff00 220deg,#daff00 230deg,#d0ff00 240deg,#83ff00 250deg,#3bff00 260deg,#00ff25 270deg,#00ff88 280deg,#00ffb7 290deg,#00ffe6 300deg,#00ffcc 310deg,#00ffb2 320deg,#00ff98 330deg,#00ff64 340deg,#00ff35 350deg,#00ff05 360deg)"></div><div style="left:-145.45px;top:-145.45px;width:290.9px;height:290.9px;background:conic-gradient(#00ff05 0deg,#26ff00 10deg,#51ff00 20deg,#7cff00 30deg,#8fff00 40deg,#a1ff00 50deg,#b4ff00 60deg,#beff00 70deg,#c7ff00 80deg,#d0ff00 90deg,#beff00 100deg,#abff00 110deg,#98ff00 120deg,#abff00 130deg,#beff00 140deg,#d0ff00 150deg,#d5ff00 160deg,#daff00 170deg,#dfff00 180deg,#e3ff00 190deg,#e8ff00 200deg,#edff00 210deg,#e3ff00 220deg,#daff00 230deg,#d0ff00 240deg,#83ff00 250deg,#3bff00 260deg,#00ff25 270deg,#00ff88 280deg,#00ffb7 290deg,#00ffe6 300deg,#00ffcc 310deg,#00ffb2 320deg,#00ff98 330deg,#00ff64 340deg,#00ff35 350deg,#00ff05 360deg)"></div><div style="left:-143.45px;top:-143.45px;width:286.9px;height:286.9px;background:conic-gradient(#00ff05 0deg,#26ff00 10deg,#51ff00 20deg,#7cff00 30deg,#8fff00 40deg,#a1ff00 50deg,#b4ff00 60deg,#beff00 70deg,#c7ff00 80deg,#d0ff00 90deg,#beff00 100deg,#abff00 110deg,#98ff00 120deg,#abff00 130deg,#beff00 140deg,#d0ff00 150deg,#d5ff00 160deg,#daff00 170deg,#dfff00 180deg,#e3ff00 190deg,#e8ff00 200deg,#edff00 210deg,#e3ff00 220deg,#daff00 230deg,#d0ff00 240deg,#83ff00 250deg,#3bff00 260deg,#00ff25 270deg,#00ff88 280deg,#00ffb7 290deg,#00ffe6 300deg,#00ffcc 310deg,#00ffb2 320deg,#00ff98 330deg,#00ff64 340deg,#00ff35 350deg,#00ff05 360deg)"></div><div style="left:-141.45px;top:-141.45px;width:282.9px;height:282.9px;background:conic-gradient(#00ff05 0deg,#27ff00 10deg,#54ff00 20deg,#80ff00 30deg,#93ff00 40deg,#a5ff00 50deg,#b8ff00 60deg,#c1ff00 70deg,#caff00 80deg,#d3ff00 90deg,#c1ff00 100deg,#afff00 110deg,#9dff00 120deg,#afff00 130deg,#c1ff00 140deg,#d3ff00 150deg,#d7ff00 160deg,#dbff00 170deg,#e0ff00 180deg,#e4ff00 190deg,#e8ff00 200deg,#ebff00 210deg,#e1ff00 220deg,#d7ff00 230deg,#cdff00 240deg,#83ff00 250deg,#3fff00 260deg,#00ff22 270deg,#00ff82 280deg,#00ffb0 290deg,#00ffde 300deg,#00ffc4 310deg,#00ffaa 320deg,#00ff90 330deg,#00ff5f 340deg,#00ff32 350deg,#00ff05 360deg)"></div><div style="left:-139.45px;top:-139.45px;width:278.9px;height:278.9px;background:conic-gradient(#00ff04 0deg,#29ff00 10deg,#57ff00 20deg,#85ff00 30deg,#98ff00 40deg,#aaff00 50deg,#bdff00 60deg,#c5ff00 70deg,#ceff00 80deg,#d7ff00 90deg,#c6ff00 100deg,#b4ff00 110deg,#a3ff00 120deg,#b4ff00 130deg,#c5ff00 140deg,#d6ff00 150deg,#daff00 160deg,#deff00 170deg,#e1ff00 180deg,#e4ff00 190deg,#e7ff00 200deg,#eaff00 210deg,#dfff00 220deg,#d4ff00 230deg,#c9ff00 240deg,#83ff00 250deg,#43ff00 260deg,#00ff1d 270deg,#00ff7c 280deg,#00ffa7 290deg,#00ffd3 300deg,#00ffb9 310deg,#00ff9f 320deg,#00ff85 330deg,#00ff59 340deg,#00ff2f 350deg,#00ff04 360deg)"></div><div style="left:-137.45px;top:-137.45px;width:274.9px;height:274.9px;background:conic-gradient(#00ff04 0deg,#2cff00 10deg,#5bff00 20deg,#8bff00 30deg,#9dff00 40deg,#afff00 50deg,#c1ff00 60deg,#caff00 70deg,#d2ff00 80deg,#dbff00 90deg,#caff00 100deg,#baff00 110deg,#a9ff00 120deg,#b9ff00 130deg,#c9ff00 140deg,#d9ff00 150deg,#dcff00 160deg,#e0ff00 170deg,#e3ff00 180deg,#e5ff00 190deg,#e7ff00 200deg,#e8ff00 210deg,#ddff00 220deg,#d1ff00 230deg,#c5ff00 240deg,#84ff00 250deg,#47ff00 260deg,#00ff18 270deg,#00ff77 280deg,#00ff9f 290deg,#00ffc9 300deg,#00ffaf 310deg,#00ff95 320deg,#00ff7b 330deg,#00ff54 340deg,#00ff2c 350deg,#00ff04 360deg)"></div><div style="left:-135.45px;top:-135.45px;width:270.9px;height:270.9px;background:conic-gradient(#00ff03 0deg,#2eff00 10deg,#5eff00 20deg,#90ff00 30deg,#a2ff00 40deg,#b4ff00 50deg,#c6ff00 60deg,#ceff00 70deg,#d6ff00 80deg,#dfff00 90deg,#cfff00 100deg,#bfff00 110deg,#b0ff00 120deg,#bfff00 130deg,#cdff00 140deg,#dcff00 150deg,#dfff00 160deg,#e2ff00 170deg,#e4ff00 180deg,#e5ff00 190deg,#e6ff00 200deg,#e7ff00 210deg,#daff00 220deg,#ceff00 230deg,#c1ff00 240deg,#84ff00 250deg,#4cff00 260deg,#00ff13 270deg,#00ff71 280deg,#00ff96 290deg,#00ffbe 300deg,#00ffa4 310deg,#00ff8a 320deg,#00ff73 330deg,#00ff4e 340deg,#00ff28 350deg,#00ff03 360deg)"></div><div style="left:-133.45px;top:-133.45px;width:266.9px;height:266.9px;background:conic-gradient(#00ff02 0deg,#30ff00 10deg,#62ff00 20deg,#95ff00 30deg,#a7ff00 40deg,#b9ff00 50deg,#cbff00 60deg,#d3ff00 70deg,#dbff00 80deg,#e2ff00 90deg,#d4ff00 100deg,#c5ff00 110deg,#b6ff00 120deg,#c4ff00 130deg,#d2ff00 140deg,#dfff00 150deg,#e2ff00 160deg,#e4ff00 170deg,#e6ff00 180deg,#e6ff00 190deg,#e5ff00 200deg,#e5ff00 210deg,#d8ff00 220deg,#caff00 230deg,#bdff00 240deg,#84ff00 250deg,#50ff00 260deg,#00ff0d 270deg,#00ff6b 280deg,#00ff8d 290deg,#00ffb4 300deg,#00ff9a 310deg,#00ff80 320deg,#00ff6a 330deg,#00ff48 340deg,#00ff25 350deg,#00ff02 360deg)"></div><div style="left:-131.45px;top:-131.45px;width:262.9px;height:262.9px;background:conic-gradient(#00ff02 0deg,#32ff00 10deg,#65ff00 20deg,#9bff00 30deg,#acff00 40deg,#beff00 50deg,#cfff00 60deg,#d7ff00 70deg,#dfff00 80deg,#e6ff00 90deg,#d8ff00 100deg,#caff00 110deg,#bcff00 120deg,#c9ff00 130deg,#d6ff00 140deg,#e3ff00 150deg,#e4ff00 160deg,#e6ff00 170deg,#e8ff00 180deg,#e6ff00 190deg,#e5ff00 200deg,#e4ff00 210deg,#d5ff00 220deg,#c7ff00 230deg,#b9ff00 240deg,#85ff00 250deg,#54ff00 260deg,#00ff08 270deg,#00ff65 280deg,#00ff84 290deg,#00ffa9 300deg,#00ff8f 310deg,#00ff77 320deg,#00ff62 330deg,#00ff42 340deg,#00ff22 350deg,#00ff02 360deg)"></div><div style="left:-129.45px;top:-129.45px;width:258.9px;height:258.9px;background:conic-gradient(#00ff01 0deg,#34ff00 10deg,#68ff00 20deg,#a0ff00 30deg,#b1ff00 40deg,#c3ff00 50deg,#d4ff00 60deg,#dbff00 70deg,#e3ff00 80deg,#eaff00 90deg,#ddff00 100deg,#d0ff00 110deg,#c3ff00 120deg,#ceff00 130deg,#daff00 140deg,#e6ff00 150deg,#e7ff00 160deg,#e8ff00 170deg,#e9ff00 180deg,#e7ff00 190deg,#e4ff00 200deg,#e2ff00 210deg,#d3ff00 220deg,#c4ff00 230deg,#b5ff00 240deg,#85ff00 250deg,#59ff00 260deg,#00ff03 270deg,#00ff5f 280deg,#00ff7c 290deg,#00ff9f 300deg,#00ff85 310deg,#00ff6e 320deg,#00ff59 330deg,#00ff3c 340deg,#00ff1e 350deg,#00ff01 360deg)"></div><div style="left:-127.45px;top:-127.45px;width:254.9px;height:254.9px;background:conic-gradient(#00ff01 0deg,#36ff00 10deg,#6cff00 20deg,#a5ff00 30deg,#b6ff00 40deg,#c8ff00 50deg,#d9ff00 60deg,#e0ff00 70deg,#e7ff00 80deg,#eeff00 90deg,#e1ff00 100deg,#d5ff00 110deg,#c9ff00 120deg,#d4ff00 130deg,#deff00 140deg,#e9ff00 150deg,#e9ff00 160deg,#eaff00 170deg,#ebff00 180deg,#e7ff00 190deg,#e4ff00 200deg,#e0ff00 210deg,#d1ff00 220deg,#c1ff00 230deg,#b1ff00 240deg,#85ff00 250deg,#5dff00 260deg,#02ff00 270deg,#00ff5a 280deg,#00ff75 290deg,#00ff94 300deg,#00ff7b 310deg,#00ff66 320deg,#00ff50 330deg,#00ff36 340deg,#00ff1b 350deg,#00ff01 360deg)"></div><div style="left:-125.45px;top:-125.45px;width:250.9px;height:250.9px;background:conic-gradient(#00ff00 0deg,#38ff00 10deg,#6fff00 20deg,#abff00 30deg,#bcff00 40deg,#cdff00 50deg,#deff00 60deg,#e4ff00 70deg,#ebff00 80deg,#f2ff00 90deg,#e6ff00 100deg,#dbff00 110deg,#cfff00 120deg,#d9ff00 130deg,#e2ff00 140deg,#ecff00 150deg,#ecff00 160deg,#ecff00 170deg,#ecff00 180deg,#e8ff00 190deg,#e3ff00 200deg,#dfff00 210deg,#ceff00 220deg,#bdff00 230deg,#adff00 240deg,#86ff00 250deg,#61ff00 260deg,#07ff00 270deg,#00ff54 280deg,#00ff6e 290deg,#00ff8a 300deg,#00ff73 310deg,#00ff5d 320deg,#00ff48 330deg,#00ff30 340deg,#00ff18 350deg,#00ff00 360deg)"></div><div style="left:-123.45px;top:-123.45px;width:246.9px;height:246.9px;background:conic-gradient(#06ff00 0deg,#3eff00 10deg,#76ff00 20deg,#b2ff00 30deg,#c2ff00 40deg,#d2ff00 50deg,#e2ff00 60deg,#e8ff00 70deg,#eeff00 80deg,#f4ff00 90deg,#eaff00 100deg,#dfff00 110deg,#d5ff00 120deg,#deff00 130deg,#e7ff00 140deg,#efff00 150deg,#efff00 160deg,#efff00 170deg,#efff00 180deg,#e8ff00 190deg,#e2ff00 200deg,#dcff00 210deg,#caff00 220deg,#b8ff00 230deg,#a6ff00 240deg,#84ff00 250deg,#65ff00 260deg,#0eff00 270deg,#00ff48 280deg,#00ff62 290deg,#00ff7b 300deg,#00ff64 310deg,#00ff4e 320deg,#00ff37 330deg,#00ff23 340deg,#00ff0e 350deg,#06ff00 360deg)"></div><div style="left:-121.45px;top:-121.45px;width:242.9px;height:242.9px;background:conic-gradient(#0dff00 0deg,#45ff00 10deg,#7dff00 20deg,#baff00 30deg,#c9ff00 40deg,#d7ff00 50deg,#e6ff00 60deg,#ecff00 70deg,#f1ff00 80deg,#f7ff00 90deg,#eeff00 100deg,#e4ff00 110deg,#dbff00 120deg,#e3ff00 130deg,#ebff00 140deg,#f3ff00 150deg,#f2ff00 160deg,#f2ff00 170deg,#f1ff00 180deg,#e9ff00 190deg,#e1ff00 200deg,#d8ff00 210deg,#c5ff00 220deg,#b2ff00 230deg,#9eff00 240deg,#82ff00 250deg,#68ff00 260deg,#16ff00 270deg,#00ff3b 280deg,#00ff54 290deg,#00ff6d 300deg,#00ff55 310deg,#00ff3c 320deg,#00ff24 330deg,#00ff14 340deg,#00ff03 350deg,#0dff00 360deg)"></div><div style="left:-119.45px;top:-119.45px;width:238.9px;height:238.9px;background:conic-gradient(#14ff00 0deg,#4cff00 10deg,#85ff00 20deg,#c2ff00 30deg,#cfff00 40deg,#dcff00 50deg,#eaff00 60deg,#efff00 70deg,#f5ff00 80deg,#faff00 90deg,#f1ff00 100deg,#e9ff00 110deg,#e0ff00 120deg,#e8ff00 130deg,#efff00 140deg,#f6ff00 150deg,#f5ff00 160deg,#f4ff00 170deg,#f3ff00 180deg,#e9ff00 190deg,#dfff00 200deg,#d5ff00 210deg,#c0ff00 220deg,#abff00 230deg,#97ff00 240deg,#80ff00 250deg,#6bff00 260deg,#1fff00 270deg,#00ff2e 280deg,#00ff46 290deg,#00ff5f 300deg,#00ff45 310deg,#00ff2b 320deg,#00ff11 330deg,#00ff05 340deg,#08ff00 350deg,#14ff00 360deg)"></div><div style="left:-117.45px;top:-117.45px;width:234.9px;height:234.9px;background:conic-gradient(#1bff00 0deg,#53ff00 10deg,#8dff00 20deg,#caff00 30deg,#d6ff00 40deg,#e2ff00 50deg,#eeff00 60deg,#f3ff00 70deg,#f8ff00 80deg,#fdff00 90deg,#f5ff00 100deg,#eeff00 110deg,#e6ff00 120deg,#edff00 130deg,#f3ff00 140deg,#faff00 150deg,#f8ff00 160deg,#f7ff00 170deg,#f6ff00 180deg,#eaff00 190deg,#deff00 200deg,#d2ff00 210deg,#bbff00 220deg,#a5ff00 230deg,#8fff00 240deg,#7eff00 250deg,#6eff00 260deg,#27ff00 270deg,#00ff21 280deg,#00ff39 290deg,#00ff51 300deg,#00ff35 310deg,#00ff1a 320deg,#02ff00 330deg,#0aff00 340deg,#13ff00 350deg,#1bff00 360deg)"></div><div style="left:-115.45px;top:-115.45px;width:230.9px;height:230.9px;background:conic-gradient(#23ff00 0deg,#5bff00 10deg,#94ff00 20deg,#d2ff00 30deg,#dcff00 40deg,#e7ff00 50deg,#f1ff00 60deg,#f6ff00 70deg,#fbff00 80deg,#fffe00 90deg,#f9ff00 100deg,#f2ff00 110deg,#ecff00 120deg,#f1ff00 130deg,#f7ff00 140deg,#fdff00 150deg,#fbff00 160deg,#faff00 170deg,#f8ff00 180deg,#eaff00 190deg,#dcff00 200deg,#ceff00 210deg,#b7ff00 220deg,#9fff00 230deg,#88ff00 240deg,#7cff00 250deg,#71ff00 260deg,#2fff00 270deg,#00ff13 280deg,#00ff2b 290deg,#00ff43 300deg,#00ff25 310deg,#00ff08 320deg,#15ff00 330deg,#19ff00 340deg,#1eff00 350deg,#23ff00 360deg)"></div><div style="left:-113.45px;top:-113.45px;width:226.9px;height:226.9px;background:conic-gradient(#2aff00 0deg,#62ff00 10deg,#9cff00 20deg,#daff00 30deg,#e3ff00 40deg,#ecff00 50deg,#f5ff00 60deg,#faff00 70deg,#feff00 80deg,#fffa00 90deg,#fdff00 100deg,#f7ff00 110deg,#f1ff00 120deg,#f6ff00 130deg,#fbff00 140deg,#fffc00 150deg,#ffff00 160deg,#fdff00 170deg,#fbff00 180deg,#ebff00 190deg,#dbff00 200deg,#cbff00 210deg,#b2ff00 220deg,#99ff00 230deg,#80ff00 240deg,#7aff00 250deg,#74ff00 260deg,#37ff00 270deg,#00ff06 280deg,#00ff1d 290deg,#00ff34 300deg,#00ff16 310deg,#09ff00 320deg,#28ff00 330deg,#28ff00 340deg,#29ff00 350deg,#2aff00 360deg)"></div><div style="left:-111.45px;top:-111.45px;width:222.9px;height:222.9px;background:conic-gradient(#31ff00 0deg,#69ff00 10deg,#a4ff00 20deg,#e1ff00 30deg,#e9ff00 40deg,#f1ff00 50deg,#f9ff00 60deg,#fdff00 70deg,#fffb00 80deg,#fff500 90deg,#fffd00 100deg,#fcff00 110deg,#f7ff00 120deg,#fbff00 130deg,#fffe00 140deg,#fff700 150deg,#fffb00 160deg,#fffe00 170deg,#fdff00 180deg,#ebff00 190deg,#d9ff00 200deg,#c7ff00 210deg,#adff00 220deg,#93ff00 230deg,#79ff00 240deg,#78ff00 250deg,#78ff00 260deg,#3fff00 270deg,#07ff00 280deg,#00ff10 290deg,#00ff26 300deg,#00ff06 310deg,#1aff00 320deg,#3aff00 330deg,#37ff00 340deg,#34ff00 350deg,#31ff00 360deg)"></div><div style="left:-109.45px;top:-109.45px;width:218.9px;height:218.9px;background:conic-gradient(#38ff00 0deg,#70ff00 10deg,#acff00 20deg,#e9ff00 30deg,#f0ff00 40deg,#f7ff00 50deg,#fdff00 60deg,#fffc00 70deg,#fff600 80deg,#fff000 90deg,#fff700 100deg,#fffd00 110deg,#fdff00 120deg,#fffd00 130deg,#fff700 140deg,#fff100 150deg,#fff500 160deg,#fffa00 170deg,#fffe00 180deg,#ecff00 190deg,#d8ff00 200deg,#c4ff00 210deg,#a8ff00 220deg,#8cff00 230deg,#72ff00 240deg,#76ff00 250deg,#7bff00 260deg,#48ff00 270deg,#14ff00 280deg,#00ff02 290deg,#00ff18 300deg,#0aff00 310deg,#2cff00 320deg,#4dff00 330deg,#46ff00 340deg,#3fff00 350deg,#38ff00 360deg)"></div><div style="left:-107.45px;top:-107.45px;width:214.9px;height:214.9px;background:conic-gradient(#4fff00 0deg,#82ff00 10deg,#b9ff00 20deg,#f1ff00 30deg,#f7ff00 40deg,#fdff00 50deg,#fff800 60deg,#fff200 70deg,#ffed00 80deg,#ffe700 90deg,#ffeb00 100deg,#ffef00 110deg,#fff300 120deg,#ffef00 130deg,#ffea00 140deg,#ffe500 150deg,#ffec00 160deg,#fff200 170deg,#fff900 180deg,#edff00 190deg,#d8ff00 200deg,#c2ff00 210deg,#a6ff00 220deg,#89ff00 230deg,#6eff00 240deg,#76ff00 250deg,#7eff00 260deg,#4fff00 270deg,#20ff00 280deg,#0bff00 290deg,#00ff0b 300deg,#19ff00 310deg,#3cff00 320deg,#60ff00 330deg,#5aff00 340deg,#54ff00 350deg,#4fff00 360deg)"></div><div style="left:-105.45px;top:-105.45px;width:210.9px;height:210.9px;background:conic-gradient(#70ff00 0deg,#9dff00 10deg,#cbff00 20deg,#f9ff00 30deg,#ffff00 40deg,#fff500 50deg,#ffec00 60deg,#ffe600 70deg,#ffe000 80deg,#ffda00 90deg,#ffdc00 100deg,#ffdd00 110deg,#ffdf00 120deg,#ffdc00 130deg,#ffd900 140deg,#ffd600 150deg,#ffdf00 160deg,#ffe900 170deg,#fff200 180deg,#f0ff00 190deg,#d9ff00 200deg,#c2ff00 210deg,#a5ff00 220deg,#88ff00 230deg,#6dff00 240deg,#77ff00 250deg,#81ff00 260deg,#56ff00 270deg,#2bff00 280deg,#17ff00 290deg,#02ff00 300deg,#27ff00 310deg,#4cff00 320deg,#71ff00 330deg,#71ff00 340deg,#70ff00 350deg,#70ff00 360deg)"></div><div style="left:-103.45px;top:-103.45px;width:206.9px;height:206.9px;background:conic-gradient(#92ff00 0deg,#b7ff00 10deg,#dcff00 20deg,#fffc00 30deg,#fff200 40deg,#ffe900 50deg,#ffdf00 60deg,#ffd900 70deg,#ffd300 80deg,#ffcd00 90deg,#ffcc00 100deg,#ffcc00 110deg,#ffcb00 120deg,#ffc900 130deg,#ffc800 140deg,#ffc600 150deg,#ffd200 160deg,#ffdf00 170deg,#ffeb00 180deg,#f3ff00 190deg,#dbff00 200deg,#c2ff00 210deg,#a5ff00 220deg,#87ff00 230deg,#6bff00 240deg,#78ff00 250deg,#84ff00 260deg,#5dff00 270deg,#36ff00 280deg,#23ff00 290deg,#0fff00 300deg,#36ff00 310deg,#5cff00 320deg,#83ff00 330deg,#88ff00 340deg,#8dff00 350deg,#92ff00 360deg)"></div><div style="left:-101.45px;top:-101.45px;width:202.9px;height:202.9px;background:conic-gradient(#b7ff00 0deg,#d2ff00 10deg,#edff00 20deg,#ffef00 30deg,#ffe500 40deg,#ffdc00 50deg,#ffd300 60deg,#ffcc00 70deg,#ffc600 80deg,#ffc000 90deg,#ffbd00 100deg,#ffba00 110deg,#ffb700 120deg,#ffb700 130deg,#ffb600 140deg,#ffb600 150deg,#ffc600 160deg,#ffd500 170deg,#ffe400 180deg,#f5ff00 190deg,#dcff00 200deg,#c2ff00 210deg,#a4ff00 220deg,#86ff00 230deg,#6aff00 240deg,#78ff00 250deg,#87ff00 260deg,#64ff00 270deg,#41ff00 280deg,#2fff00 290deg,#1cff00 300deg,#44ff00 310deg,#6dff00 320deg,#97ff00 330deg,#a1ff00 340deg,#acff00 350deg,#b7ff00 360deg)"></div><div style="left:-99.45px;top:-99.45px;width:198.9px;height:198.9px;background:conic-gradient(#dbff00 0deg,#edff00 10deg,#ffff00 20deg,#ffe200 30deg,#ffd900 40deg,#ffd000 50deg,#ffc700 60deg,#ffc000 70deg,#ffb900 80deg,#ffb300 90deg,#ffad00 100deg,#ffa800 110deg,#ffa300 120deg,#ffa400 130deg,#ffa500 140deg,#ffa700 150deg,#ffb900 160deg,#ffcb00 170deg,#ffdd00 180deg,#f8ff00 190deg,#ddff00 200deg,#c2ff00 210deg,#a4ff00 220deg,#85ff00 230deg,#69ff00 240deg,#79ff00 250deg,#8aff00 260deg,#6bff00 270deg,#4cff00 280deg,#3bff00 290deg,#29ff00 300deg,#53ff00 310deg,#7dff00 320deg,#aaff00 330deg,#baff00 340deg,#cbff00 350deg,#dbff00 360deg)"></div><div style="left:-97.45px;top:-97.45px;width:194.9px;height:194.9px;background:conic-gradient(#ffff00 0deg,#fff100 10deg,#ffe300 20deg,#ffd400 30deg,#ffcc00 40deg,#ffc300 50deg,#ffba00 60deg,#ffb300 70deg,#ffac00 80deg,#ffa500 90deg,#ff9e00 100deg,#ff9600 110deg,#ff8e00 120deg,#ff9100 130deg,#ff9400 140deg,#ff9700 150deg,#ffac00 160deg,#ffc100 170deg,#ffd700 180deg,#fbff00 190deg,#dfff00 200deg,#c2ff00 210deg,#a3ff00 220deg,#84ff00 230deg,#67ff00 240deg,#7aff00 250deg,#8dff00 260deg,#72ff00 270deg,#57ff00 280deg,#47ff00 290deg,#36ff00 300deg,#62ff00 310deg,#8eff00 320deg,#bdff00 330deg,#d3ff00 340deg,#e9ff00 350deg,#ffff00 360deg)"></div><div style="left:-95.45px;top:-95.45px;width:190.9px;height:190.9px;background:conic-gradient(#ffc300 0deg,#ffc400 10deg,#ffc600 20deg,#ffc700 30deg,#ffbf00 40deg,#ffb600 50deg,#ffae00 60deg,#ffa700 70deg,#ff9f00 80deg,#ff9800 90deg,#ff8e00 100deg,#ff8400 110deg,#ff7900 120deg,#ff7e00 130deg,#ff8300 140deg,#ff8700 150deg,#ff9f00 160deg,#ffb800 170deg,#ffd000 180deg,#feff00 190deg,#e0ff00 200deg,#c2ff00 210deg,#a3ff00 220deg,#83ff00 230deg,#66ff00 240deg,#7aff00 250deg,#90ff00 260deg,#79ff00 270deg,#62ff00 280deg,#53ff00 290deg,#43ff00 300deg,#70ff00 310deg,#a0ff00 320deg,#d1ff00 330deg,#ecff00 340deg,#fff000 350deg,#ffc300 360deg)"></div><div style="left:-93.45px;top:-93.45px;width:186.9px;height:186.9px;background:conic-gradient(#ff8600 0deg,#ff9800 10deg,#ffa900 20deg,#ffba00 30deg,#ffb200 40deg,#ffaa00 50deg,#ffa200 60deg,#ff9a00 70deg,#ff9300 80deg,#ff8b00 90deg,#ff7f00 100deg,#ff7000 110deg,#ff6100 120deg,#ff6800 130deg,#ff6e00 140deg,#ff7500 150deg,#ff9300 160deg,#ffae00 170deg,#ffc900 180deg,#fffd00 190deg,#e1ff00 200deg,#c2ff00 210deg,#a2ff00 220deg,#82ff00 230deg,#64ff00 240deg,#7bff00 250deg,#94ff00 260deg,#7fff00 270deg,#6dff00 280deg,#5fff00 290deg,#50ff00 300deg,#7fff00 310deg,#b1ff00 320deg,#e4ff00 330deg,#fff500 340deg,#ffbd00 350deg,#ff8600 360deg)"></div><div style="left:-91.45px;top:-91.45px;width:182.9px;height:182.9px;background:conic-gradient(#ff3f00 0deg,#ff6700 10deg,#ff8c00 20deg,#ffad00 30deg,#ffa500 40deg,#ff9d00 50deg,#ff9500 60deg,#ff8e00 70deg,#ff8600 80deg,#ff7e00 90deg,#ff6c00 100deg,#ff5a00 110deg,#ff4800 120deg,#ff5100 130deg,#ff5a00 140deg,#ff6200 150deg,#ff8600 160deg,#ffa400 170deg,#ffc200 180deg,#fff800 190deg,#e3ff00 200deg,#c2ff00 210deg,#a2ff00 220deg,#81ff00 230deg,#63ff00 240deg,#7cff00 250deg,#97ff00 260deg,#87ff00 270deg,#78ff00 280deg,#6bff00 290deg,#5dff00 300deg,#8eff00 310deg,#c3ff00 320deg,#f7ff00 330deg,#ffcb00 340deg,#ff8a00 350deg,#ff3f00 360deg)"></div><div style="left:-89.45px;top:-89.45px;width:178.9px;height:178.9px;background:conic-gradient(#ff1400 0deg,#ff4400 10deg,#ff7500 20deg,#ff9e00 30deg,#ff9700 40deg,#ff8f00 50deg,#ff8800 60deg,#ff8000 70deg,#ff7700 80deg,#ff6e00 90deg,#ff5c00 100deg,#ff4a00 110deg,#ff3800 120deg,#ff4200 130deg,#ff4c00 140deg,#ff5600 150deg,#ff7d00 160deg,#ff9e00 170deg,#ffbe00 180deg,#fff300 190deg,#e6ff00 200deg,#c6ff00 210deg,#a6ff00 220deg,#85ff00 230deg,#66ff00 240deg,#82ff00 250deg,#9fff00 260deg,#92ff00 270deg,#84ff00 280deg,#78ff00 290deg,#6dff00 300deg,#a1ff00 310deg,#d6ff00 320deg,#ffea00 330deg,#ffa900 340deg,#ff6300 350deg,#ff1400 360deg)"></div><div style="left:-87.45px;top:-87.45px;width:174.9px;height:174.9px;background:conic-gradient(#ff0000 0deg,#ff2f00 10deg,#ff6000 20deg,#ff8f00 30deg,#ff8700 40deg,#ff8000 50deg,#ff7800 60deg,#ff6f00 70deg,#ff6700 80deg,#ff5f00 90deg,#ff4e00 100deg,#ff3d00 110deg,#ff2c00 120deg,#ff3800 130deg,#ff4300 140deg,#ff4f00 150deg,#ff7700 160deg,#ff9900 170deg,#ffba00 180deg,#ffed00 190deg,#ebff00 200deg,#cdff00 210deg,#acff00 220deg,#8cff00 230deg,#6dff00 240deg,#8cff00 250deg,#abff00 260deg,#9eff00 270deg,#91ff00 280deg,#88ff00 290deg,#7fff00 300deg,#b5ff00 310deg,#eaff00 320deg,#ffc900 330deg,#ff8d00 340deg,#ff4600 350deg,#ff0000 360deg)"></div><div style="left:-85.45px;top:-85.45px;width:170.9px;height:170.9px;background:conic-gradient(#ff0000 0deg,#ff1900 10deg,#ff4c00 20deg,#ff7f00 30deg,#ff7700 40deg,#ff6e00 50deg,#ff6600 60deg,#ff5f00 70deg,#ff5700 80deg,#ff5000 90deg,#ff4000 100deg,#ff3000 110deg,#ff2100 120deg,#ff2e00 130deg,#ff3a00 140deg,#ff4700 150deg,#ff7000 160deg,#ff9500 170deg,#ffb700 180deg,#ffe800 190deg,#f0ff00 200deg,#d3ff00 210deg,#b3ff00 220deg,#93ff00 230deg,#74ff00 240deg,#95ff00 250deg,#b8ff00 260deg,#abff00 270deg,#9eff00 280deg,#99ff00 290deg,#93ff00 300deg,#c8ff00 310deg,#feff00 320deg,#ffa700 330deg,#ff6c00 340deg,#ff2900 350deg,#ff0000 360deg)"></div><div style="left:-83.45px;top:-83.45px;width:166.9px;height:166.9px;background:conic-gradient(#ff0000 0deg,#ff0400 10deg,#ff3800 20deg,#ff6c00 30deg,#ff6400 40deg,#ff5c00 50deg,#ff5500 60deg,#ff4e00 70deg,#ff4700 80deg,#ff4100 90deg,#ff3200 100deg,#ff2400 110deg,#ff1500 120deg,#ff2300 130deg,#ff3100 140deg,#ff4000 150deg,#ff6a00 160deg,#ff9100 170deg,#ffb400 180deg,#ffe200 190deg,#f5ff00 200deg,#daff00 210deg,#baff00 220deg,#9aff00 230deg,#7bff00 240deg,#9fff00 250deg,#c4ff00 260deg,#b8ff00 270deg,#abff00 280deg,#a9ff00 290deg,#a6ff00 300deg,#dcff00 310deg,#ffdf00 320deg,#ff8500 330deg,#ff4a00 340deg,#ff0d00 350deg,#ff0000 360deg)"></div><div style="left:-81.45px;top:-81.45px;width:162.9px;height:162.9px;background:conic-gradient(#ff0000 0deg,#ff0000 10deg,#ff2300 20deg,#ff5900 30deg,#ff5100 40deg,#ff4a00 50deg,#ff4300 60deg,#ff3d00 70deg,#ff3700 80deg,#ff3100 90deg,#ff2400 100deg,#ff1700 110deg,#ff0a00 120deg,#ff1900 130deg,#ff2900 140deg,#ff3800 150deg,#ff6400 160deg,#ff8d00 170deg,#ffb100 180deg,#ffdc00 190deg,#faff00 200deg,#e0ff00 210deg,#c1ff00 220deg,#a2ff00 230deg,#82ff00 240deg,#a9ff00 250deg,#d0ff00 260deg,#c4ff00 270deg,#b9ff00 280deg,#b9ff00 290deg,#baff00 300deg,#f0ff00 310deg,#ffbe00 320deg,#ff5e00 330deg,#ff2700 340deg,#ff0000 350deg,#ff0000 360deg)"></div><div style="left:-79.45px;top:-79.45px;width:158.9px;height:158.9px;background:conic-gradient(#ff0000 0deg,#ff0000 10deg,#ff0f00 20deg,#ff4600 30deg,#ff3f00 40deg,#ff3800 50deg,#ff3200 60deg,#ff2c00 70deg,#ff2700 80deg,#ff2200 90deg,#ff1600 100deg,#ff0a00 110deg,#ff0000 120deg,#ff0f00 130deg,#ff2000 140deg,#ff3000 150deg,#ff5d00 160deg,#ff8900 170deg,#ffae00 180deg,#ffd700 190deg,#ffff00 200deg,#e6ff00 210deg,#c8ff00 220deg,#a9ff00 230deg,#8aff00 240deg,#b3ff00 250deg,#dcff00 260deg,#d1ff00 270deg,#c6ff00 280deg,#caff00 290deg,#ceff00 300deg,#fff700 310deg,#ff9c00 320deg,#ff3500 330deg,#ff0400 340deg,#ff0000 350deg,#ff0000 360deg)"></div><div style="left:-77.45px;top:-77.45px;width:154.9px;height:154.9px;background:conic-gradient(#ff0000 0deg,#ff0000 10deg,#ff0000 20deg,#ff3300 30deg,#ff2c00 40deg,#ff2600 50deg,#ff2000 60deg,#ff1c00 70deg,#ff1700 80deg,#ff1300 90deg,#ff0800 100deg,#ff0000 110deg,#ff0000 120deg,#ff0500 130deg,#ff1700 140deg,#ff2900 150deg,#ff5700 160deg,#ff8400 170deg,#ffab00 180deg,#ffd100 190deg,#fff700 200deg,#edff00 210deg,#ceff00 220deg,#b0ff00 230deg,#91ff00 240deg,#bdff00 250deg,#e8ff00 260deg,#deff00 270deg,#d3ff00 280deg,#daff00 290deg,#e1ff00 300deg,#ffd600 310deg,#ff7a00 320deg,#ff0c00 330deg,#ff0000 340deg,#ff0000 350deg,#ff0000 360deg)"></div><div style="left:-75.45px;top:-75.45px;width:150.9px;height:150.9px;background:conic-gradient(#ff0000 0deg,#ff0000 10deg,#ff0000 20deg,#ff1e00 30deg,#ff1900 40deg,#ff1300 50deg,#ff0e00 60deg,#ff0a00 70deg,#ff0600 80deg,#ff0200 90deg,#ff0000 100deg,#ff0000 110deg,#ff0000 120deg,#ff0000 130deg,#ff1000 140deg,#ff2400 150deg,#ff5200 160deg,#ff8100 170deg,#ffa800 180deg,#ffcb00 190deg,#ffef00 200deg,#f3ff00 210deg,#d6ff00 220deg,#b9ff00 230deg,#9cff00 240deg,#c8ff00 250deg,#f5ff00 260deg,#ebff00 270deg,#e1ff00 280deg,#eaff00 290deg,#f4ff00 300deg,#ffb700 310deg,#ff5500 320deg,#ff0000 330deg,#ff0000 340deg,#ff0000 350deg,#ff0000 360deg)"></div><div style="left:-73.45px;top:-73.45px;width:146.9px;height:146.9px;background:conic-gradient(#ff0000 0deg,#ff0000 10deg,#ff0000 20deg,#ff0000 30deg,#ff0000 40deg,#ff0000 50deg,#ff0000 60deg,#ff0000 70deg,#ff0000 80deg,#ff0000 90deg,#ff0000 100deg,#ff0000 110deg,#ff0000 120deg,#ff0100 130deg,#ff1800 140deg,#ff2f00 150deg,#ff5900 160deg,#ff8200 170deg,#ffa400 180deg,#ffc400 190deg,#ffe400 200deg,#fcff00 210deg,#e5ff00 220deg,#cdff00 230deg,#b6ff00 240deg,#ddff00 250deg,#fff500 260deg,#fcff00 270deg,#f4ff00 280deg,#f9ff00 290deg,#feff00 300deg,#ffa700 310deg,#ff4400 320deg,#ff0000 330deg,#ff0000 340deg,#ff0000 350deg,#ff0000 360deg)"></div><div style="left:-71.45px;top:-71.45px;width:142.9px;height:142.9px;background:conic-gradient(#ff0000 0deg,#ff0000 10deg,#ff0000 20deg,#ff0000 30deg,#ff0000 40deg,#ff0000 50deg,#ff0000 60deg,#ff0000 70deg,#ff0000 80deg,#ff0000 90deg,#ff0000 100deg,#ff0000 110deg,#ff0000 120deg,#ff0400 130deg,#ff1f00 140deg,#ff3b00 150deg,#ff5f00 160deg,#ff8300 170deg,#ffa100 180deg,#ffbd00 190deg,#ffd900 200deg,#fff500 210deg,#f3ff00 220deg,#e2ff00 230deg,#d0ff00 240deg,#f3ff00 250deg,#ffda00 260deg,#ffe600 270deg,#fff200 280deg,#fff000 290deg,#ffee00 300deg,#ff9700 310deg,#ff3200 320deg,#ff0000 330deg,#ff0000 340deg,#ff0000 350deg,#ff0000 360deg)"></div><div style="left:-69.45px;top:-69.45px;width:138.9px;height:138.9px;background:conic-gradient(#ff0000 0deg,#ff0000 10deg,#ff0000 20deg,#ff0000 30deg,#ff0000 40deg,#ff0000 50deg,#ff0000 60deg,#ff0000 70deg,#ff0000 80deg,#ff0000 90deg,#ff0000 100deg,#ff0000 110deg,#ff0000 120deg,#ff0800 130deg,#ff2700 140deg,#ff4600 150deg,#ff6500 160deg,#ff8400 170deg,#ff9e00 180deg,#ffb600 190deg,#ffcf00 200deg,#ffe700 210deg,#fffa00 220deg,#f6ff00 230deg,#ebff00 240deg,#fff000 250deg,#ffbf00 260deg,#ffc900 270deg,#ffd200 280deg,#ffd800 290deg,#ffdd00 300deg,#ff8700 310deg,#ff2100 320deg,#ff0000 330deg,#ff0000 340deg,#ff0000 350deg,#ff0000 360deg)"></div><div style="left:-67.45px;top:-67.45px;width:134.9px;height:134.9px;background:conic-gradient(#ff0000 0deg,#ff0000 10deg,#ff0000 20deg,#ff0000 30deg,#ff0000 40deg,#ff0000 50deg,#ff0000 60deg,#ff0000 70deg,#ff0000 80deg,#ff0000 90deg,#ff0000 100deg,#ff0000 110deg,#ff0000 120deg,#ff0c00 130deg,#ff2f00 140deg,#ff5100 150deg,#ff6c00 160deg,#ff8500 170deg,#ff9b00 180deg,#ffaf00 190deg,#ffc400 200deg,#ffd800 210deg,#ffe200 220deg,#ffeb00 230deg,#fff400 240deg,#ffcc00 250deg,#ffa400 260deg,#ffac00 270deg,#ffb300 280deg,#ffbf00 290deg,#ffcb00 300deg,#ff7500 310deg,#ff1000 320deg,#ff0000 330deg,#ff0000 340deg,#ff0000 350deg,#ff0000 360deg)"></div><div style="left:-65.45px;top:-65.45px;width:130.9px;height:130.9px;background:conic-gradient(#ff0000 0deg,#ff0000 10deg,#ff0000 20deg,#ff0000 30deg,#ff0000 40deg,#ff0000 50deg,#ff0000 60deg,#ff0000 70deg,#ff0000 80deg,#ff0000 90deg,#ff0000 100deg,#ff0000 110deg,#ff0000 120deg,#ff1000 130deg,#ff3600 140deg,#ff5d00 150deg,#ff7200 160deg,#ff8600 170deg,#ff9800 180deg,#ffa800 190deg,#ffb900 200deg,#ffca00 210deg,#ffc900 220deg,#ffc900 230deg,#ffc800 240deg,#ffa900 250deg,#ff8900 260deg,#ff8e00 270deg,#ff9300 280deg,#ffa700 290deg,#ffba00 300deg,#ff6200 310deg,#ff0000 320deg,#ff0000 330deg,#ff0000 340deg,#ff0000 350deg,#ff0000 360deg)"></div><div style="left:-63.45px;top:-63.45px;width:126.9px;height:126.9px;background:conic-gradient(#ff0000 0deg,#ff0000 10deg,#ff0000 20deg,#ff0000 30deg,#ff0000 40deg,#ff0000 50deg,#ff0000 60deg,#ff0000 70deg,#ff0000 80deg,#ff0000 90deg,#ff0000 100deg,#ff0000 110deg,#ff0000 120deg,#ff1400 130deg,#ff3e00 140deg,#ff6800 150deg,#ff7800 160deg,#ff8700 170deg,#ff9500 180deg,#ffa200 190deg,#ffae00 200deg,#ffbb00 210deg,#ffb100 220deg,#ffa700 230deg,#ff9c00 240deg,#ff8500 250deg,#ff6a00 260deg,#ff6e00 270deg,#ff7100 280deg,#ff8e00 290deg,#ffa800 300deg,#ff4f00 310deg,#ff0000 320deg,#ff0000 330deg,#ff0000 340deg,#ff0000 350deg,#ff0000 360deg)"></div><div style="left:-61.45px;top:-61.45px;width:122.9px;height:122.9px;background:conic-gradient(#ff0000 0deg,#ff0000 10deg,#ff0000 20deg,#ff0000 30deg,#ff0000 40deg,#ff0000 50deg,#ff0000 60deg,#ff0000 70deg,#ff0000 80deg,#ff0000 90deg,#ff0000 100deg,#ff0000 110deg,#ff0000 120deg,#ff1700 130deg,#ff4600 140deg,#ff7400 150deg,#ff7f00 160deg,#ff8800 170deg,#ff9200 180deg,#ff9b00 190deg,#ffa400 200deg,#ffad00 210deg,#ff9900 220deg,#ff8400 230deg,#ff6d00 240deg,#ff5b00 250deg,#ff4a00 260deg,#ff4a00 270deg,#ff4b00 280deg,#ff7300 290deg,#ff9600 300deg,#ff3c00 310deg,#ff0000 320deg,#ff0000 330deg,#ff0000 340deg,#ff0000 350deg,#ff0000 360deg)"></div><div style="left:-59.45px;top:-59.45px;width:118.9px;height:118.9px;background:conic-gradient(#ff0000 0deg,#ff0000 10deg,#ff0000 20deg,#ff0000 30deg,#ff0000 40deg,#ff0000 50deg,#ff0000 60deg,#ff0000 70deg,#ff0000 80deg,#ff0000 90deg,#ff0000 100deg,#ff0000 110deg,#ff0000 120deg,#ff1d00 130deg,#ff4b00 140deg,#ff7a00 150deg,#ff8400 160deg,#ff8c00 170deg,#ff9500 180deg,#ff9500 190deg,#ff9500 200deg,#ff9500 210deg,#ff7e00 220deg,#ff6200 230deg,#ff4700 240deg,#ff3c00 250deg,#ff3200 260deg,#ff3200 270deg,#ff3200 280deg,#ff5900 290deg,#ff8000 300deg,#ff2600 310deg,#ff0000 320deg,#ff0000 330deg,#ff0000 340deg,#ff0000 350deg,#ff0000 360deg)"></div><div style="left:-57.45px;top:-57.45px;width:114.9px;height:114.9px;background:conic-gradient(#ff0000 0deg,#ff0000 10deg,#ff0000 20deg,#ff0000 30deg,#ff0000 40deg,#ff0000 50deg,#ff0000 60deg,#ff0000 70deg,#ff0000 80deg,#ff0000 90deg,#ff0000 100deg,#ff0000 110deg,#ff0000 120deg,#ff2300 130deg,#ff5100 140deg,#ff7e00 150deg,#ff8800 160deg,#ff9100 170deg,#ff9b00 180deg,#ff9000 190deg,#ff8400 200deg,#ff7700 210deg,#ff5d00 220deg,#ff4300 230deg,#ff2800 240deg,#ff2400 250deg,#ff1f00 260deg,#ff1f00 270deg,#ff1f00 280deg,#ff4000 290deg,#ff6100 300deg,#ff0f00 310deg,#ff0000 320deg,#ff0000 330deg,#ff0000 340deg,#ff0000 350deg,#ff0000 360deg)"></div><div style="left:-55.45px;top:-55.45px;width:110.9px;height:110.9px;background:conic-gradient(#ff0000 0deg,#ff0000 10deg,#ff0000 20deg,#ff0000 30deg,#ff0000 40deg,#ff0000 50deg,#ff0000 60deg,#ff0000 70deg,#ff0000 80deg,#ff0000 90deg,#ff0000 100deg,#ff0000 110deg,#ff0000 120deg,#ff2a00 130deg,#ff5600 140deg,#ff8100 150deg,#ff8c00 160deg,#ff9700 170deg,#ffa100 180deg,#ff8a00 190deg,#ff7100 200deg,#ff5500 210deg,#ff3c00 220deg,#ff2300 230deg,#ff0a00 240deg,#ff0b00 250deg,#ff0c00 260deg,#ff0c00 270deg,#ff0c00 280deg,#ff2700 290deg,#ff4300 300deg,#ff0000 310deg,#ff0000 320deg,#ff0000 330deg,#ff0000 340deg,#ff0000 350deg,#ff0000 360deg)"></div><div style="left:-53.45px;top:-53.45px;width:106.9px;height:106.9px;background:conic-gradient(#ff0000 0deg,#ff0000 10deg,#ff0000 20deg,#ff0000 30deg,#ff0000 40deg,#ff0000 50deg,#ff0000 60deg,#ff0000 70deg,#ff0000 80deg,#ff0000 90deg,#ff0000 100deg,#ff0000 110deg,#ff0500 120deg,#ff3000 130deg,#ff5b00 140deg,#ff8400 150deg,#ff9000 160deg,#ff9c00 170deg,#ffa800 180deg,#ff8500 190deg,#ff5c00 200deg,#ff3300 210deg,#ff1b00 220deg,#ff0300 230deg,#ff0000 240deg,#ff0000 250deg,#ff0000 260deg,#ff0000 270deg,#ff0000 280deg,#ff0f00 290deg,#ff2400 300deg,#ff0000 310deg,#ff0000 320deg,#ff0000 330deg,#ff0000 340deg,#ff0000 350deg,#ff0000 360deg)"></div><div style="left:-51.45px;top:-51.45px;width:102.9px;height:102.9px;background:conic-gradient(#ff0000 0deg,#ff0000 10deg,#ff0000 20deg,#ff0000 30deg,#ff0000 40deg,#ff0000 50deg,#ff0000 60deg,#ff0000 70deg,#ff0000 80deg,#ff0000 90deg,#ff0000 100deg,#ff0000 110deg,#ff0d00 120deg,#ff3600 130deg,#ff6000 140deg,#ff8800 150deg,#ff9400 160deg,#ffa100 170deg,#ffae00 180deg,#ff8000 190deg,#ff4800 200deg,#ff1100 210deg,#ff0000 220deg,#ff0000 230deg,#ff0000 240deg,#ff0000 250deg,#ff0000 260deg,#ff0000 270deg,#ff0000 280deg,#ff0000 290deg,#ff0600 300deg,#ff0000 310deg,#ff0000 320deg,#ff0000 330deg,#ff0000 340deg,#ff0000 350deg,#ff0000 360deg)"></div><div style="left:-49.45px;top:-49.45px;width:98.9px;height:98.9px;background:conic-gradient(#ff0000 0deg,#ff0000 10deg,#ff0000 20deg,#ff0000 30deg,#ff0000 40deg,#ff0000 50deg,#ff0000 60deg,#ff0000 70deg,#ff0000 80deg,#ff0000 90deg,#ff0000 100deg,#ff0000 110deg,#ff1400 120deg,#ff3d00 130deg,#ff6500 140deg,#ff8b00 150deg,#ff9900 160deg,#ffa600 170deg,#ffb400 180deg,#ff7900 190deg,#ff3400 200deg,#ff0000 210deg,#ff0000 220deg,#ff0000 230deg,#ff0000 240deg,#ff0000 250deg,#ff0000 260deg,#ff0000 270deg,#ff0000 280deg,#ff0000 290deg,#ff0000 300deg,#ff0000 310deg,#ff0000 320deg,#ff0000 330deg,#ff0000 340deg,#ff0000 350deg,#ff0000 360deg)"></div><div style="left:-47.45px;top:-47.45px;width:94.9px;height:94.9px;background:conic-gradient(#ff0000 0deg,#ff0000 10deg,#ff0000 20deg,#ff0000 30deg,#ff0000 40deg,#ff0000 50deg,#ff0000 60deg,#ff0000 70deg,#ff0000 80deg,#ff0000 90deg,#ff0000 100deg,#ff0000 110deg,#ff1c00 120deg,#ff4300 130deg,#ff6a00 140deg,#ff8e00 150deg,#ff9d00 160deg,#ffac00 170deg,#ffba00 180deg,#ff7300 190deg,#ff2000 200deg,#ff0000 210deg,#ff0000 220deg,#ff0000 230deg,#ff0000 240deg,#ff0000 250deg,#ff0000 260deg,#ff0000 270deg,#ff0000 280deg,#ff0000 290deg,#ff0000 300deg,#ff0000 310deg,#ff0000 320deg,#ff0000 330deg,#ff0000 340deg,#ff0000 350deg,#ff0000 360deg)"></div><div style="left:-45.45px;top:-45.45px;width:90.9px;height:90.9px;background:conic-gradient(#ff0000 0deg,#ff0000 10deg,#ff0000 20deg,#ff0000 30deg,#ff0000 40deg,#ff0000 50deg,#ff0000 60deg,#ff0000 70deg,#ff0000 80deg,#ff0000 90deg,#ff0000 100deg,#ff0000 110deg,#ff1b00 120deg,#ff4000 130deg,#ff6500 140deg,#ff8800 150deg,#ff9700 160deg,#ffa700 170deg,#ffb600 180deg,#ff6500 190deg,#ff0800 200deg,#ff0000 210deg,#ff0000 220deg,#ff0000 230deg,#ff0000 240deg,#ff0000 250deg,#ff0000 260deg,#ff0000 270deg,#ff0000 280deg,#ff0000 290deg,#ff0000 300deg,#ff0000 310deg,#ff0000 320deg,#ff0000 330deg,#ff0000 340deg,#ff0000 350deg,#ff0000 360deg)"></div><div style="left:-43.45px;top:-43.45px;width:86.9px;height:86.9px;background:conic-gradient(#ff0000 0deg,#ff0000 10deg,#ff0000 20deg,#ff0000 30deg,#ff0000 40deg,#ff0000 50deg,#ff0000 60deg,#ff0000 70deg,#ff0000 80deg,#ff0000 90deg,#ff0000 100deg,#ff0000 110deg,#ff0000 120deg,#ff1500 130deg,#ff3400 140deg,#ff5400 150deg,#ff6400 160deg,#ff7400 170deg,#ff8300 180deg,#ff3400 190deg,#ff0000 200deg,#ff0000 210deg,#ff0000 220deg,#ff0000 230deg,#ff0000 240deg,#ff0000 250deg,#ff0000 260deg,#ff0000 270deg,#ff0000 280deg,#ff0000 290deg,#ff0000 300deg,#ff0000 310deg,#ff0000 320deg,#ff0000 330deg,#ff0000 340deg,#ff0000 350deg,#ff0000 360deg)"></div><div style="left:-41.45px;top:-41.45px;width:82.9px;height:82.9px;background:conic-gradient(#ff0000 0deg,#ff0000 10deg,#ff0000 20deg,#ff0000 30deg,#ff0000 40deg,#ff0000 50deg,#ff0000 60deg,#ff0000 70deg,#ff0000 80deg,#ff0000 90deg,#ff0000 100deg,#ff0000 110deg,#ff0000 120deg,#ff0000 130deg,#ff0400 140deg,#ff1f00 150deg,#ff2c00 160deg,#ff3a00 170deg,#ff4700 180deg,#ff0400 190deg,#ff0000 200deg,#ff0000 210deg,#ff0000 220deg,#ff0000 230deg,#ff0000 240deg,#ff0000 250deg,#ff0000 260deg,#ff0000 270deg,#ff0000 280deg,#ff0000 290deg,#ff0000 300deg,#ff0000 310deg,#ff0000 320deg,#ff0000 330deg,#ff0000 340deg,#ff0000 350deg,#ff0000 360deg)"></div><div style="left:-39.45px;top:-39.45px;width:78.9px;height:78.9px;background:conic-gradient(#ff0000 0deg,#ff0000 10deg,#ff0000 20deg,#ff0000 30deg,#ff0000 40deg,#ff0000 50deg,#ff0000 60deg,#ff0000 70deg,#ff0000 80deg,#ff0000 90deg,#ff0000 100deg,#ff0000 110deg,#ff0000 120deg,#ff0000 130deg,#ff0000 140deg,#ff0000 150deg,#ff0000 160deg,#ff0000 170deg,#ff0a00 180deg,#ff0000 190deg,#ff0000 200deg,#ff0000 210deg,#ff0000 220deg,#ff0000 230deg,#ff0000 240deg,#ff0000 250deg,#ff0000 260deg,#ff0000 270deg,#ff0000 280deg,#ff0000 290deg,#ff0000 300deg,#ff0000 310deg,#ff0000 320deg,#ff0000 330deg,#ff0000 340deg,#ff0000 350deg,#ff0000 360deg)"></div><div style="left:-37.45px;top:-37.45px;width:74.9px;height:74.9px;background:conic-gradient(#ff0000 0deg,#ff0000 10deg,#ff0000 20deg,#ff0000 30deg,#ff0000 40deg,#ff0000 50deg,#ff0000 60deg,#ff0000 70deg,#ff0000 80deg,#ff0000 90deg,#ff0000 100deg,#ff0000 110deg,#ff0000 120deg,#ff0000 130deg,#ff0000 140deg,#ff0000 150deg,#ff0000 160deg,#ff0000 170deg,#ff0000 180deg,#ff0000 190deg,#ff0000 200deg,#ff0000 210deg,#ff0000 220deg,#ff0000 230deg,#ff0000 240deg,#ff0000 250deg,#ff0000 260deg,#ff0000 270deg,#ff0000 280deg,#ff0000 290deg,#ff0000 300deg,#ff0000 310deg,#ff0000 320deg,#ff0000 330deg,#ff0000 340deg,#ff0000 350deg,#ff0000 360deg)"></div><div style="left:-35.45px;top:-35.45px;width:70.9px;height:70.9px;background:conic-gradient(#ff0000 0deg,#ff0000 10deg,#ff0000 20deg,#ff0000 30deg,#ff0000 40deg,#ff0000 50deg,#ff0000 60deg,#ff0000 70deg,#ff0000 80deg,#ff0000 90deg,#ff0000 100deg,#ff0000 110deg,#ff0000 120deg,#ff0000 130deg,#ff0000 140deg,#ff0000 150deg,#ff0000 160deg,#ff0000 170deg,#ff0000 180deg,#ff0000 190deg,#ff0000 200deg,#ff0000 210deg,#ff0000 220deg,#ff0000 230deg,#ff0000 240deg,#ff0000 250deg,#ff0000 260deg,#ff0000 270deg,#ff0000 280deg,#ff0000 290deg,#ff0000 300deg,#ff0000 310deg,#ff0000 320deg,#ff0000 330deg,#ff0000 340deg,#ff0000 350deg,#ff0000 360deg)"></div><div style="left:-33.45px;top:-33.45px;width:66.9px;height:66.9px;background:conic-gradient(#ff0000 0deg,#ff0000 10deg,#ff0000 20deg,#ff0000 30deg,#ff0000 40deg,#ff0000 50deg,#ff0000 60deg,#ff0000 70deg,#ff0000 80deg,#ff0000 90deg,#ff0000 100deg,#ff0000 110deg,#ff0000 120deg,#ff0000 130deg,#ff0000 140deg,#ff0000 150deg,#ff0000 160deg,#ff0000 170deg,#ff0000 180deg,#ff0000 190deg,#ff0000 200deg,#ff0000 210deg,#ff0000 220deg,#ff0000 230deg,#ff0000 240deg,#ff0000 250deg,#ff0000 260deg,#ff0000 270deg,#ff0000 280deg,#ff0000 290deg,#ff0000 300deg,#ff0000 310deg,#ff0000 320deg,#ff0000 330deg,#ff0000 340deg,#ff0000 350deg,#ff0000 360deg)"></div><div style="left:-31.45px;top:-31.45px;width:62.9px;height:62.9px;background:conic-gradient(#ff0000 0deg,#ff0000 10deg,#ff0000 20deg,#ff0000 30deg,#ff0000 40deg,#ff0000 50deg,#ff0000 60deg,#ff0000 70deg,#ff0000 80deg,#ff0000 90deg,#ff0000 100deg,#ff0000 110deg,#ff0000 120deg,#ff0000 130deg,#ff0000 140deg,#ff0000 150deg,#ff0000 160deg,#ff0000 170deg,#ff0000 180deg,#ff0000 190deg,#ff0000 200deg,#ff0000 210deg,#ff0000 220deg,#ff0000 230deg,#ff0000 240deg,#ff0000 250deg,#ff0000 260deg,#ff0000 270deg,#ff0000 280deg,#ff0000 290deg,#ff0000 300deg,#ff0000 310deg,#ff0000 320deg,#ff0000 330deg,#ff0000 340deg,#ff0000 350deg,#ff0000 360deg)"></div><div style="left:-29.45px;top:-29.45px;width:58.9px;height:58.9px;background:conic-gradient(#ff0000 0deg,#ff0000 10deg,#ff0000 20deg,#ff0000 30deg,#ff0000 40deg,#ff0000 50deg,#ff0000 60deg,#ff0000 70deg,#ff0000 80deg,#ff0000 90deg,#ff0000 100deg,#ff0000 110deg,#ff0000 120deg,#ff0000 130deg,#ff0000 140deg,#ff0000 150deg,#ff0000 160deg,#ff0000 170deg,#ff0000 180deg,#ff0000 190deg,#ff0000 200deg,#ff0000 210deg,#ff0000 220deg,#ff0000 230deg,#ff0000 240deg,#ff0000 250deg,#ff0000 260deg,#ff0000 270deg,#ff0000 280deg,#ff0000 290deg,#ff0000 300deg,#ff0000 310deg,#ff0000 320deg,#ff0000 330deg,#ff0000 340deg,#ff0000 350deg,#ff0000 360deg)"></div><div style="left:-27.45px;top:-27.45px;width:54.9px;height:54.9px;background:conic-gradient(#ff0000 0deg,#ff0000 10deg,#ff0000 20deg,#ff0000 30deg,#ff0000 40deg,#ff0000 50deg,#ff0000 60deg,#ff0000 70deg,#ff0000 80deg,#ff0000 90deg,#ff0000 100deg,#ff0000 110deg,#ff0000 120deg,#ff0000 130deg,#ff0000 140deg,#ff0000 150deg,#ff0000 160deg,#ff0000 170deg,#ff0000 180deg,#ff0000 190deg,#ff0000 200deg,#ff0000 210deg,#ff0000 220deg,#ff0000 230deg,#ff0000 240deg,#ff0000 250deg,#ff0000 260deg,#ff0000 270deg,#ff0000 280deg,#ff0000 290deg,#ff0000 300deg,#ff0000 310deg,#ff0000 320deg,#ff0000 330deg,#ff0000 340deg,#ff0000 350deg,#ff0000 360deg)"></div><div style="left:-25.45px;top:-25.45px;width:50.9px;height:50.9px;background:conic-gradient(#ff0000 0deg,#ff0000 10deg,#ff0000 20deg,#ff0000 30deg,#ff0000 40deg,#ff0000 50deg,#ff0000 60deg,#ff0000 70deg,#ff0000 80deg,#ff0000 90deg,#ff0000 100deg,#ff0000 110deg,#ff0000 120deg,#ff0000 130deg,#ff0000 140deg,#ff0000 150deg,#ff0000 160deg,#ff0000 170deg,#ff0000 180deg,#ff0000 190deg,#ff0000 200deg,#ff0000 210deg,#ff0000 220deg,#ff0000 230deg,#ff0000 240deg,#ff0000 250deg,#ff0000 260deg,#ff0000 270deg,#ff0000 280deg,#ff0000 290deg,#ff0000 300deg,#ff0000 310deg,#ff0000 320deg,#ff0000 330deg,#ff0000 340deg,#ff0000 350deg,#ff0000 360deg)"></div><div style="left:-23.45px;top:-23.45px;width:46.9px;height:46.9px;background:conic-gradient(#ff0000 0deg,#ff0000 10deg,#ff0000 20deg,#ff0000 30deg,#ff0000 40deg,#ff0000 50deg,#ff0000 60deg,#ff0000 70deg,#ff0000 80deg,#ff0000 90deg,#ff0000 100deg,#ff0000 110deg,#ff0000 120deg,#ff0000 130deg,#ff0000 140deg,#ff0000 150deg,#ff0000 160deg,#ff0000 170deg,#ff0000 180deg,#ff0000 190deg,#ff0000 200deg,#ff0000 210deg,#ff0000 220deg,#ff0000 230deg,#ff0000 240deg,#ff0000 250deg,#ff0000 260deg,#ff0000 270deg,#ff0000 280deg,#ff0000 290deg,#ff0000 300deg,#ff0000 310deg,#ff0000 320deg,#ff0000 330deg,#ff0000 340deg,#ff0000 350deg,#ff0000 360deg)"></div><div style="left:-21.45px;top:-21.45px;width:42.9px;height:42.9px;background:conic-gradient(#ff0000 0deg,#ff0000 10deg,#ff0000 20deg,#ff0000 30deg,#ff0000 40deg,#ff0000 50deg,#ff0000 60deg,#ff0000 70deg,#ff0000 80deg,#ff0000 90deg,#ff0000 100deg,#ff0000 110deg,#ff0000 120deg,#ff0000 130deg,#ff0000 140deg,#ff0000 150deg,#ff0000 160deg,#ff0000 170deg,#ff0000 180deg,#ff0000 190deg,#ff0000 200deg,#ff0000 210deg,#ff0000 220deg,#ff0000 230deg,#ff0000 240deg,#ff0000 250deg,#ff0000 260deg,#ff0000 270deg,#ff0000 280deg,#ff0000 290deg,#ff0000 300deg,#ff0000 310deg,#ff0000 320deg,#ff0000 330deg,#ff0000 340deg,#ff0000 350deg,#ff0000 360deg)"></div><div style="left:-19.45px;top:-19.45px;width:38.9px;height:38.9px;background:conic-gradient(#ff0000 0deg,#ff0000 10deg,#ff0000 20deg,#ff0000 30deg,#ff0000 40deg,#ff0000 50deg,#ff0000 60deg,#ff0000 70deg,#ff0000 80deg,#ff0000 90deg,#ff0000 100deg,#ff0000 110deg,#ff0000 120deg,#ff0000 130deg,#ff0000 140deg,#ff0000 150deg,#ff0000 160deg,#ff0000 170deg,#ff0000 180deg,#ff0000 190deg,#ff0000 200deg,#ff0000 210deg,#ff0000 220deg,#ff0000 230deg,#ff0000 240deg,#ff0000 250deg,#ff0000 260deg,#ff0000 270deg,#ff0000 280deg,#ff0000 290deg,#ff0000 300deg,#ff0000 310deg,#ff0000 320deg,#ff0000 330deg,#ff0000 340deg,#ff0000 350deg,#ff0000 360deg)"></div><div style="left:-17.45px;top:-17.45px;width:34.9px;height:34.9px;background:conic-gradient(#ff0000 0deg,#ff0000 10deg,#ff0000 20deg,#ff0000 30deg,#ff0000 40deg,#ff0000 50deg,#ff0000 60deg,#ff0000 70deg,#ff0000 80deg,#ff0000 90deg,#ff0000 100deg,#ff0000 110deg,#ff0000 120deg,#ff0000 130deg,#ff0000 140deg,#ff0000 150deg,#ff0000 160deg,#ff0000 170deg,#ff0000 180deg,#ff0000 190deg,#ff0000 200deg,#ff0000 210deg,#ff0000 220deg,#ff0000 230deg,#ff0000 240deg,#ff0000 250deg,#ff0000 260deg,#ff0000 270deg,#ff0000 280deg,#ff0000 290deg,#ff0000 300deg,#ff0000 310deg,#ff0000 320deg,#ff0000 330deg,#ff0000 340deg,#ff0000 350deg,#ff0000 360deg)"></div><div style="left:-15.45px;top:-15.45px;width:30.9px;height:30.9px;background:conic-gradient(#ff0000 0deg,#ff0000 10deg,#ff0000 20deg,#ff0000 30deg,#ff0000 40deg,#ff0000 50deg,#ff0000 60deg,#ff0000 70deg,#ff0000 80deg,#ff0000 90deg,#ff0000 100deg,#ff0000 110deg,#ff0000 120deg,#ff0000 130deg,#ff0000 140deg,#ff0000 150deg,#ff0000 160deg,#ff0000 170deg,#ff0000 180deg,#ff0000 190deg,#ff0000 200deg,#ff0000 210deg,#ff0000 220deg,#ff0000 230deg,#ff0000 240deg,#ff0000 250deg,#ff0000 260deg,#ff0000 270deg,#ff0000 280deg,#ff0000 290deg,#ff0000 300deg,#ff0000 310deg,#ff0000 320deg,#ff0000 330deg,#ff0000 340deg,#ff0000 350deg,#ff0000 360deg)"></div><div style="left:-13.45px;top:-13.45px;width:26.9px;height:26.9px;background:conic-gradient(#ff0000 0deg,#ff0000 10deg,#ff0000 20deg,#ff0000 30deg,#ff0000 40deg,#ff0000 50deg,#ff0000 60deg,#ff0000 70deg,#ff0000 80deg,#ff0000 90deg,#ff0000 100deg,#ff0000 110deg,#ff0000 120deg,#ff0000 130deg,#ff0000 140deg,#ff0000 150deg,#ff0000 160deg,#ff0000 170deg,#ff0000 180deg,#ff0000 190deg,#ff0000 200deg,#ff0000 210deg,#ff0000 220deg,#ff0000 230deg,#ff0000 240deg,#ff0000 250deg,#ff0000 260deg,#ff0000 270deg,#ff0000 280deg,#ff0000 290deg,#ff0000 300deg,#ff0000 310deg,#ff0000 320deg,#ff0000 330deg,#ff0000 340deg,#ff0000 350deg,#ff0000 360deg)"></div><div style="left:-11.45px;top:-11.45px;width:22.9px;height:22.9px;background:conic-gradient(#ff0000 0deg,#ff0000 10deg,#ff0000 20deg,#ff0000 30deg,#ff0000 40deg,#ff0000 50deg,#ff0000 60deg,#ff0000 70deg,#ff0000 80deg,#ff0000 90deg,#ff0000 100deg,#ff0000 110deg,#ff0000 120deg,#ff0000 130deg,#ff0000 140deg,#ff0000 150deg,#ff0000 160deg,#ff0000 170deg,#ff0000 180deg,#ff0000 190deg,#ff0000 200deg,#ff0000 210deg,#ff0000 220deg,#ff0000 230deg,#ff0000 240deg,#ff0000 250deg,#ff0000 260deg,#ff0000 270deg,#ff0000 280deg,#ff0000 290deg,#ff0000 300deg,#ff0000 310deg,#ff0000 320deg,#ff0000 330deg,#ff0000 340deg,#ff0000 350deg,#ff0000 360deg)"></div><div style="left:-9.45px;top:-9.45px;width:18.9px;height:18.9px;background:conic-gradient(#ff0000 0deg,#ff0000 10deg,#ff0000 20deg,#ff0000 30deg,#ff0000 40deg,#ff0000 50deg,#ff0000 60deg,#ff0000 70deg,#ff0000 80deg,#ff0000 90deg,#ff0000 100deg,#ff0000 110deg,#ff0000 120deg,#ff0000 130deg,#ff0000 140deg,#ff0000 150deg,#ff0000 160deg,#ff0000 170deg,#ff0000 180deg,#ff0000 190deg,#ff0000 200deg,#ff0000 210deg,#ff0000 220deg,#ff0000 230deg,#ff0000 240deg,#ff0000 250deg,#ff0000 260deg,#ff0000 270deg,#ff0000 280deg,#ff0000 290deg,#ff0000 300deg,#ff0000 310deg,#ff0000 320deg,#ff0000 330deg,#ff0000 340deg,#ff0000 350deg,#ff0000 360deg)"></div><div style="left:-7.45px;top:-7.45px;width:14.9px;height:14.9px;background:conic-gradient(#ff0000 0deg,#ff0000 10deg,#ff0000 20deg,#ff0000 30deg,#ff0000 40deg,#ff0000 50deg,#ff0000 60deg,#ff0000 70deg,#ff0000 80deg,#ff0000 90deg,#ff0000 100deg,#ff0000 110deg,#ff0000 120deg,#ff0000 130deg,#ff0000 140deg,#ff0000 150deg,#ff0000 160deg,#ff0000 170deg,#ff0000 180deg,#ff0000 190deg,#ff0000 200deg,#ff0000 210deg,#ff0000 220deg,#ff0000 230deg,#ff0000 240deg,#ff0000 250deg,#ff0000 260deg,#ff0000 270deg,#ff0000 280deg,#ff0000 290deg,#ff0000 300deg,#ff0000 310deg,#ff0000 320deg,#ff0000 330deg,#ff0000 340deg,#ff0000 350deg,#ff0000 360deg)"></div><div style="left:-5.45px;top:-5.45px;width:10.9px;height:10.9px;background:conic-gradient(#ff0000 0deg,#ff0000 10deg,#ff0000 20deg,#ff0000 30deg,#ff0000 40deg,#ff0000 50deg,#ff0000 60deg,#ff0000 70deg,#ff0000 80deg,#ff0000 90deg,#ff0000 100deg,#ff0000 110deg,#ff0000 120deg,#ff0000 130deg,#ff0000 140deg,#ff0000 150deg,#ff0000 160deg,#ff0000 170deg,#ff0000 180deg,#ff0000 190deg,#ff0000 200deg,#ff0000 210deg,#ff0000 220deg,#ff0000 230deg,#ff0000 240deg,#ff0000 250deg,#ff0000 260deg,#ff0000 270deg,#ff0000 280deg,#ff0000 290deg,#ff0000 300deg,#ff0000 310deg,#ff0000 320deg,#ff0000 330deg,#ff0000 340deg,#ff0000 350deg,#ff0000 360deg)"></div><div style="left:-3.45px;top:-3.45px;width:6.9px;height:6.9px;background:conic-gradient(#ff0000 0deg,#ff0000 10deg,#ff0000 20deg,#ff0000 30deg,#ff0000 40deg,#ff0000 50deg,#ff0000 60deg,#ff0000 70deg,#ff0000 80deg,#ff0000 90deg,#ff0000 100deg,#ff0000 110deg,#ff0000 120deg,#ff0000 130deg,#ff0000 140deg,#ff0000 150deg,#ff0000 160deg,#ff0000 170deg,#ff0000 180deg,#ff0000 190deg,#ff0000 200deg,#ff0000 210deg,#ff0000 220deg,#ff0000 230deg,#ff0000 240deg,#ff0000 250deg,#ff0000 260deg,#ff0000 270deg,#ff0000 280deg,#ff0000 290deg,#ff0000 300deg,#ff0000 310deg,#ff0000 320deg,#ff0000 330deg,#ff0000 340deg,#ff0000 350deg,#ff0000 360deg)"></div><div style="left:-1.45px;top:-1.45px;width:2.9px;height:2.9px;background:conic-gradient(#ff0000 0deg,#ff0000 10deg,#ff0000 20deg,#ff0000 30deg,#ff0000 40deg,#ff0000 50deg,#ff0000 60deg,#ff0000 70deg,#ff0000 80deg,#ff0000 90deg,#ff0000 100deg,#ff0000 110deg,#ff0000 120deg,#ff0000 130deg,#ff0000 140deg,#ff0000 150deg,#ff0000 160deg,#ff0000 170deg,#ff0000 180deg,#ff0000 190deg,#ff0000 200deg,#ff0000 210deg,#ff0000 220deg,#ff0000 230deg,#ff0000 240deg,#ff0000 250deg,#ff0000 260deg,#ff0000 270deg,#ff0000 280deg,#ff0000 290deg,#ff0000 300deg,#ff0000 310deg,#ff0000 320deg,#ff0000 330deg,#ff0000 340deg,#ff0000 350deg,#ff0000 360deg)"></div><div style="left:-60px;top:-60px;width:120px;height:120px;border-radius:0;background:conic-gradient(rgba(255,0,0,0) 0deg,rgba(255,0,0,0) 125deg,rgba(255,90,0,.55) 143deg,rgba(255,190,0,.9) 162deg,#ffff00 176deg,#ffff00 180deg,rgba(255,120,0,.5) 186deg,rgba(255,0,0,0) 198deg,rgba(255,0,0,0) 360deg);-webkit-mask-image:radial-gradient(circle closest-side,#000 62%,rgba(0,0,0,0) 100%);mask-image:radial-gradient(circle closest-side,#000 62%,rgba(0,0,0,0) 100%)"></div></div></div></div>
<svg width="1359" height="2480" viewBox="0 0 1359 2480">
<defs><clipPath id="cpA"><circle r="148.6"/></clipPath><filter id="fbA" x="-20%" y="-20%" width="140%" height="140%"><feGaussianBlur stdDeviation="5"/></filter><linearGradient id="cbA" x1="0" y1="1" x2="0" y2="0"><stop offset="0" stop-color="#0000ff"/><stop offset="0.03" stop-color="#0014ff"/><stop offset="0.25" stop-color="#0080ff"/><stop offset="0.36" stop-color="#00ffff"/><stop offset="0.45" stop-color="#00ff80"/><stop offset="0.56" stop-color="#00ff00"/><stop offset="0.67" stop-color="#80ff00"/><stop offset="0.77" stop-color="#ffff00"/><stop offset="0.83" stop-color="#ff8000"/><stop offset="0.88" stop-color="#ff0000"/><stop offset="1" stop-color="#ff0000"/></linearGradient><clipPath id="cpB"><circle r="148.4"/></clipPath><filter id="fbB" x="-20%" y="-20%" width="140%" height="140%"><feGaussianBlur stdDeviation="5"/></filter><linearGradient id="cbB" x1="0" y1="1" x2="0" y2="0"><stop offset="0" stop-color="#0000ff"/><stop offset="0.03" stop-color="#0014ff"/><stop offset="0.25" stop-color="#0080ff"/><stop offset="0.36" stop-color="#00ffff"/><stop offset="0.45" stop-color="#00ff80"/><stop offset="0.56" stop-color="#00ff00"/><stop offset="0.67" stop-color="#80ff00"/><stop offset="0.77" stop-color="#ffff00"/><stop offset="0.83" stop-color="#ff8000"/><stop offset="0.88" stop-color="#ff0000"/><stop offset="1" stop-color="#ff0000"/></linearGradient><clipPath id="cpC"><circle r="149.45"/></clipPath><filter id="fbC" x="-20%" y="-20%" width="140%" height="140%"><feGaussianBlur stdDeviation="5"/></filter><linearGradient id="cbC" x1="0" y1="1" x2="0" y2="0"><stop offset="0" stop-color="#0000ff"/><stop offset="0.03" stop-color="#0014ff"/><stop offset="0.25" stop-color="#0080ff"/><stop offset="0.36" stop-color="#00ffff"/><stop offset="0.45" stop-color="#00ff80"/><stop offset="0.56" stop-color="#00ff00"/><stop offset="0.67" stop-color="#80ff00"/><stop offset="0.77" stop-color="#ffff00"/><stop offset="0.83" stop-color="#ff8000"/><stop offset="0.88" stop-color="#ff0000"/><stop offset="1" stop-color="#ff0000"/></linearGradient></defs>
<rect x="2" y="817" width="1355" height="2" fill="#3a3d40"/>
<rect x="1353" y="1648" width="3" height="830" fill="#0e141b"/>
<rect x="2" y="1648" width="2" height="11" fill="#1c3046"/>
<text class="let" transform="translate(15.5 42.2)">A</text>
<line x1="81.5" y1="31" x2="81.5" y2="343" stroke="#e2e2e2" stroke-width="1.6"/>
<line x1="80.7" y1="342.5" x2="655.1" y2="342.5" stroke="#e2e2e2" stroke-width="1.6"/>
<line x1="77.5" y1="31" x2="81.5" y2="31" stroke="#e2e2e2" stroke-width="1.4"/>
<line x1="77.5" y1="342.5" x2="81.5" y2="342.5" stroke="#e2e2e2" stroke-width="1.4"/>
<text class="tk" transform="translate(76 35.5)" text-anchor="end">129</text>
<text class="tk" transform="translate(76 346.5)" text-anchor="end">0</text>
<line x1="81.5" y1="342.5" x2="81.5" y2="346.7" stroke="#e2e2e2" stroke-width="1.4"/>
<text class="tk" transform="translate(81.5 358.7)" text-anchor="middle">-30</text>
<line x1="153.1" y1="342.5" x2="153.1" y2="346.7" stroke="#e2e2e2" stroke-width="1.4"/>
<text class="tk" transform="translate(153.1 358.7)" text-anchor="middle">-25</text>
<line x1="224.7" y1="342.5" x2="224.7" y2="346.7" stroke="#e2e2e2" stroke-width="1.4"/>
<text class="tk" transform="translate(224.7 358.7)" text-anchor="middle">-20</text>
<line x1="296.3" y1="342.5" x2="296.3" y2="346.7" stroke="#e2e2e2" stroke-width="1.4"/>
<text class="tk" transform="translate(296.3 358.7)" text-anchor="middle">-15</text>
<line x1="367.9" y1="342.5" x2="367.9" y2="346.7" stroke="#e2e2e2" stroke-width="1.4"/>
<text class="tk" transform="translate(367.9 358.7)" text-anchor="middle">-10</text>
<line x1="439.5" y1="342.5" x2="439.5" y2="346.7" stroke="#e2e2e2" stroke-width="1.4"/>
<text class="tk" transform="translate(439.5 358.7)" text-anchor="middle">-5</text>
<line x1="511.1" y1="342.5" x2="511.1" y2="346.7" stroke="#e2e2e2" stroke-width="1.4"/>
<text class="tk" transform="translate(511.1 358.7)" text-anchor="middle">0</text>
<line x1="582.7" y1="342.5" x2="582.7" y2="346.7" stroke="#e2e2e2" stroke-width="1.4"/>
<text class="tk" transform="translate(582.7 358.7)" text-anchor="middle">5</text>
<line x1="654.3" y1="342.5" x2="654.3" y2="346.7" stroke="#e2e2e2" stroke-width="1.4"/>
<text class="tk" transform="translate(654.3 358.7)" text-anchor="middle">10</text>
<text class="at" transform="translate(369 375.9)" text-anchor="middle">Strain(%)</text>
<text class="at" transform="translate(48.9 186.75) rotate(-90)" text-anchor="middle">LVP (mmHg)</text>
<path d="M265 37.8C265.82 33.33 267.77 33.18 269.6 32.1C271.43 31.02 273.3 31.37 276 31.3C278.7 31.23 282.55 31.22 285.8 31.7C289.05 32.18 289.83 31.97 295.5 34.2C301.17 36.43 310.37 40.72 319.8 45.1C329.23 49.48 341.32 55.23 352.1 60.5C362.88 65.77 375.05 71.98 384.5 76.7C393.95 81.42 402.05 84.75 408.8 88.8C415.55 92.85 419.07 96.28 425 101C430.93 105.72 438.73 111.17 444.4 117.1C450.07 123.03 455.23 129.6 459 136.6C462.77 143.6 465.03 153.27 467 159.1C468.97 164.93 469.68 166.82 470.8 171.6C471.92 176.38 472.73 182.22 473.7 187.8C474.67 193.38 475.73 199.52 476.6 205.1C477.47 210.68 478.18 215.4 478.9 221.3C479.62 227.2 480.17 234.12 480.9 240.5C481.63 246.88 482.58 254.33 483.3 259.6C484.02 264.87 484.42 268.58 485.2 272.1C485.98 275.62 486.88 277.75 488 280.7C489.12 283.65 490.62 288.13 491.9 289.8C493.18 291.47 492.68 290.07 495.7 290.7C498.72 291.33 506.73 292.97 510 293.6C513.27 294.23 514.82 294.02 515.3 294.5C515.78 294.98 516.97 296.1 512.9 296.5C508.83 296.9 496.95 296.67 490.9 296.9C484.85 297.13 481.38 297.5 476.6 297.9C471.82 298.3 467 298.75 462.2 299.3C457.4 299.85 452.58 300.63 447.8 301.2C443.02 301.77 437.48 302.22 433.5 302.7C429.52 303.18 426.93 303.47 423.9 304.1C420.87 304.73 417.15 305.77 415.3 306.5C413.45 307.23 413.42 307.32 412.8 308.5C412.18 309.68 412.4 312.35 411.6 313.6C410.8 314.85 409.93 315.17 408 316C406.07 316.83 402.15 318.05 400 318.6C397.85 319.15 398.67 319.18 395.1 319.3C391.53 319.42 384.28 319.65 378.6 319.3C372.92 318.95 367.87 318.43 361 317.2C354.13 315.97 344.67 313.87 337.4 311.9C330.13 309.93 322.7 307.67 317.4 305.4C312.1 303.13 309.13 300.55 305.6 298.3C302.07 296.05 299.13 294.83 296.2 291.9C293.27 288.97 290.45 284.13 288 280.7C285.55 277.27 283.47 275.42 281.5 271.3C279.53 267.18 277.77 260.52 276.2 256C274.63 251.48 273.28 249.7 272.1 244.2C270.92 238.7 269.98 229.87 269.1 223C268.22 216.13 267.48 210.27 266.8 203C266.12 195.73 265.4 188.23 265 179.4C264.6 170.57 264.72 162.53 264.4 150C264.08 137.47 263.05 119.38 263.1 104.2C263.15 89.02 264.38 69.97 264.7 58.9C265.02 47.83 264.18 42.27 265 37.8Z" fill="none" stroke="#ff0a0a" stroke-width="2" stroke-linejoin="round"/>
<line x1="69" y1="449.5" x2="69" y2="746" stroke="#b4b4b4" stroke-width="1.8"/>
<line x1="68.1" y1="742" x2="665.4" y2="742" stroke="#cfcfcf" stroke-width="1.8"/>
<line x1="64.5" y1="742" x2="69" y2="742" stroke="#b4b4b4" stroke-width="1.5"/>
<text class="tk" transform="translate(63.2 746.5)" text-anchor="end">0</text>
<line x1="64.5" y1="668.88" x2="69" y2="668.88" stroke="#b4b4b4" stroke-width="1.5"/>
<text class="tk" transform="translate(63.2 673.38)" text-anchor="end">1000</text>
<line x1="64.5" y1="595.75" x2="69" y2="595.75" stroke="#b4b4b4" stroke-width="1.5"/>
<text class="tk" transform="translate(63.2 600.25)" text-anchor="end">2000</text>
<line x1="64.5" y1="522.62" x2="69" y2="522.62" stroke="#b4b4b4" stroke-width="1.5"/>
<text class="tk" transform="translate(63.2 527.12)" text-anchor="end">3000</text>
<line x1="64.5" y1="449.5" x2="69" y2="449.5" stroke="#b4b4b4" stroke-width="1.5"/>
<text class="tk" transform="translate(63.2 454)" text-anchor="end">4000</text>
<line x1="366.5" y1="742" x2="366.5" y2="746" stroke="#cfcfcf" stroke-width="1.5"/>
<line x1="664.5" y1="742" x2="664.5" y2="746" stroke="#cfcfcf" stroke-width="1.5"/>
<rect x="440.5" y="602.48" width="75" height="138.62" fill="#00ff00"/>
<rect x="515.5" y="730.52" width="75" height="10.58" fill="#0000ff"/>
<text class="ga" transform="translate(515 757.6)" text-anchor="middle">Global average</text>
<rect x="239.5" y="777.2" width="7.6" height="7.8" fill="#00ff00"/>
<text class="lg" transform="translate(251.3 785.4)">Constructive work</text>
<rect x="359.5" y="777.2" width="7.2" height="7.8" fill="#0000ff"/>
<text class="lg" transform="translate(370.7 785.4) scale(1.02 1)">Wasted work</text>
<text class="ttl" transform="translate(707.8 20.1)">Myocardial work index</text>
<g transform="translate(966.5 214.3) scale(1 0.99)">
<circle r="148.6" fill="none" stroke="#ffff00" stroke-width="2.15"/>
<circle r="99.07" fill="none" stroke="#ffff00" stroke-width="2.15"/>
<circle r="49.53" fill="none" stroke="#ffff00" stroke-width="2.15"/>
<circle r="24.77" fill="none" stroke="#ffff00" stroke-width="2.15"/>
<line x1="24.77" y1="-42.9" x2="74.3" y2="-128.69" stroke="#ffff00" stroke-width="2.15"/>
<line x1="-24.77" y1="-42.9" x2="-74.3" y2="-128.69" stroke="#ffff00" stroke-width="2.15"/>
<line x1="-24.77" y1="42.9" x2="-74.3" y2="128.69" stroke="#ffff00" stroke-width="2.15"/>
<line x1="24.77" y1="42.9" x2="74.3" y2="128.69" stroke="#ffff00" stroke-width="2.15"/>
<line x1="-148.6" y1="0" x2="-24.77" y2="0" stroke="#ffff00" stroke-width="2.15"/>
<line x1="24.77" y1="0" x2="148.6" y2="0" stroke="#ffff00" stroke-width="2.15"/>
<line x1="0" y1="-49.53" x2="0" y2="-24.77" stroke="#ffff00" stroke-width="2.15"/>
<line x1="0" y1="24.77" x2="0" y2="49.53" stroke="#ffff00" stroke-width="2.15"/>
</g>
<text class="sn" transform="translate(1073.96 156.83) scale(1 1.08)" text-anchor="middle">1660</text>
<text class="sn" transform="translate(966.5 95.16) scale(1 1.08)" text-anchor="middle">401</text>
<text class="sn" transform="translate(859.04 156.83) scale(1 1.08)" text-anchor="middle">956</text>
<text class="sn" transform="translate(859.04 280.17) scale(1 1.08)" text-anchor="middle">1377</text>
<text class="sn" transform="translate(966.5 341.84) scale(1 1.08)" text-anchor="middle">1324</text>
<text class="sn" transform="translate(1073.96 280.17) scale(1 1.08)" text-anchor="middle">1378</text>
<text class="sn" transform="translate(1030.85 181.57) scale(1 1.08)" text-anchor="middle">960</text>
<text class="sn" transform="translate(966.5 144.65) scale(1 1.08)" text-anchor="middle">1875</text>
<text class="sn" transform="translate(902.15 181.57) scale(1 1.08)" text-anchor="middle">1015</text>
<text class="sn" transform="translate(902.15 255.43) scale(1 1.08)" text-anchor="middle">1640</text>
<text class="sn" transform="translate(966.5 292.35) scale(1 1.08)" text-anchor="middle">1723</text>
<text class="sn" transform="translate(1030.85 255.43) scale(1 1.08)" text-anchor="middle">1393</text>
<text class="sn" transform="translate(993.08 192.08) scale(1 1.08)" text-anchor="middle">1943</text>
<text class="sn" transform="translate(939.92 192.08) scale(1 1.08)" text-anchor="middle">2019</text>
<text class="sn" transform="translate(939.92 244.92) scale(1 1.08)" text-anchor="middle">2383</text>
<text class="sn" transform="translate(993.08 244.92) scale(1 1.08)" text-anchor="middle">1807</text>
<text class="sn" transform="translate(966.5 218.5) scale(1 1.08)" text-anchor="middle">2038</text>
<text class="rl" transform="translate(965.4 57.1) scale(0.87 1)" text-anchor="middle">ANT_SEPT</text>
<text class="rl" transform="translate(823.5 138.8) scale(0.87 1)" text-anchor="middle">SEPT</text>
<text class="rl" transform="translate(1107.3 138.8) scale(0.87 1)" text-anchor="middle">ANT</text>
<text class="rl" transform="translate(824 299.8) scale(0.87 1)" text-anchor="middle">INF</text>
<text class="rl" transform="translate(1107.3 299.8) scale(0.87 1)" text-anchor="middle">LAT</text>
<text class="rl" transform="translate(965.9 380.9) scale(0.87 1)" text-anchor="middle">POST</text>
<rect x="1293" y="58.3" width="19" height="104" fill="url(#cbA)"/>
<text class="cb" transform="translate(1302.3 51.7)" text-anchor="middle">3500</text>
<text class="cb" transform="translate(1302.3 180.9)" text-anchor="middle">-1000</text>
<text class="cb" transform="translate(1302.3 203.8)" text-anchor="middle">mmHg%</text>
<text class="st" transform="translate(949.4 562.6)">GLS:</text>
<text class="st" transform="translate(1026.6 562.6)">-17 %</text>
<text class="st" transform="translate(949.4 588.2)">GWI:</text>
<text class="st" transform="translate(1026.6 588.2)">1552 mmHg%</text>
<text class="st" transform="translate(949.4 613.8)">GCW:</text>
<text class="st" transform="translate(1026.6 613.8)">1908 mmHg%</text>
<text class="st" transform="translate(949.4 639.4)">GWW:</text>
<text class="st" transform="translate(1026.6 639.4)">157 mmHg%</text>
<text class="st" transform="translate(949.4 665)">GWE:</text>
<text class="st" transform="translate(1026.6 665)">91 %</text>
<text class="st" transform="translate(949.4 690.6)">BP:</text>
<text class="st" transform="translate(1026.6 690.6)">129/69 mmHg</text>
<text class="let" transform="translate(14.5 859.4)">B</text>
<line x1="83" y1="862.5" x2="83" y2="1174.5" stroke="#e2e2e2" stroke-width="1.6"/>
<line x1="82.2" y1="1174" x2="655.8" y2="1174" stroke="#e2e2e2" stroke-width="1.6"/>
<line x1="79" y1="862.5" x2="83" y2="862.5" stroke="#e2e2e2" stroke-width="1.4"/>
<line x1="79" y1="1174" x2="83" y2="1174" stroke="#e2e2e2" stroke-width="1.4"/>
<text class="tk" transform="translate(77.5 867)" text-anchor="end">132</text>
<text class="tk" transform="translate(77.5 1178)" text-anchor="end">0</text>
<line x1="83" y1="1174" x2="83" y2="1178.2" stroke="#e2e2e2" stroke-width="1.4"/>
<text class="tk" transform="translate(83 1190.2)" text-anchor="middle">-30</text>
<line x1="164.71" y1="1174" x2="164.71" y2="1178.2" stroke="#e2e2e2" stroke-width="1.4"/>
<text class="tk" transform="translate(164.71 1190.2)" text-anchor="middle">-25</text>
<line x1="246.43" y1="1174" x2="246.43" y2="1178.2" stroke="#e2e2e2" stroke-width="1.4"/>
<text class="tk" transform="translate(246.43 1190.2)" text-anchor="middle">-20</text>
<line x1="328.14" y1="1174" x2="328.14" y2="1178.2" stroke="#e2e2e2" stroke-width="1.4"/>
<text class="tk" transform="translate(328.14 1190.2)" text-anchor="middle">-15</text>
<line x1="409.86" y1="1174" x2="409.86" y2="1178.2" stroke="#e2e2e2" stroke-width="1.4"/>
<text class="tk" transform="translate(409.86 1190.2)" text-anchor="middle">-10</text>
<line x1="491.57" y1="1174" x2="491.57" y2="1178.2" stroke="#e2e2e2" stroke-width="1.4"/>
<text class="tk" transform="translate(491.57 1190.2)" text-anchor="middle">-5</text>
<line x1="573.29" y1="1174" x2="573.29" y2="1178.2" stroke="#e2e2e2" stroke-width="1.4"/>
<text class="tk" transform="translate(573.29 1190.2)" text-anchor="middle">0</text>
<line x1="655" y1="1174" x2="655" y2="1178.2" stroke="#e2e2e2" stroke-width="1.4"/>
<text class="tk" transform="translate(655 1190.2)" text-anchor="middle">5</text>
<text class="at" transform="translate(369 1207.4)" text-anchor="middle">Strain(%)</text>
<text class="at" transform="translate(50.2 1018.25) rotate(-90)" text-anchor="middle">LVP (mmHg)</text>
<path d="M264.4 875.9C264.8 872.18 265.65 869.85 268 867.7C270.35 865.55 274.78 863.98 278.5 863C282.22 862.02 285.98 861.8 290.3 861.8C294.62 861.8 298.52 862.02 304.4 863C310.28 863.98 316.17 865.15 325.6 867.7C335.03 870.25 349.22 874.77 361 878.3C372.78 881.83 384.53 885.38 396.3 888.9C408.07 892.42 419.83 895.48 431.6 899.4C443.37 903.32 457.08 908.87 466.9 912.4C476.72 915.93 482.65 917.27 490.5 920.6C498.35 923.93 507.73 928.87 514 932.4C520.27 935.93 523.78 938.27 528.1 941.8C532.42 945.33 536.57 949.28 539.9 953.6C543.23 957.92 546.33 962.98 548.1 967.7C549.87 972.42 549.9 977.35 550.5 981.9C551.1 986.45 550.97 987.58 551.7 995C552.43 1002.42 553.97 1015.08 554.9 1026.4C555.83 1037.72 556.37 1051.57 557.3 1062.9C558.23 1074.23 559.57 1085.5 560.5 1094.4C561.43 1103.3 562.02 1111.52 562.9 1116.3C563.78 1121.08 564.5 1121.4 565.8 1123.1C567.1 1124.8 569.28 1125.7 570.7 1126.5C572.12 1127.3 574.7 1127.5 574.3 1127.9C573.9 1128.3 573.77 1128.48 568.3 1128.9C562.83 1129.32 553.25 1129.75 541.5 1130.4C529.75 1131.05 511.15 1132.12 497.8 1132.8C484.45 1133.48 470.3 1134.02 461.4 1134.5C452.5 1134.98 449.05 1135.3 444.4 1135.7C439.75 1136.1 435.85 1136.08 433.5 1136.9C431.15 1137.72 430.92 1139.18 430.3 1140.6C429.68 1142.02 430.68 1144.27 429.8 1145.4C428.92 1146.53 429.85 1146.78 425 1147.4C420.15 1148.02 409.6 1148.5 400.7 1149.1C391.8 1149.7 380.5 1150.68 371.6 1151C362.7 1151.32 354.58 1151.32 347.3 1151C340.02 1150.68 333.97 1150.23 327.9 1149.1C321.83 1147.97 315.77 1146.23 310.9 1144.2C306.03 1142.17 302.35 1139.93 298.7 1136.9C295.05 1133.87 291.83 1130.25 289 1126C286.17 1121.75 283.52 1116.67 281.7 1111.4C279.88 1106.13 279.12 1101.28 278.1 1094.4C277.08 1087.52 276.3 1079.4 275.6 1070.1C274.9 1060.8 274.33 1051.12 273.9 1038.6C273.47 1026.08 273.28 1010.73 273 995C272.72 979.27 272.65 957.77 272.2 944.2C271.75 930.63 271.4 922.63 270.3 913.6C269.2 904.57 266.58 896.28 265.6 890C264.62 883.72 264 879.62 264.4 875.9Z" fill="none" stroke="#ff0a0a" stroke-width="2" stroke-linejoin="round"/>
<line x1="70.7" y1="1282.5" x2="70.7" y2="1579" stroke="#b4b4b4" stroke-width="1.8"/>
<line x1="69.8" y1="1575" x2="664.4" y2="1575" stroke="#cfcfcf" stroke-width="1.8"/>
<line x1="66.2" y1="1575" x2="70.7" y2="1575" stroke="#b4b4b4" stroke-width="1.5"/>
<text class="tk" transform="translate(64.9 1579.5)" text-anchor="end">0</text>
<line x1="66.2" y1="1501.88" x2="70.7" y2="1501.88" stroke="#b4b4b4" stroke-width="1.5"/>
<text class="tk" transform="translate(64.9 1506.38)" text-anchor="end">1000</text>
<line x1="66.2" y1="1428.75" x2="70.7" y2="1428.75" stroke="#b4b4b4" stroke-width="1.5"/>
<text class="tk" transform="translate(64.9 1433.25)" text-anchor="end">2000</text>
<line x1="66.2" y1="1355.62" x2="70.7" y2="1355.62" stroke="#b4b4b4" stroke-width="1.5"/>
<text class="tk" transform="translate(64.9 1360.12)" text-anchor="end">3000</text>
<line x1="66.2" y1="1282.5" x2="70.7" y2="1282.5" stroke="#b4b4b4" stroke-width="1.5"/>
<text class="tk" transform="translate(64.9 1287)" text-anchor="end">4000</text>
<line x1="367.5" y1="1575" x2="367.5" y2="1579" stroke="#cfcfcf" stroke-width="1.5"/>
<line x1="663.5" y1="1575" x2="663.5" y2="1579" stroke="#cfcfcf" stroke-width="1.5"/>
<rect x="441" y="1404.03" width="74.5" height="170.07" fill="#00ff00"/>
<rect x="515.5" y="1556.35" width="74.5" height="17.75" fill="#0000ff"/>
<text class="ga" transform="translate(514.5 1590.6)" text-anchor="middle">Global average</text>
<rect x="241.5" y="1610.2" width="7.6" height="7.8" fill="#00ff00"/>
<text class="lg" transform="translate(253.3 1618.4)">Constructive work</text>
<rect x="360" y="1610.2" width="7.2" height="7.8" fill="#0000ff"/>
<text class="lg" transform="translate(371.2 1618.4) scale(1.02 1)">Wasted work</text>
<text class="ttl" transform="translate(707.7 851.3)">Myocardial work index</text>
<g transform="translate(965.15 1046.4) scale(1 1)">
<circle r="148.4" fill="none" stroke="#ffff00" stroke-width="2.15"/>
<circle r="98.93" fill="none" stroke="#ffff00" stroke-width="2.15"/>
<circle r="49.47" fill="none" stroke="#ffff00" stroke-width="2.15"/>
<circle r="24.73" fill="none" stroke="#ffff00" stroke-width="2.15"/>
<line x1="24.73" y1="-42.84" x2="74.2" y2="-128.52" stroke="#ffff00" stroke-width="2.15"/>
<line x1="-24.73" y1="-42.84" x2="-74.2" y2="-128.52" stroke="#ffff00" stroke-width="2.15"/>
<line x1="-24.73" y1="42.84" x2="-74.2" y2="128.52" stroke="#ffff00" stroke-width="2.15"/>
<line x1="24.73" y1="42.84" x2="74.2" y2="128.52" stroke="#ffff00" stroke-width="2.15"/>
<line x1="-148.4" y1="0" x2="-24.73" y2="0" stroke="#ffff00" stroke-width="2.15"/>
<line x1="24.73" y1="0" x2="148.4" y2="0" stroke="#ffff00" stroke-width="2.15"/>
<line x1="0" y1="-49.47" x2="0" y2="-24.73" stroke="#ffff00" stroke-width="2.15"/>
<line x1="0" y1="24.73" x2="0" y2="49.47" stroke="#ffff00" stroke-width="2.15"/>
</g>
<text class="sn" transform="translate(1072.46 988.64) scale(1 1.08)" text-anchor="middle">2459</text>
<text class="sn" transform="translate(965.15 926.69) scale(1 1.08)" text-anchor="middle">1334</text>
<text class="sn" transform="translate(857.84 988.64) scale(1 1.08)" text-anchor="middle">1252</text>
<text class="sn" transform="translate(857.84 1112.56) scale(1 1.08)" text-anchor="middle">1903</text>
<text class="sn" transform="translate(965.15 1174.51) scale(1 1.08)" text-anchor="middle">1965</text>
<text class="sn" transform="translate(1072.46 1112.56) scale(1 1.08)" text-anchor="middle">2102</text>
<text class="sn" transform="translate(1029.41 1013.5) scale(1 1.08)" text-anchor="middle">2351</text>
<text class="sn" transform="translate(965.15 976.4) scale(1 1.08)" text-anchor="middle">1668</text>
<text class="sn" transform="translate(900.89 1013.5) scale(1 1.08)" text-anchor="middle">1655</text>
<text class="sn" transform="translate(900.89 1087.7) scale(1 1.08)" text-anchor="middle">1664</text>
<text class="sn" transform="translate(965.15 1124.8) scale(1 1.08)" text-anchor="middle">1895</text>
<text class="sn" transform="translate(1029.41 1087.7) scale(1 1.08)" text-anchor="middle">2064</text>
<text class="sn" transform="translate(991.7 1024.05) scale(1 1.08)" text-anchor="middle">2276</text>
<text class="sn" transform="translate(938.6 1024.05) scale(1 1.08)" text-anchor="middle">2221</text>
<text class="sn" transform="translate(938.6 1077.15) scale(1 1.08)" text-anchor="middle">2447</text>
<text class="sn" transform="translate(991.7 1077.15) scale(1 1.08)" text-anchor="middle">1937</text>
<text class="sn" transform="translate(965.15 1050.6) scale(1 1.08)" text-anchor="middle">2220</text>
<text class="rl" transform="translate(965.1 888.5) scale(0.87 1)" text-anchor="middle">ANT_SEPT</text>
<text class="rl" transform="translate(823 970.1) scale(0.87 1)" text-anchor="middle">SEPT</text>
<text class="rl" transform="translate(1106.2 970.1) scale(0.87 1)" text-anchor="middle">ANT</text>
<text class="rl" transform="translate(823.5 1133.1) scale(0.87 1)" text-anchor="middle">INF</text>
<text class="rl" transform="translate(1105.7 1133.1) scale(0.87 1)" text-anchor="middle">LAT</text>
<text class="rl" transform="translate(965.1 1213.5) scale(0.87 1)" text-anchor="middle">POST</text>
<rect x="1291" y="889.5" width="19.3" height="104" fill="url(#cbB)"/>
<text class="cb" transform="translate(1300.6 882.7)" text-anchor="middle">3500</text>
<text class="cb" transform="translate(1300.6 1013.2)" text-anchor="middle">-1000</text>
<text class="cb" transform="translate(1300.6 1036.4)" text-anchor="middle">mmHg%</text>
<text class="st" transform="translate(948.9 1395.8)">GLS:</text>
<text class="st" transform="translate(1025.5 1395.8)">-19 %</text>
<text class="st" transform="translate(948.9 1421.4)">GWI:</text>
<text class="st" transform="translate(1025.5 1421.4)">1980 mmHg%</text>
<text class="st" transform="translate(948.9 1447)">GCW:</text>
<text class="st" transform="translate(1025.5 1447)">2338 mmHg%</text>
<text class="st" transform="translate(948.9 1472.6)">GWW:</text>
<text class="st" transform="translate(1025.5 1472.6)">255 mmHg%</text>
<text class="st" transform="translate(948.9 1498.2)">GWE:</text>
<text class="st" transform="translate(1025.5 1498.2)">90 %</text>
<text class="st" transform="translate(948.9 1523.8)">BP:</text>
<text class="st" transform="translate(1025.5 1523.8)">132/80 mmHg</text>
<text class="let" transform="translate(15.2 1683.6) scale(1 1.07)">C</text>
<line x1="87.5" y1="1692.2" x2="87.5" y2="2008" stroke="#e2e2e2" stroke-width="1.6"/>
<line x1="86.7" y1="2007.5" x2="642.3" y2="2007.5" stroke="#e2e2e2" stroke-width="1.6"/>
<line x1="83.5" y1="1692.2" x2="87.5" y2="1692.2" stroke="#e2e2e2" stroke-width="1.4"/>
<line x1="83.5" y1="2007.5" x2="87.5" y2="2007.5" stroke="#e2e2e2" stroke-width="1.4"/>
<text class="tk" transform="translate(82 1696.7) scale(0.96 1)" text-anchor="end">137</text>
<text class="tk" transform="translate(82 2011.5) scale(0.96 1)" text-anchor="end">0</text>
<line x1="87.5" y1="2007.5" x2="87.5" y2="2011.7" stroke="#e2e2e2" stroke-width="1.4"/>
<text class="tk" transform="translate(87.5 2023.7) scale(0.96 1)" text-anchor="middle">-40</text>
<line x1="149.06" y1="2007.5" x2="149.06" y2="2011.7" stroke="#e2e2e2" stroke-width="1.4"/>
<text class="tk" transform="translate(149.06 2023.7) scale(0.96 1)" text-anchor="middle">-35</text>
<line x1="210.61" y1="2007.5" x2="210.61" y2="2011.7" stroke="#e2e2e2" stroke-width="1.4"/>
<text class="tk" transform="translate(210.61 2023.7) scale(0.96 1)" text-anchor="middle">-30</text>
<line x1="272.17" y1="2007.5" x2="272.17" y2="2011.7" stroke="#e2e2e2" stroke-width="1.4"/>
<text class="tk" transform="translate(272.17 2023.7) scale(0.96 1)" text-anchor="middle">-25</text>
<line x1="333.72" y1="2007.5" x2="333.72" y2="2011.7" stroke="#e2e2e2" stroke-width="1.4"/>
<text class="tk" transform="translate(333.72 2023.7) scale(0.96 1)" text-anchor="middle">-20</text>
<line x1="395.28" y1="2007.5" x2="395.28" y2="2011.7" stroke="#e2e2e2" stroke-width="1.4"/>
<text class="tk" transform="translate(395.28 2023.7) scale(0.96 1)" text-anchor="middle">-15</text>
<line x1="456.83" y1="2007.5" x2="456.83" y2="2011.7" stroke="#e2e2e2" stroke-width="1.4"/>
<text class="tk" transform="translate(456.83 2023.7) scale(0.96 1)" text-anchor="middle">-10</text>
<line x1="518.39" y1="2007.5" x2="518.39" y2="2011.7" stroke="#e2e2e2" stroke-width="1.4"/>
<text class="tk" transform="translate(518.39 2023.7) scale(0.96 1)" text-anchor="middle">-5</text>
<line x1="579.94" y1="2007.5" x2="579.94" y2="2011.7" stroke="#e2e2e2" stroke-width="1.4"/>
<text class="tk" transform="translate(579.94 2023.7) scale(0.96 1)" text-anchor="middle">0</text>
<line x1="641.5" y1="2007.5" x2="641.5" y2="2011.7" stroke="#e2e2e2" stroke-width="1.4"/>
<text class="tk" transform="translate(641.5 2023.7) scale(0.96 1)" text-anchor="middle">5</text>
<text class="at" transform="translate(364 2040.9) scale(0.96 1)" text-anchor="middle">Strain(%)</text>
<text class="at" transform="translate(55 1849.85) rotate(-90) scale(1 0.96)" text-anchor="middle">LVP (mmHg)</text>
<path d="M298.8 1730.8C299.17 1726.02 299.52 1721.73 301 1717.5C302.48 1713.27 304.75 1708.88 307.7 1705.4C310.65 1701.92 314.28 1698.7 318.7 1696.6C323.12 1694.5 328.68 1693.55 334.2 1692.8C339.72 1692.05 346.65 1692.03 351.8 1692.1C356.95 1692.17 358.85 1691.9 365.1 1693.2C371.35 1694.5 379.73 1696.77 389.3 1699.9C398.87 1703.03 409.62 1707.03 422.5 1712C435.38 1716.97 453.73 1724 466.6 1729.7C479.47 1735.4 488.67 1739.77 499.7 1746.2C510.73 1752.63 523.6 1761.67 532.8 1768.3C542 1774.93 549.2 1780.67 554.9 1786C560.6 1791.33 564.42 1795.13 567 1800.3C569.58 1805.47 569.1 1809.3 570.4 1817C571.7 1824.7 573.78 1836.8 574.8 1846.5C575.82 1856.2 576.13 1864.9 576.5 1875.2C576.87 1885.5 577 1895.42 577 1908.3C577 1921.18 576.13 1944.4 576.5 1952.5C576.87 1960.6 578.47 1955.62 579.2 1956.9C579.93 1958.18 582 1959.47 580.9 1960.2C579.8 1960.93 578.77 1960.38 572.6 1961.3C566.43 1962.22 554.2 1964.42 543.9 1965.7C533.6 1966.98 518.53 1968.18 510.8 1969C503.07 1969.82 501.18 1969.87 497.5 1970.6C493.82 1971.33 491.65 1972.2 488.7 1973.4C485.75 1974.6 483.48 1976.7 479.8 1977.8C476.12 1978.9 476.15 1979.33 466.6 1980C457.05 1980.67 435.38 1981.23 422.5 1981.8C409.62 1982.37 400.35 1983.07 389.3 1983.4C378.25 1983.73 365.38 1983.98 356.2 1983.8C347.02 1983.62 340.45 1983.3 334.2 1982.3C327.95 1981.3 322.75 1979.47 318.7 1977.8C314.65 1976.13 312.03 1974.32 309.9 1972.3C307.77 1970.28 306.83 1969.75 305.9 1965.7C304.97 1961.65 304.93 1955.73 304.3 1948C303.67 1940.27 302.65 1931.43 302.1 1919.3C301.55 1907.17 301.25 1890.08 301 1875.2C300.75 1860.32 300.78 1847.82 300.6 1830C300.42 1812.18 300.2 1782.27 299.9 1768.3C299.6 1754.33 298.98 1752.45 298.8 1746.2C298.62 1739.95 298.43 1735.58 298.8 1730.8Z" fill="none" stroke="#ff0a0a" stroke-width="2" stroke-linejoin="round"/>
<line x1="75" y1="2115" x2="75" y2="2415.5" stroke="#b4b4b4" stroke-width="1.8"/>
<line x1="74.1" y1="2411.5" x2="650.9" y2="2411.5" stroke="#cfcfcf" stroke-width="1.8"/>
<line x1="70.5" y1="2411.5" x2="75" y2="2411.5" stroke="#b4b4b4" stroke-width="1.5"/>
<text class="tk" transform="translate(69.2 2416) scale(0.96 1)" text-anchor="end">0</text>
<line x1="70.5" y1="2352.2" x2="75" y2="2352.2" stroke="#b4b4b4" stroke-width="1.5"/>
<text class="tk" transform="translate(69.2 2356.7) scale(0.96 1)" text-anchor="end">1000</text>
<line x1="70.5" y1="2292.9" x2="75" y2="2292.9" stroke="#b4b4b4" stroke-width="1.5"/>
<text class="tk" transform="translate(69.2 2297.4) scale(0.96 1)" text-anchor="end">2000</text>
<line x1="70.5" y1="2233.6" x2="75" y2="2233.6" stroke="#b4b4b4" stroke-width="1.5"/>
<text class="tk" transform="translate(69.2 2238.1) scale(0.96 1)" text-anchor="end">3000</text>
<line x1="70.5" y1="2174.3" x2="75" y2="2174.3" stroke="#b4b4b4" stroke-width="1.5"/>
<text class="tk" transform="translate(69.2 2178.8) scale(0.96 1)" text-anchor="end">4000</text>
<line x1="70.5" y1="2115" x2="75" y2="2115" stroke="#b4b4b4" stroke-width="1.5"/>
<text class="tk" transform="translate(69.2 2119.5) scale(0.96 1)" text-anchor="end">5000</text>
<line x1="362" y1="2411.5" x2="362" y2="2415.5" stroke="#cfcfcf" stroke-width="1.5"/>
<line x1="650" y1="2411.5" x2="650" y2="2415.5" stroke="#cfcfcf" stroke-width="1.5"/>
<rect x="434" y="2235.85" width="72.5" height="174.75" fill="#00ff00"/>
<rect x="506.5" y="2400.77" width="72" height="9.83" fill="#0000ff"/>
<text class="ga" transform="translate(505 2427.1) scale(0.96 1)" text-anchor="middle">Global average</text>
<rect x="240.5" y="2446.8" width="7.6" height="7.8" fill="#00ff00"/>
<text class="lg" transform="translate(252.3 2455) scale(0.96 1)">Constructive work</text>
<rect x="355.5" y="2446.8" width="7.2" height="7.8" fill="#0000ff"/>
<text class="lg" transform="translate(366.7 2455) scale(0.98 1)">Wasted work</text>
<text class="ttl" transform="translate(692.5 1681) scale(0.96 1)">Myocardial work index</text>
<g transform="translate(941.9 1877.7) scale(0.96 1)">
<circle r="149.45" fill="none" stroke="#ffff00" stroke-width="2.15"/>
<circle r="99.63" fill="none" stroke="#ffff00" stroke-width="2.15"/>
<circle r="49.82" fill="none" stroke="#ffff00" stroke-width="2.15"/>
<circle r="24.91" fill="none" stroke="#ffff00" stroke-width="2.15"/>
<line x1="24.91" y1="-43.14" x2="74.73" y2="-129.43" stroke="#ffff00" stroke-width="2.15"/>
<line x1="-24.91" y1="-43.14" x2="-74.72" y2="-129.43" stroke="#ffff00" stroke-width="2.15"/>
<line x1="-24.91" y1="43.14" x2="-74.73" y2="129.43" stroke="#ffff00" stroke-width="2.15"/>
<line x1="24.91" y1="43.14" x2="74.73" y2="129.43" stroke="#ffff00" stroke-width="2.15"/>
<line x1="-149.45" y1="0" x2="-24.91" y2="0" stroke="#ffff00" stroke-width="2.15"/>
<line x1="24.91" y1="0" x2="149.45" y2="0" stroke="#ffff00" stroke-width="2.15"/>
<line x1="0" y1="-49.82" x2="0" y2="-24.91" stroke="#ffff00" stroke-width="2.15"/>
<line x1="0" y1="24.91" x2="0" y2="49.82" stroke="#ffff00" stroke-width="2.15"/>
</g>
<text class="sn" transform="translate(1045.76 1819.5) scale(0.96 1.08)" text-anchor="middle">2548</text>
<text class="sn" transform="translate(941.9 1757.11) scale(0.96 1.08)" text-anchor="middle">1870</text>
<text class="sn" transform="translate(838.04 1819.5) scale(0.96 1.08)" text-anchor="middle">1171</text>
<text class="sn" transform="translate(838.04 1944.3) scale(0.96 1.08)" text-anchor="middle">2270</text>
<text class="sn" transform="translate(941.9 2006.69) scale(0.96 1.08)" text-anchor="middle">2389</text>
<text class="sn" transform="translate(1045.76 1944.3) scale(0.96 1.08)" text-anchor="middle">2261</text>
<text class="sn" transform="translate(1004.09 1844.54) scale(0.96 1.08)" text-anchor="middle">2932</text>
<text class="sn" transform="translate(941.9 1807.18) scale(0.96 1.08)" text-anchor="middle">3294</text>
<text class="sn" transform="translate(879.71 1844.54) scale(0.96 1.08)" text-anchor="middle">2344</text>
<text class="sn" transform="translate(879.71 1919.26) scale(0.96 1.08)" text-anchor="middle">1808</text>
<text class="sn" transform="translate(941.9 1956.62) scale(0.96 1.08)" text-anchor="middle">2697</text>
<text class="sn" transform="translate(1004.09 1919.26) scale(0.96 1.08)" text-anchor="middle">3064</text>
<text class="sn" transform="translate(967.59 1855.16) scale(0.96 1.08)" text-anchor="middle">3637</text>
<text class="sn" transform="translate(916.21 1855.16) scale(0.96 1.08)" text-anchor="middle">3827</text>
<text class="sn" transform="translate(916.21 1908.64) scale(0.96 1.08)" text-anchor="middle">3329</text>
<text class="sn" transform="translate(967.59 1908.64) scale(0.96 1.08)" text-anchor="middle">2880</text>
<text class="sn" transform="translate(941.9 1881.9) scale(0.96 1.08)" text-anchor="middle">3418</text>
<text class="rl" transform="translate(941.3 1718.2) scale(0.83 1)" text-anchor="middle">ANT_SEPT</text>
<text class="rl" transform="translate(804.8 1800.6) scale(0.83 1)" text-anchor="middle">SEPT</text>
<text class="rl" transform="translate(1079 1800.6) scale(0.83 1)" text-anchor="middle">ANT</text>
<text class="rl" transform="translate(804.8 1964.9) scale(0.83 1)" text-anchor="middle">INF</text>
<text class="rl" transform="translate(1079 1964.9) scale(0.83 1)" text-anchor="middle">LAT</text>
<text class="rl" transform="translate(942 2046) scale(0.83 1)" text-anchor="middle">POST</text>
<rect x="1258.3" y="1719.5" width="18" height="105.7" fill="url(#cbC)"/>
<text class="cb" transform="translate(1267.3 1712.6) scale(0.96 1)" text-anchor="middle">3500</text>
<text class="cb" transform="translate(1267.3 1843.6) scale(0.96 1)" text-anchor="middle">-1000</text>
<text class="cb" transform="translate(1267.3 1867.8) scale(0.96 1)" text-anchor="middle">mmHg%</text>
<text class="st" transform="translate(926.2 2230.7) scale(0.96 1)">GLS:</text>
<text class="st" transform="translate(1000.7 2230.7) scale(0.96 1)">-22 %</text>
<text class="st" transform="translate(926.2 2256.4) scale(0.96 1)">GWI:</text>
<text class="st" transform="translate(1000.7 2256.4) scale(0.96 1)">2731 mmHg%</text>
<text class="st" transform="translate(926.2 2282.1) scale(0.96 1)">GCW:</text>
<text class="st" transform="translate(1000.7 2282.1) scale(0.96 1)">2962 mmHg%</text>
<text class="st" transform="translate(926.2 2307.8) scale(0.96 1)">GWW:</text>
<text class="st" transform="translate(1000.7 2307.8) scale(0.96 1)">181 mmHg%</text>
<text class="st" transform="translate(926.2 2333.5) scale(0.96 1)">GWE:</text>
<text class="st" transform="translate(1000.7 2333.5) scale(0.96 1)">93 %</text>
<text class="st" transform="translate(926.2 2359.2) scale(0.96 1)">BP:</text>
<text class="st" transform="translate(1000.7 2359.2) scale(0.96 1)">137/85 mmHg</text>
</svg>
</body></html>
